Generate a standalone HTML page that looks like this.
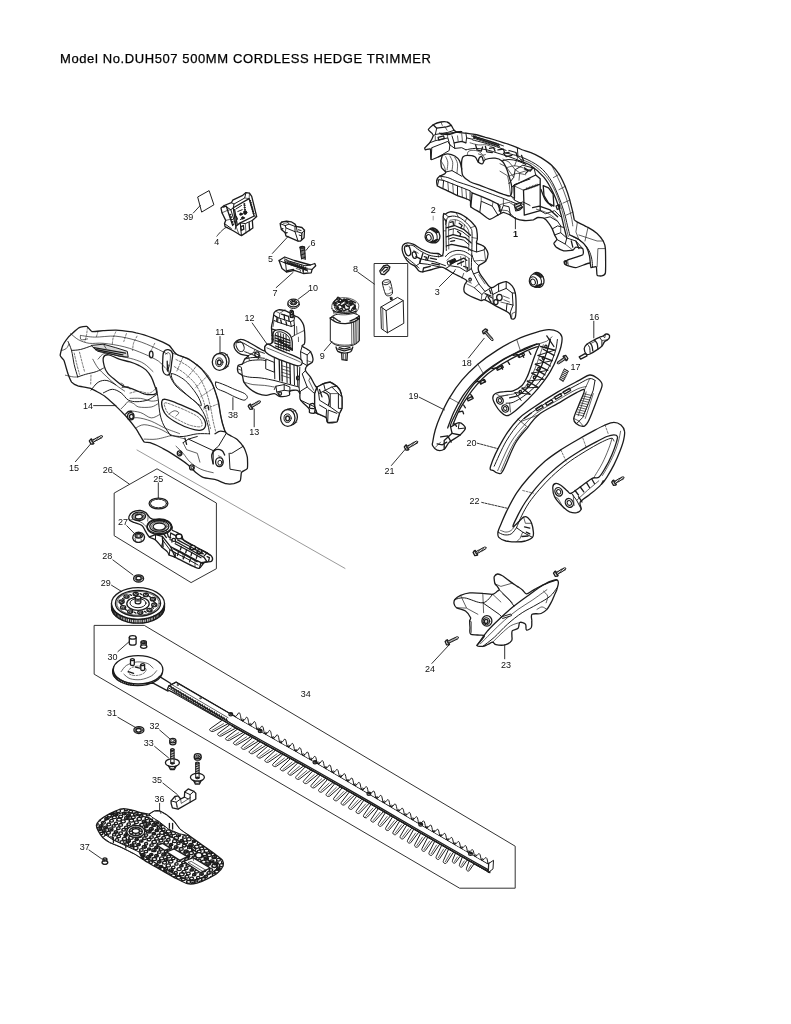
<!DOCTYPE html>
<html lang="en">
<head>
<meta charset="utf-8">
<title>Model No.DUH507 500MM CORDLESS HEDGE TRIMMER</title>
<style>
html,body{margin:0;padding:0;background:#fff;}
body{width:791px;height:1024px;overflow:hidden;font-family:"Liberation Sans",sans-serif;}
svg{display:block;position:absolute;left:0;top:0;will-change:transform;}
svg path,svg ellipse,svg circle,svg line,svg rect,svg polyline{fill:none;stroke:#1c1c1c;stroke-width:1.0;stroke-linecap:round;stroke-linejoin:round;}
svg .w{fill:#fff;}
svg .k{fill:#1c1c1c;}
svg .g{fill:#d9d9d9;}
svg .t{stroke-width:0.7;}
svg .tt{stroke-width:0.45;}
svg .b{stroke-width:1.3;}
svg .d{stroke-dasharray:2 1.5;stroke-width:0.6;}
svg .ld{stroke-width:0.9;}
svg text{font-family:"Liberation Sans",sans-serif;font-size:9px;fill:#111;text-anchor:middle;}
svg text.title{font-size:13px;text-anchor:start;fill:#000;stroke:#000;stroke-width:0.25;}
</style>
</head>
<body>
<svg width="791" height="1024" viewBox="0 0 791 1024">
<g id="p_0a">
<path d="M428.3 129.6C428.5 128.9 432.2 125.4 433.2 124.7C434.3 124.1 439.7 122.2 440.9 122C442 121.7 446.2 121.7 447.1 122C448 122.2 450.7 124.7 451.3 125.4C451.9 126.1 453.5 129.7 454.1 130.3C454.7 130.9 457.3 132.2 458.2 132.4C459.2 132.6 464.4 132.9 465.9 133.1C467.3 133.3 474 134.1 475.6 134.5C477.2 134.8 483.7 136.8 485.4 137.3C487 137.7 493.4 139.5 495.1 140C496.8 140.6 504.4 142.9 506.2 143.5C508.1 144.1 516 147.1 517.3 147.7C518.7 148.2 521.7 149.6 522.8 150C523.8 150.4 528.8 151.6 530.3 152.3C531.9 152.9 539.2 156.5 541 157.6C542.7 158.7 550.1 163.8 551.6 165.2C553.1 166.6 558 172.5 559.2 174.3C560.3 176 564.3 184.3 565.2 186.4C566.1 188.6 569.2 197.9 569.8 200.1C570.4 202.2 572.4 210.6 572.8 212.2C573.2 213.8 574 219 574.3 219.8C574.7 220.6 576.2 221.4 577.4 222.1C578.5 222.7 586.3 226.4 588 227.4C589.6 228.3 595.8 232.3 597.1 233.4C598.4 234.6 602.5 239.8 603.2 241C603.9 242.3 605.2 246 605.4 248.6C605.6 251.3 605.8 270.6 605.4 272.9C605.1 275.2 602.3 275.7 601.6 275.9C600.9 276.1 597.5 275.9 597.1 275.2C596.6 274.4 596.8 267.4 596.3 266.8C595.8 266.2 591.6 267.9 591 267.6C590.5 267.3 590.8 263 589.5 263C588.2 263 577.7 267.4 575.9 267.6C574 267.8 567.7 265.7 566.8 265.3C565.8 264.9 564.4 263.5 564.5 263C564.5 262.6 566 260.7 567.5 260C569 259.3 581.4 255.6 582.7 254.7C583.9 253.7 583.2 249.2 582.7 248.6C582.1 248 576.7 247 575.9 247.1C575 247.2 573.8 249.8 572.8 250.1C571.8 250.4 565.1 251.1 563.7 250.9C562.3 250.6 557 247.7 556.1 247.1C555.3 246.5 553.8 243.9 553.9 243.3C553.9 242.7 556.8 240.2 556.9 239.5C557 238.8 555 235.8 554.6 235C554.2 234.1 552.8 229.9 552.3 228.9C551.8 227.9 549.2 223.7 548.5 222.8C547.9 221.9 544.9 218.7 544 218.3C543.1 217.8 538.8 217.4 537.9 217.5C537 217.6 534.5 219.5 533.4 219.8C532.2 220 525.8 220.7 524.3 220.5C522.8 220.4 516.4 218.8 515.2 218.3C513.9 217.8 509.5 214.7 509.1 214.5C508.7 214.2 510.9 215.3 510.4 215.1C509.9 214.9 504.5 212.3 503.4 212.3C502.4 212.3 499 214.5 497.9 215.1C496.7 215.7 491 219.5 489.5 219.3C488 219.1 481.4 213.4 479.8 212.3C478.2 211.3 471.6 207.8 470.8 206.8C469.9 205.8 471.2 201.5 470.1 200.5C469 199.6 459.8 196.6 457.5 195.7C455.3 194.7 444.6 189.5 442.9 188.7C441.3 187.9 437.9 186.6 437.4 185.9C436.9 185.2 436.5 181.2 436.7 180.4C436.9 179.5 438.8 176.7 439.5 176.2C440.1 175.7 443.8 174.5 444.3 174.1C444.9 173.8 446 172.5 445.7 172C445.5 171.5 442 168.8 441.6 167.8C441.1 166.9 440.8 161.9 440.9 160.9C440.9 159.8 442.4 155.7 442.3 155.3C442.1 155 439.7 156.4 438.8 156.7C437.8 157.1 431.8 160.1 431.1 159.5C430.4 158.9 430.9 149.9 430.4 149.1C430 148.3 426 149.9 425.6 149.8C425.1 149.7 424.5 148.3 424.9 147.7C425.2 147.1 429 143.8 429.7 142.8C430.4 141.8 433 136.7 433.2 135.9C433.4 135 432.2 133.6 431.8 133.1C431.4 132.6 428.2 130.3 428.3 129.6Z" class="w b"/>
<path d="M433.2 124.7 L436.7 128.2 L446.4 126.8 L451.3 125.4" class="b"/>
<path d="M436.7 128.2 L435.3 134.5 L433.2 135.9"/>
<path d="M435.3 134.5 L447.8 132.4 L454.1 130.3"/>
<path d="M440.9 122 L442.3 125.4" class="t"/>
<path d="M445 126.8 L447.1 130.3" class="t"/>
<path d="M439.5 133.1C440.9 133.3 445 134.6 447.8 134.5C450.6 134.4 453.8 132.8 456.2 132.4C458.5 131.9 460.8 131.8 461.7 131.7" class="b"/>
<path d="M440.9 134.5 L460.3 131.4" stroke-width="2" stroke="#222"/>
<path d="M429.7 142.8 L435.3 140.7 L447.8 137.9 L449.9 144.9 L449.2 150.5 L438.8 156.7"/>
<path d="M431.1 159.5 L431.8 147.7 L447.8 141.4 L449.9 144.9"/>
<path d="M431.8 147.7 L430.4 149.1" class="t"/>
<path d="M435.3 140.7 L435.3 135.9" class="t"/>
<path d="M447.8 137.9 L447.1 133.1" class="t"/>
<path d="M438.1 137.3 L443.6 135.9 L444.3 138.6 L438.8 140Z" class="b"/>
<path d="M449.9 144.9 L454.8 148.4 L461.7 147.7 L465.9 149.8"/>
<path d="M454.8 148.4 L454.1 142.8 L452 135.9"/>
<path d="M454.1 142.8 L461.7 141.4 L465.9 142.8" class="b"/>
<path d="M457.5 135.9 L458.2 141.4" class="t"/>
<path d="M461.7 133.8 L462.4 140.7" class="t"/>
<path d="M465.9 133.1 L466.6 137.9 L472.8 139.3 L475.6 134.5"/>
<path d="M466.6 137.9 L465.9 142.8"/>
<path d="M442.3 155.3C443.2 155.1 445.7 153.8 447.8 153.9C449.9 154.1 452.8 154.9 454.8 156C456.7 157.2 458.5 158.7 459.6 160.9C460.8 163.1 461.4 167.8 461.7 169.2" class="b"/>
<path d="M440.9 160.9C441.4 161.8 443.5 164.6 444.3 166.5C445.1 168.3 445.5 171.1 445.7 172" class="t"/>
<path d="M445.7 156.7C446.1 157.6 447.6 160.1 447.8 162.3C448 164.5 447.2 168.7 447.1 169.9" class="t"/>
<path d="M449.9 156C450.4 157.1 452.3 159.8 452.7 162.3C453 164.7 452.1 169.2 452 170.6" class="t"/>
<path d="M454.8 157.4C455.2 158.5 457.2 161 457.5 163.7C457.9 166.3 457 171.8 456.9 173.4" class="t"/>
<path d="M445.7 172 L452 170.6 L456.9 173.4 L461.7 176.2"/>
<path d="M461.7 160.9C462 158.8 462.2 157.6 463.1 156.7C464 155.8 465.3 155.3 467.3 155.3C469.3 155.3 473.1 155.6 474.9 156.7C476.8 157.9 477.1 161.1 478.4 162.3C479.7 163.4 481.4 164.1 482.6 163.7C483.7 163.2 483.3 160.4 485.4 159.5C487.4 158.6 492.3 157.9 495.1 158.1C497.9 158.3 500.2 159.3 502 160.9C503.9 162.5 505.1 165.3 506.2 167.8C507.4 170.4 508.1 172.9 509 176.2C509.9 179.4 511.6 184.1 511.8 187.3C512 190.6 511.8 194.5 510.4 195.7C509 196.8 506.5 195.2 503.4 194.3C500.4 193.3 496 191.5 492.3 190.1C488.6 188.7 484.9 187.3 481.2 185.9C477.5 184.5 473.1 183.4 470.1 181.8C467.1 180.1 464.5 178.3 463.1 176.2C461.7 174.1 462 171.8 461.7 169.2C461.5 166.7 461.5 163 461.7 160.9Z" class="b" t="0.3"/>
<path d="M467.3 155.3C467.5 154.6 467.3 152 468.7 151.2C470.1 150.3 473.5 150.1 475.6 150.5C477.7 150.8 479.6 151.7 481.2 153.2C482.8 154.7 484.7 158.5 485.4 159.5" class="t"/>
<path d="M478.4 162.3C478.5 161.6 478.5 159 479.1 158.1C479.7 157.2 481.2 156.3 481.9 156.7C482.6 157.2 483 160.2 483.3 160.9" class="b"/>
<path d="M473.5 135.9 L474.8 138.6" class="b"/>
<path d="M475.1 136.4 L476.3 139.1" class="b"/>
<path d="M476.6 136.9 L477.9 139.6" class="b"/>
<path d="M478.1 137.4 L479.4 140.1" class="b"/>
<path d="M479.7 137.9 L480.9 140.6" class="b"/>
<path d="M481.2 138.4 L482.4 141.1" class="b"/>
<path d="M482.7 138.9 L484 141.6" class="b"/>
<path d="M484.2 139.4 L485.5 142.1" class="b"/>
<path d="M485.8 139.9 L487 142.6" class="b"/>
<path d="M487.3 140.4 L488.6 143.1" class="b"/>
<path d="M488.8 140.9 L490.1 143.6" class="b"/>
<path d="M490.4 141.4 L491.6 144.1" class="b"/>
<path d="M491.9 141.9 L493.1 144.6" class="b"/>
<path d="M493.4 142.4 L494.7 145.1" class="b"/>
<path d="M495 142.9 L496.2 145.6" class="b"/>
<path d="M496.5 143.4 L497.7 146.2" class="b"/>
<path d="M498 143.9 L499.3 146.7" class="b"/>
<path d="M471.5 135.9C473.3 136.4 478.6 137.8 482.6 138.9C486.5 140.1 491.6 141.7 495.1 142.8C498.6 144 502 145.4 503.4 145.9"/>
<path d="M472.8 140C474.7 140.5 480 141.7 484 142.8C487.9 143.9 492.8 145.4 496.5 146.7C500.2 148 504.6 149.8 506.2 150.5"/>
<path d="M465.9 149.8C467.5 149.5 472.1 148.4 475.6 148.4C479.1 148.4 483 149 486.8 149.8C490.5 150.6 494.2 152.1 497.9 153.2C501.6 154.4 505.3 155.4 509 156.7C512.7 158 518.3 160.2 520.1 160.9"/>
<path d="M470.1 142.8C471.5 143.2 475.6 144.6 478.4 144.9C481.2 145.2 484 144.3 486.8 144.9C489.5 145.5 493.7 147.8 495.1 148.4" class="t"/>
<path d="M475.6 144.9 L477 149.8 L481.2 151.2 L482.6 147" class="b"/>
<path d="M485.4 146.3 L486.8 151.9 L492.3 152.5" class="b"/>
<path d="M489.5 148.4 L493.7 147.7 L495.1 151.2" class="b"/>
<path d="M497.9 149.8 L503.4 149.1 L504.8 153.2 L509 152.5" class="b"/>
<path d="M503.4 153.2 L506.2 156.7 L511.8 155.3" class="b"/>
<path d="M509 150.5 L516 152.5 L517.3 156.7" class="b"/>
<path d="M478.4 153.9 L482.6 155.3 L485.4 154.6" class="t"/>
<path d="M502 160.9C503.2 160.7 506.5 159.5 509 159.5C511.6 159.5 514.6 160.1 517.3 160.9C520.1 161.7 524.3 163.8 525.7 164.4"/>
<path d="M506.2 167.8C507.6 167.5 511.8 165.8 514.6 165.8C517.3 165.8 521.5 167.5 522.9 167.8" class="t"/>
<path d="M509 176.2C510.4 175.7 514.6 173.6 517.3 173.4C520.1 173.2 524.3 174.6 525.7 174.8" class="t"/>
<path d="M511.8 187.3 L514.6 184.5 L514.6 198.4 L510.4 195.7"/>
<path d="M514.6 184.5 L530 179"/>
<path d="M517.3 147.7 L518 156.7 L525.7 164.4"/>
<path d="M518 156.7 L514.6 165.8" class="t"/>
<path d="M521.5 155.3 L523.6 160.9" class="b"/>
<path d="M524.3 167.8 L528.5 170.6 L525.7 173.4" class="b"/>
<path d="M439.5 176.2C440.9 176.4 444.8 176.7 447.8 177.6C450.8 178.5 453.8 180.4 457.5 181.8C461.3 183.1 466.1 184.5 470.1 185.9C474 187.3 477.5 188.7 481.2 190.1C484.9 191.5 488.6 192.9 492.3 194.3C496 195.7 500.2 197.2 503.4 198.4C506.7 199.7 510.4 201.3 511.8 201.9"/>
<path d="M442.9 188.7 L443.6 180.4 L457.5 185.9 L457.5 195.7"/>
<path d="M437.4 185.9 L438.8 179.7 L443.6 180.4"/>
<path d="M457.5 185.9 L470.1 190.8 L470.1 200.5"/>
<path d="M447.8 181.8 L448.5 190.8" class="t"/>
<path d="M452.7 183.8 L453.4 193.6" class="t"/>
<path d="M461.7 187.3 L462.4 197.7" class="t"/>
<path d="M465.9 189.4 L466.6 199.1" class="t"/>
<path d="M470.8 206.8 L472.1 192.9 L481.2 196.4 L489.5 199.8 L497.9 204 L500.7 212.3" class="b"/>
<path d="M472.1 192.9 L470.1 190.8"/>
<path d="M479.8 212.3 L481.2 201.2 L492.3 206.1 L497.9 215.1"/>
<path d="M481.2 201.2 L481.2 196.4" class="t"/>
<path d="M492.3 206.1 L493 201.9" class="t"/>
<path d="M500.7 212.3 L503.4 205.4 L509 206.8 L510.4 215.1"/>
<path d="M503.4 205.4 L503.4 198.4" class="t"/>
<path d="M497.9 204 L500 206.1 L499.3 211" class="b"/>
<path d="M440.9 176.9 L442.3 180.4" class="t"/>
<path d="M436.7 180.4 L438.8 179.7" class="t"/>
<path d="M511.8 201.9 L517.3 204 L522.9 201.9 L530 205.4"/>
<path d="M514.6 204 L520.1 202.6 L520.8 209.6 L516 211Z" class="g"/>
<path d="M515.3 206.1 L520.4 204.7" class="b"/>
<path d="M515.7 208.5 L520.7 207.1" class="b"/>
<path d="M506.1 153C508.8 153.8 517.2 155.3 522.8 157.6C528.3 159.9 534.9 163.1 539.4 166.7C544 170.2 547 174.3 550.1 178.8C553.1 183.4 555.4 188.7 557.6 194C559.9 199.3 562.1 205.4 563.7 210.7C565.4 216 566.5 221.8 567.5 225.9C568.5 229.9 569.4 233.4 569.8 235"/>
<path d="M518.2 160.6C520.2 161.4 526 162.4 530.3 165.2C534.6 168 540.2 172.8 544 177.3C547.8 181.9 550.4 186.9 553.1 192.5C555.8 198 558.2 205.1 559.9 210.7C561.7 216.2 562.6 221.3 563.7 225.9C564.9 230.4 566.2 236 566.8 238" class="b"/>
<path d="M520.5 159.4C522.5 160.2 528.3 161.6 532.6 164.4C536.9 167.3 542.5 172 546.3 176.5C550.1 181.1 552.8 186.2 555.4 191.7C558 197.3 560.2 204.4 561.9 209.9C563.6 215.5 564.5 220.7 565.5 225.1C566.6 229.5 567.8 234.6 568.3 236.5" class="t"/>
<path d="M551.6 165.2C552.6 167.2 555.6 173 557.6 177.3C559.7 181.6 561.9 186.4 563.7 191C565.5 195.5 567 200.3 568.3 204.6C569.5 208.9 570.5 213.2 571.3 216.8C572.1 220.3 572.6 224.3 572.8 225.9" class="t"/>
<path d="M559.2 174.3 L553.4 177.6" class="t"/>
<path d="M565.2 186.4 L558.9 189.7" class="t"/>
<path d="M569.8 200.1 L563 203.1" class="t"/>
<path d="M572.8 212.2 L566 215.2" class="t"/>
<path d="M513.7 185.7 L535.7 175 L540.2 178.8 L540.2 210.7 L524.3 215.2 L523.5 190.2 L540.2 184.1" class="b"/>
<path d="M513.7 185.7 L514.4 200.1 L523.5 204.6"/>
<path d="M523.5 190.2 L513.7 185.7" class="t"/>
<path d="M526.5 187.9 L526.7 189.7" class="t"/>
<path d="M528.1 187.4 L528.2 189.2" class="t"/>
<path d="M529.6 186.8 L529.7 188.7" class="t"/>
<path d="M531.1 186.3 L531.3 188.1" class="t"/>
<path d="M532.6 185.7 L532.8 187.6" class="t"/>
<path d="M534.1 185.2 L534.3 187" class="t"/>
<path d="M535.7 184.6 L535.8 186.5" class="t"/>
<path d="M537.2 184.1 L537.3 185.9" class="t"/>
<path d="M535.7 175 L534.1 168.2 L522.8 165.2 L515.2 169.7 L513.7 177.3 L509.1 183.4"/>
<path d="M515.2 169.7 L519.7 172.8 L534.1 168.2" class="t"/>
<path d="M519.7 172.8 L519 180.3" class="t"/>
<path d="M524.3 169 L530.3 171.2 L532.6 168.2" class="b"/>
<path d="M500 163.7 L506.1 166.7 L513.7 177.3" class="t"/>
<path d="M500 171.2 L507.6 175.8 L509.1 183.4" class="t"/>
<path d="M503 159.1 L509.1 162.1 L515.2 169.7" class="t"/>
<path d="M509.1 183.4 L510.6 195.5 L514.4 200.1" class="t"/>
<path d="M514.4 205.4 L519.7 203.1 L522.8 207.6 L518.2 210.7Z" class="g"/>
<path d="M515.2 207.6 L521.2 204.9" class="b"/>
<path d="M516.7 209.9 L522.5 206.9" class="b"/>
<path d="M500 204.6 L509.1 202.3 L514.4 205.4" class="t"/>
<path d="M500 209.9 L507.6 210.7 L515.2 218.3" class="t"/>
<path d="M543.2 185.7 L548.5 187.9 L553.1 194 L553.9 206.1 L548.5 203.1 L544 195.5Z" class="b"/>
<path d="M541 189.4C541.7 191.2 543.7 197.3 545.5 200.1C547.3 202.8 550.6 205.1 551.6 206.1" class="b"/>
<path d="M540.2 210.7 L545.5 213.7 L554.6 210.7 L560.7 216.8"/>
<path d="M532.6 207.6 L539.4 206.1 L550.1 209.9 L557.6 216.8" class="b"/>
<path d="M536.4 209.2C537.9 209.7 542.7 210.9 545.5 212.2C548.3 213.5 551.1 215.2 553.1 216.8C555.1 218.3 556.9 220.5 557.6 221.3" class="t"/>
<path d="M556.1 206.1 L559.2 204.6 L559.9 208.4 L557.3 209.5Z" class="b"/>
<path d="M544 218.3 L550.1 216.8 L557.6 221.3 L560.7 225.9"/>
<path d="M552.3 228.9 L557.6 225.9 L563.7 227.4"/>
<path d="M554.6 235 L560.7 232.7 L566.8 238 L565.2 244.1 L556.9 239.5"/>
<path d="M560.7 232.7 L560.7 225.9" class="t"/>
<path d="M565.2 244.1 L572.8 250.1" class="t"/>
<path d="M566.8 238 L575.9 241 L582.7 248.6"/>
<path d="M569.8 235C571.3 235.7 576.1 237.5 578.9 239.5C581.7 241.5 584.7 244.3 586.5 247.1C588.2 249.9 588.9 253.5 589.5 256.2C590.1 258.8 590.1 261.9 590.3 263" class="b"/>
<path d="M572.8 236.5C574.3 237.4 579.3 239.5 581.9 241.8C584.6 244.1 587.1 247.2 588.7 250.1C590.4 253 591.2 256.4 591.8 259.2C592.4 262 592.4 265.5 592.5 266.8"/>
<path d="M575.9 241 L578.9 248.6" class="b"/>
<path d="M571.3 241 L572.8 247.1" class="b"/>
<path d="M577.4 222.1 L575.9 231.9 L578.9 239.5" class="t"/>
<path d="M588 227.4 L585 241" class="t"/>
<path d="M578.9 235 L597.1 241 L603.2 241" class="t"/>
<path d="M597.1 266.8 L597.9 248.6 L605.4 248.6" class="t"/>
<ellipse cx="565.5" cy="262.6" rx="1.3" ry="1.9" transform="rotate(-20 565.5 262.6)" class="b"/>
<path d="M567.5 260 L568.3 265" class="t"/>
</g>
<g id="p_a">
<ellipse cx="433.4" cy="235.4" rx="6.2" ry="7.6" transform="rotate(-25 433.4 235.4)" class="w b"/>
<ellipse cx="431.4" cy="236.2" rx="5.6" ry="7" transform="rotate(-25 431.4 236.2)" class="w"/>
<ellipse cx="429.2" cy="237.2" rx="3.9" ry="5" transform="rotate(-20 429.2 237.2)" class="w b"/>
<ellipse cx="428.8" cy="237.5" rx="2.3" ry="3" transform="rotate(-20 428.8 237.5)" stroke-width="1.6"/>
<path d="M430.8 229.4l2.4 -1.0" class="b"/>
<path d="M435.4 240.2l2.6 -0.8" class="b"/>
<path d="M431.9 230.1l2.4 -1.0" class="b"/>
<path d="M434.5 240.7l2.6 -0.8" class="b"/>
<path d="M433 230.8l2.4 -1.0" class="b"/>
<path d="M433.6 241.2l2.6 -0.8" class="b"/>
<path d="M434.1 231.5l2.4 -1.0" class="b"/>
<path d="M432.7 241.7l2.6 -0.8" class="b"/>
<path d="M435.2 232.2l2.4 -1.0" class="b"/>
<path d="M431.8 242.2l2.6 -0.8" class="b"/>
<path d="M436.3 232.9l2.4 -1.0" class="b"/>
<path d="M430.9 242.7l2.6 -0.8" class="b"/>
<ellipse cx="537.6" cy="279.9" rx="6.2" ry="7.6" transform="rotate(-25 537.6 279.9)" class="w b"/>
<ellipse cx="535.6" cy="280.7" rx="5.6" ry="7" transform="rotate(-25 535.6 280.7)" class="w"/>
<ellipse cx="533.4" cy="281.7" rx="3.9" ry="5" transform="rotate(-20 533.4 281.7)" class="w b"/>
<ellipse cx="533" cy="282" rx="2.3" ry="3" transform="rotate(-20 533 282)" stroke-width="1.6"/>
<path d="M535 273.9l2.4 -1.0" class="b"/>
<path d="M539.6 284.7l2.6 -0.8" class="b"/>
<path d="M536.1 274.6l2.4 -1.0" class="b"/>
<path d="M538.7 285.2l2.6 -0.8" class="b"/>
<path d="M537.2 275.3l2.4 -1.0" class="b"/>
<path d="M537.8 285.7l2.6 -0.8" class="b"/>
<path d="M538.3 276l2.4 -1.0" class="b"/>
<path d="M536.9 286.2l2.6 -0.8" class="b"/>
<path d="M539.4 276.7l2.4 -1.0" class="b"/>
<path d="M536 286.7l2.6 -0.8" class="b"/>
<path d="M540.5 277.4l2.4 -1.0" class="b"/>
<path d="M535.1 287.2l2.6 -0.8" class="b"/>
<path d="M443.2 217.1C443.6 210.7 444.4 215 445.5 214.1C446.6 213.2 448.3 212.1 450.1 211.8C451.8 211.6 454.4 212.2 456.1 212.6C457.9 213 458.9 213.2 460.7 214.1C462.5 215 465 216.6 466.8 217.9C468.5 219.2 469.9 220.3 471.3 221.7C472.7 223.1 474.2 225 475.1 226.2C476 227.5 476.2 227.3 476.6 229.3C477 231.3 477.4 236.1 477.4 238.4C477.4 240.7 475.9 241.8 476.6 242.9C477.4 244.1 480.5 244.4 481.9 245.2C483.3 246 483.9 246.1 485 247.5C486 248.9 487.9 251.3 488 253.5C488.1 255.8 487.2 259.1 485.7 261.1C484.2 263.2 480 263.9 478.9 265.7C477.7 267.5 477.9 269.2 478.9 271.8C479.9 274.3 482.9 278.2 485 280.9C487 283.5 488.7 287.2 491 287.7C493.3 288.2 496.1 284.9 498.6 283.9C501.1 282.9 503.9 281.2 506.2 281.6C508.5 282 510.7 284.3 512.3 286.2C513.8 288.1 514.7 289.8 515.3 293C515.9 296.2 516.1 301.1 516.1 305.1C516.1 309.2 516.1 315 515.3 317.3C514.5 319.5 512.4 319.3 511.5 318.8C510.6 318.3 510.9 315.5 510 314.2C509.1 313 508.3 312.5 506.2 311.2C504 309.9 500.6 308.5 497.1 306.6C493.6 304.7 487.7 300.9 485 299.8C482.2 298.8 483.7 301.4 480.4 300.3C477.1 299.1 467.9 295.5 465.2 293C462.6 290.5 464.2 287.4 464.5 285.4C464.7 283.4 467.1 282.1 466.8 280.9C466.4 279.6 464.5 279.1 462.2 277.8C459.9 276.6 455.9 274.8 453.1 273.3C450.3 271.8 447.5 269.7 445.5 268.7C443.5 267.7 443.2 267.1 441 267.2C438.7 267.3 434.9 268.7 431.9 269.5C428.8 270.2 424.9 271.5 422.8 271.8C420.6 272 420.2 271.9 419 271C417.7 270.1 416.8 267.8 415.2 266.4C413.5 265.1 410.9 264.3 409.1 262.6C407.3 261 405.7 258.6 404.6 256.6C403.4 254.6 402.5 252.4 402.3 250.5C402 248.6 402.1 246.5 403 245.2C403.9 243.9 405.8 243.1 407.6 242.9C409.4 242.8 411.4 243.4 413.7 244.4C415.9 245.5 418.5 247.6 421.2 249C424 250.4 427.6 252 430.3 252.8C433.1 253.5 435.8 253.5 437.9 253.5C440.1 253.5 442.4 258.9 443.2 252.8C444.1 246.7 442.9 223.6 443.2 217.1Z" class="w b" t="0.2"/>
<path d="M446.3 250.5C446.3 245.7 445.5 227.4 446.3 221.7C447 216 448.8 217.1 450.8 216.4C452.8 215.6 456 216.3 458.4 217.1C460.8 218 463.2 219.9 465.2 221.7C467.3 223.5 469.4 225.5 470.5 227.8C471.7 230 471.9 228.5 472.1 235.3C472.2 242.2 471.4 263.2 471.3 268.7" t="0.2"/>
<path d="M448.8 249C448.8 244.8 448.3 228.8 448.8 224C449.4 219.1 450.7 220.4 452.3 219.9C453.9 219.3 456.5 219.8 458.4 220.5C460.3 221.2 462.1 222.5 463.7 224C465.3 225.4 467.1 227.4 468 229.3C468.8 231.2 468.9 231.8 469 235.3C469.1 238.9 468.6 248 468.6 250.5" class="t" t="0.2"/>
<path d="M443.2 217.1 L446.3 221.7"/>
<path d="M445.5 214.1 L448.2 216.8 L450.8 216.4"/>
<path d="M456.1 212.6 L458.4 217.1" class="t"/>
<path d="M466.8 217.9 L465.2 221.7" class="t"/>
<path d="M475.1 226.2 L470.5 227.8" class="t"/>
<path d="M477.4 238.4 L472.1 237.6" class="t"/>
<path d="M446.3 227.8 L454.6 225.5 L463.7 229.3 L470.5 235.3" class="b"/>
<path d="M448.8 230 L454.6 228.5 L462.2 231.5 L469 236.9"/>
<path d="M446.3 236.9 L453.1 234.6 L465.2 237.6 L471.3 242.9" class="b"/>
<path d="M448.8 239.1 L453.1 237.6 L463.7 240.2 L469 244.7"/>
<path d="M446.3 246 L451.6 244.4 L466.8 247.5 L471.3 250.5" class="b"/>
<path d="M454.6 225.5 L455.4 220.2" class="t"/>
<path d="M453.1 234.6 L453.4 229.3" class="t"/>
<path d="M463.7 229.3 L464.5 224.7" class="t"/>
<path d="M450.1 222.4 L453.1 221.7 L453.4 224.4" class="b"/>
<path d="M459.2 223.2 L462.2 225.5 L460.7 227.8" class="b"/>
<path d="M457.6 231.5 L460.7 233.8 L459.9 236.1" class="b"/>
<path d="M450.8 241.4 L454.6 240.7" class="b"/>
<path d="M444 220.2 L445.5 219.4 L445.5 224.7" class="t"/>
<path d="M444 230.8 L445.5 230.8" class="t"/>
<path d="M445.5 256.6C446.1 255.9 447.5 253.8 449.3 252.8C451.1 251.8 453.7 250.8 456.1 250.5C458.5 250.3 461.3 250.5 463.7 251.3C466.1 252 469.4 254.4 470.5 255.1"/>
<path d="M447 260.4C447.7 259.7 449.2 257.6 450.8 256.6C452.5 255.6 454.7 254.6 456.9 254.3C459 254.1 461.7 254.4 463.7 255.1C465.7 255.7 468.1 257.8 469 258.4" class="t"/>
<path d="M448.2 261.4 L454.9 258.4 L456.4 261.4 L450.1 264.9Z" class="k"/>
<ellipse cx="448.8" cy="263.3" rx="1.4" ry="2" transform="rotate(-25 448.8 263.3)" class="w"/>
<path d="M456.4 261.4 L463.7 258.1 L466.8 260.4" class="b"/>
<path d="M457.6 264.2 L463.7 261.4" class="b"/>
<path d="M460.7 256.6 L461.4 265.7" class="t"/>
<path d="M465.2 256.6 L466 268.7" class="t"/>
<path d="M469 258.4 L469 270.2"/>
<path d="M445.5 268.7 L450.1 265.7 L459.2 267.2 L466.8 271.8 L471.3 268.7"/>
<path d="M453.1 273.3 L455.4 269.5" class="t"/>
<path d="M462.2 277.8 L463.7 273.3" class="t"/>
<path d="M463.7 266.4 L467.5 267.5 L467.1 270.5" class="b"/>
<path d="M406.1 246.7C407.1 246.5 409.9 244.6 412.1 245.2C414.4 245.8 416.9 248.9 419.7 250.5C422.5 252.2 425.8 254.1 428.8 255.1C431.9 256.1 435.5 256.5 437.9 256.6C440.3 256.7 442.4 255.9 443.2 255.8"/>
<path d="M406.1 257.3C407.3 258.4 411.5 261.6 413.7 263.4C415.8 265.2 418.1 267.2 419 268"/>
<ellipse cx="407.6" cy="250.5" rx="2.8" ry="5.4" transform="rotate(-15 407.6 250.5)" class="b"/>
<ellipse cx="414.4" cy="255.1" rx="2" ry="3.4" transform="rotate(-15 414.4 255.1)" class="b"/>
<path d="M415.2 266.4 L419.7 263.4 L427.3 264.2 L441 267.2"/>
<path d="M419.7 263.4 L421.2 258.9 L427.3 260.4 L434.9 261.9 L445.5 265.7"/>
<path d="M422.8 271.8 L423.5 268 L430.3 266.4" class="b"/>
<path d="M421.2 258.9 L422.8 253.5" class="b"/>
<path d="M427.3 260.4 L428.8 255.8" class="b"/>
<path d="M415.9 256.6 L420.5 258.9 L419.7 262.6" class="b"/>
<path d="M424.3 256.6 L426.5 257.3 L425.8 259.9" class="b"/>
<path d="M430.3 258.1 L436.4 259.3" class="b"/>
<path d="M431.9 263.4 L439.4 264.9" class="b"/>
<path d="M413.7 250.5 L418.2 253.2" class="t"/>
<path d="M437.9 253.5 L438.7 257.3" class="t"/>
<path d="M472.1 250.5 L476.6 252 L476.6 242.9"/>
<path d="M476.6 252 L484.2 249.8 L485 247.5"/>
<path d="M484.2 249.8 L485.7 261.1" class="t"/>
<path d="M472.1 255.1C472.4 256.1 473.2 259.4 474.3 261.1C475.5 262.9 478.1 264.9 478.9 265.7"/>
<path d="M474.3 261.1 L480.4 260.4 L485.7 261.1" class="t"/>
<path d="M471.3 268.7 L473.6 274 L478.9 271.8"/>
<path d="M473.6 274 L478.9 283.9 L485 291.5 L491 287.7"/>
<path d="M478.9 283.9 L474.3 287.7 L466.8 283.9" class="t"/>
<path d="M474.3 287.7 L481.9 294.5 L485 291.5"/>
<path d="M481.9 294.5 L481.2 300.3" class="t"/>
<path d="M466.8 280.9 L471.3 283.1" class="t"/>
<ellipse cx="470.1" cy="279.6" rx="1.2" ry="1.5" class="b"/>
<path d="M478.9 274.8 L485 283.9" class="t"/>
<path d="M491 287.7 L492.8 294.5 L498.6 291.5 L498.6 283.9"/>
<path d="M492.8 294.5 L493.3 304.4"/>
<path d="M498.6 291.5 L506.2 288.4 L506.2 281.6"/>
<path d="M506.2 288.4 L512.3 293 L515.3 293"/>
<path d="M512.3 293 L513 305.1 L510.7 311.2 L510 314.2"/>
<path d="M506.2 311.2 L507 303.6 L513 305.1"/>
<ellipse cx="499.4" cy="297.5" rx="2.7" ry="3.1" class="b"/>
<ellipse cx="495.9" cy="302.1" rx="2.1" ry="2.5" class="b"/>
<path d="M485 299.8 L486.8 295.3 L492.8 298.3"/>
<path d="M488 296.8 L491 302.1" class="b"/>
<path d="M500.9 302.1 L507 303.6" class="t"/>
<path d="M485 293.7 L491 296" class="b"/>
<path d="M489.5 290 L491 293.7" class="b"/>
<path d="M511.5 318.8 L512 313.5 L515.3 312" class="t"/>
<path d="M503.2 296 L509.2 298.3" class="t"/>
<path d="M503.9 299.8 L509.5 302.1" class="t"/>
</g>
<g id="p_b">
<path d="M198 196.8 L209.1 190.6 L213.9 204.8 L202 211.9Z" class="w"/>
<path d="M221 208.1 L224.2 205.5 L231.4 202.7 L232.7 200.2 L242.2 195.7 L246 192.6 L249.5 193.2 L251.7 196.4 L256.7 216.6 L252.3 220.4 L252.9 228 L241.5 235.6 L239 234.3 L232.7 230.5 L225.1 226.7 L224.5 223.6 L225.7 220.4 L222 212.8Z" class="w b"/>
<path d="M233.3 207.8 L249.1 198.6 L254.2 216 L240.3 222.9 L235.9 226.1Z" class="b"/>
<path d="M231.4 202.7 L234 204 L233.3 207.8 L230.8 209.7 L224.2 205.5"/>
<path d="M234 204 L244.7 198 L246 192.6"/>
<path d="M244.7 198 L249.1 198.6" class="t"/>
<path d="M249.5 193.2 L249.1 198.6" class="t"/>
<path d="M230.8 209.7 L235.9 226.1 L235.2 229.2"/>
<path d="M222 212.8 L227.6 210.3 L230.8 209.7" class="t"/>
<path d="M227.6 210.3 L232.7 225.5" class="b"/>
<path d="M223.2 207.1 L226.4 206.2 L227.6 210.3" class="b"/>
<path d="M225.7 220.4 L229.5 219.5" class="t"/>
<path d="M224.5 223.6 L231.4 228.6"/>
<path d="M240.3 222.9 L240.9 230.5 L241.5 235.6"/>
<path d="M252.3 220.4 L245.3 223.6 L240.3 222.9"/>
<path d="M245.3 223.6 L246 233" class="t"/>
<path d="M249.1 222.3 L249.6 230.5" class="b"/>
<path d="M240.9 226.7 L243.4 225.5 L243.8 229.2 L241.2 230.5Z" class="b"/>
<path d="M235.9 226.1 L239 234.3" class="t"/>
<path d="M254.2 216 L256.7 216.6" class="t"/>
<path d="M235.9 209 L241.5 205.5" stroke-width="1.8"/>
<path d="M237.8 211.5 L242.2 209.7" stroke-width="1.8"/>
<path d="M240.3 219.5 L244.7 217.9" stroke-width="1.8"/>
<path d="M240 214.7 L242.8 213.8" class="b"/>
<path d="M236.2 216.6 L237.4 219.1" class="b"/>
<ellipse cx="245.2" cy="212.5" rx="1.6" ry="1.9" class="k"/>
<ellipse cx="240.9" cy="214.1" rx="1" ry="1.2" class="k"/>
<ellipse cx="242.8" cy="217.9" rx="1.2" ry="1.2" class="k"/>
<ellipse cx="250.1" cy="200.8" rx="0.5" ry="0.5" class="k"/>
<ellipse cx="250.7" cy="202.9" rx="0.5" ry="0.5" class="k"/>
<ellipse cx="251.2" cy="205" rx="0.5" ry="0.5" class="k"/>
<ellipse cx="251.8" cy="207.1" rx="0.5" ry="0.5" class="k"/>
<ellipse cx="252.4" cy="209.1" rx="0.5" ry="0.5" class="k"/>
<ellipse cx="252.9" cy="211.2" rx="0.5" ry="0.5" class="k"/>
<ellipse cx="253.5" cy="213.3" rx="0.5" ry="0.5" class="k"/>
<ellipse cx="244.2" cy="204" rx="0.5" ry="0.5" class="k"/>
<ellipse cx="244.4" cy="205.7" rx="0.5" ry="0.5" class="k"/>
<ellipse cx="244.6" cy="207.5" rx="0.5" ry="0.5" class="k"/>
<ellipse cx="244.8" cy="209.3" rx="0.5" ry="0.5" class="k"/>
<ellipse cx="230.2" cy="214.7" rx="0.5" ry="0.5" class="k"/>
<ellipse cx="230.9" cy="217.1" rx="0.5" ry="0.5" class="k"/>
<ellipse cx="231.7" cy="219.5" rx="0.5" ry="0.5" class="k"/>
<ellipse cx="232.4" cy="221.9" rx="0.5" ry="0.5" class="k"/>
<ellipse cx="233.2" cy="224.3" rx="0.5" ry="0.5" class="k"/>
<path d="M234.6 209.7 L237.1 224.2" class="b"/>
<path d="M216.9 236.2C217.5 235.5 219.3 233.1 220.7 231.8C222.1 230.4 224 228.7 225.1 228C226.3 227.3 227.2 227.6 227.6 227.5" class="ld"/>
<path d="M280.2 223.7 L282.1 221.8 L286.7 221.1 L291.2 221.8 L295 224.1 L296.2 226.4 L301.9 227.5 L304.5 230.2 L304.1 237.8 L300.3 241.2 L298.1 241.2 L285.9 235.9 L285.2 232.8 L281.4 229.4 L280.6 226.4Z" class="w b"/>
<path d="M280.2 223.7 L285.2 225.6 L285.9 227.9 L295 231.7 L298.1 241.2"/>
<path d="M285.9 227.9 L285.2 232.8" class="t"/>
<path d="M285.2 225.6 L289 224.1 L295 226.4 L296.2 226.4"/>
<path d="M289 224.1 L286.7 221.1" class="t"/>
<path d="M295 226.4 L295 231.7"/>
<path d="M296.2 226.4 L297.3 231.7 L301.9 233.2 L304.5 230.2"/>
<path d="M301.9 233.2 L301.5 239.3" class="b"/>
<path d="M297.3 231.7 L295.4 231.8" class="t"/>
<path d="M298.4 229.8 L301.1 230.5" stroke-width="1.6"/>
<path d="M299.2 235.1 L300.7 235.6" stroke-width="1.6"/>
<path d="M282.1 221.8 L283.3 223.3 L288.2 222.6" class="t"/>
<path d="M281.4 229.4 L282.9 228.7" class="b"/>
<path d="M285.5 233.2 L287.1 232.6" class="b"/>
<path d="M300 247.5 L304.6 248.1" stroke-width="1.5"/>
<path d="M300.2 248.8 L304.7 249.4" stroke-width="1.5"/>
<path d="M300.4 250.2 L304.8 250.8" stroke-width="1.5"/>
<path d="M300.5 251.6 L304.9 252.2" stroke-width="1.5"/>
<path d="M300.7 252.9 L305 253.5" stroke-width="1.5"/>
<path d="M300.9 254.3 L305 254.9" stroke-width="1.5"/>
<path d="M301 255.7 L305.1 256.3" stroke-width="1.5"/>
<path d="M301.2 257 L305.2 257.6" stroke-width="1.5"/>
<path d="M301.4 258.4 L305.3 259" stroke-width="1.5"/>
<path d="M300 247.2 L301.6 259.1"/>
<path d="M304.6 247 L305.3 259.3"/>
<ellipse cx="302.3" cy="247.2" rx="2.3" ry="0.9" class="b"/>
<path d="M279 260.5 L284.7 257 L294.4 260.5 L310.4 265 L314.8 263.5 L315.7 265.8 L312.1 269.4 L311.2 272.9 L303.3 273.5 L294.4 270.3 L286.5 272 L282 268.5Z" class="w b"/>
<path d="M279 260.5 L285.6 263.2 L303.3 268.5 L312.1 269.4"/>
<path d="M285.6 263.2 L286.5 272"/>
<path d="M284.7 258.8 L289.1 261.1 L305 265.8 L310.4 265"/>
<path d="M303.3 268.5 L303.3 273.5"/>
<path d="M289.1 261.4 L288.8 263.5" class="t"/>
<path d="M290.9 261.9 L290.5 264.1" class="t"/>
<path d="M292.7 262.5 L292.3 264.6" class="t"/>
<path d="M294.4 263 L294.1 265.1" class="t"/>
<path d="M296.2 263.5 L295.8 265.7" class="t"/>
<path d="M298 264.1 L297.6 266.2" class="t"/>
<path d="M299.7 264.6 L299.4 266.7" class="t"/>
<path d="M301.5 265.1 L301.2 267.3" class="t"/>
<path d="M303.3 265.7 L302.9 267.8" class="t"/>
<path d="M289.1 263.5 L305 268.1" class="b"/>
<path d="M287.3 270.6 L293.5 269.4" class="b"/>
<path d="M296.2 268.5 L300.6 269.9 L300.1 272" class="t"/>
<path d="M306.8 267.6 L307.7 272" class="t"/>
<path d="M284.7 260.1 L285.6 262.6" class="b"/>
<path d="M286.8 260.8 L287.7 263.3" class="b"/>
<path d="M288.8 261.6 L289.7 264.1" class="b"/>
<path d="M290.8 262.3 L291.8 264.8" class="b"/>
<path d="M292.9 263 L293.8 265.5" class="b"/>
<path d="M294.9 263.8 L295.9 266.3" class="b"/>
<path d="M297 264.5 L297.9 267" class="b"/>
<path d="M299 265.3 L299.9 267.8" class="b"/>
<path d="M301.1 266 L302 268.5" class="b"/>
<path d="M303.1 266.7 L304 269.2" class="b"/>
<path d="M305.2 267.5 L306.1 270" class="b"/>
<path d="M284.1 262.4 L306.9 270.3" class="b"/>
<path d="M297.8 267.1 L303.5 268.8 L302.9 271.1" class="b"/>
<ellipse cx="293.5" cy="304.6" rx="5.8" ry="3.9" class="w"/>
<ellipse cx="293.5" cy="303" rx="5.6" ry="3.8" class="w b"/>
<ellipse cx="293.5" cy="302.6" rx="3.5" ry="2.3"/>
<ellipse cx="293.5" cy="302.8" rx="2" ry="1.3" class="b"/>
<path d="M379.8 270.9 L383.6 265.8 L387.4 264.9 L389.9 267.1 L388.7 270.2 L384.2 274.7 L381.1 274Z" class="w b"/>
<path d="M381.7 270.9 L384.9 267.1 L388 267.7" class="b"/>
<path d="M383.6 272.1 L387.4 269" class="b"/>
<path d="M383.6 265.8 L384.2 267.7" class="t"/>
<path d="M382.4 283.1C382.2 280.9 383.3 280.9 384.2 280.3C385.2 279.8 387 279.5 388 279.7C389.1 279.9 389.6 279.6 390.3 281.6C391.1 283.6 392.3 289.5 392.5 291.7C392.6 293.9 392 294.2 391.2 294.9C390.4 295.6 388.4 296 387.4 295.8C386.4 295.6 386.1 295.7 385.3 293.6C384.4 291.5 382.5 285.3 382.4 283.1Z" class="w"/>
<path d="M382.4 283.1C382.8 283.4 383.8 284.6 384.9 284.8C385.9 284.9 387.8 284.4 388.7 283.9C389.6 283.4 390 282 390.3 281.6"/>
<path d="M383.4 281.6C383.8 281.8 384.8 282.6 385.8 282.6C386.7 282.6 388.5 281.8 389.1 281.6" class="t"/>
<path d="M385.3 293.6C385.7 293.7 386.8 294.3 388 294C389.2 293.7 391.7 292.1 392.5 291.7" class="t"/>
<path d="M389.1 286.7C389.3 286.9 390.5 287.4 390.6 287.9C390.7 288.5 389.7 289.5 389.6 289.8" class="t"/>
<path d="M390.3 297.4 L390.8 299.6 L392.1 299.6 L391.8 297.4" class="b"/>
<path d="M381.1 306.9 L397.5 297.4 L403.2 300.6 L403.8 323.3 L387.4 332.8 L381.7 329Z" class="w"/>
<path d="M381.1 306.9 L386.1 310.7 L403.2 300.6"/>
<path d="M386.1 310.7 L387.4 332.8"/>
<path d="M382.7 308.4 L383.2 329.4" class="t"/>
<path d="M330.3 317.9 L330.3 340.7 C334.1 348.3 355.6 348.3 359.4 340.7 L359.4 316 C355.6 311 334.1 312.2 330.3 317.9 Z" class="w" stroke="#777" stroke-width="0.8"/>
<path d="M330.3 318.6C331.4 319.2 334.1 321.5 336.7 322.4C339.2 323.2 342.6 323.7 345.5 323.6C348.5 323.5 352 322.7 354.4 321.7C356.7 320.8 358.6 318.6 359.4 317.9" class="b"/>
<path d="M330.3 340.7C331.2 341.2 333.1 343.1 335.4 343.8C337.7 344.6 341.3 345 344.2 345.1C347.2 345.2 350.6 345 353.1 344.2C355.6 343.5 358.4 341.3 359.4 340.7" class="t"/>
<path d="M353.7 322.4 L354 343" stroke-width="2.2"/>
<path d="M355.9 320.5 L356.1 342.2"/>
<path d="M351.6 322 L351.8 343.8" class="t"/>
<path d="M357.9 317.9 L358.2 341.7" class="t"/>
<path d="M330.3 317.9 L333.1 316.9 L337.9 320.5 L340.2 321.7" class="b"/>
<path d="M333.1 316.9 L333.9 320.5" class="t"/>
<path d="M349.9 321.1 L355.6 318.6 L359.4 316" class="b"/>
<path d="M356.3 317.9 L359.4 319.2" class="b"/>
<path d="M336 347C336.3 347.7 336.6 350.4 337.9 351.4C339.3 352.4 342.1 353 344.2 353.1C346.4 353.1 349.1 352.8 350.6 351.8C352 350.8 352.5 347.8 352.8 347" class="b"/>
<path d="M337.9 348.9C339 349.2 342 350.8 344.2 350.8C346.5 350.8 350 349.2 351.2 348.9" class="b"/>
<path d="M339.2 347.6C340 347.8 342.5 348.9 344.2 348.9C346 348.9 349 347.6 349.9 347.4" class="b"/>
<path d="M341.7 353.1 L342 359.6 L347 360.3 L347.4 352.7" class="b"/>
<path d="M343.6 354 L343.7 359.6" class="t"/>
<path d="M345.5 354 L345.6 359.9" class="t"/>
<path d="M331.9 308.4C331.3 306.5 332.1 303.8 333.1 302.1C334.1 300.4 335.9 299.1 337.9 298.3C340 297.6 343 297.5 345.5 297.7C348 297.9 350.9 298.5 353.1 299.6C355.2 300.6 357.6 302.3 358.4 304C359.2 305.7 358.6 308.2 357.9 309.7C357.2 311.2 356.4 312.3 354.4 313.1C352.3 314 348.5 314.6 345.5 314.8C342.6 314.9 338.9 314.9 336.7 313.9C334.4 312.8 332.4 310.4 331.9 308.4Z" class="w t"/>
<path d="M334.8 307.2C334.8 305.7 336.3 303.8 337.9 302.8C339.5 301.7 341.9 301 344.2 300.9C346.6 300.8 349.9 301.3 351.8 302.1C353.7 303 355.4 304.5 355.6 305.9C355.8 307.3 354.8 309.3 353.1 310.3C351.4 311.4 348 312.1 345.5 312.2C343 312.4 339.7 312.2 337.9 311.4C336.1 310.5 334.8 308.6 334.8 307.2Z"/>
<path d="M336.7 299C336.9 298.6 337.4 297.1 337.9 297.1C338.5 297.1 339.7 298.2 339.8 299C339.9 299.7 338.2 300.9 338.6 301.5C338.9 302.1 340.9 303 341.7 302.8C342.6 302.5 342.7 300.5 343.6 300.2C344.6 299.9 346.7 300.2 347.4 300.9C348.1 301.5 347.3 303.6 348 304C348.8 304.4 350.8 303.2 351.8 303.4C352.9 303.6 354 304.4 354.4 305.3C354.7 306.1 353.8 307.9 353.7 308.4" class="b"/>
<path d="M334.1 305.3C334.7 305.5 336.7 305.8 337.3 306.5C337.9 307.3 337.2 309.4 337.9 309.7C338.7 310 340.8 308.2 341.7 308.4C342.7 308.7 342.7 310.9 343.6 311C344.6 311.1 346.2 309 347.4 309.1C348.6 309.2 349.7 311.7 350.6 311.6C351.4 311.5 351.5 308.9 352.5 308.4C353.4 308 355.6 309 356.3 309.1" class="b"/>
<path d="M339.2 304.7C339.7 304.9 341.4 306 342.4 305.9C343.3 305.8 343.9 303.9 344.9 304C345.8 304.1 347.1 306.3 348 306.5C349 306.8 350.1 305.5 350.6 305.3" class="b"/>
<path d="M336 302.1C336.6 302 338.5 301.2 339.2 301.5C339.9 301.8 340.7 303.4 340.5 304C340.2 304.7 338.3 305.1 337.9 305.3" class="b"/>
<path d="M344.2 307.2C344.6 307.6 345.3 309.5 346.1 309.7C347 309.9 348.9 309.1 349.3 308.4C349.7 307.8 348.8 306.3 348.7 305.9" class="b"/>
<path d="M333.1 304C333.5 303.4 334.2 301.1 335.4 300.2C336.6 299.4 339.2 298.8 340.5 299C341.7 299.2 341.9 301.5 343 301.5C344 301.5 345.3 299.1 346.8 299C348.3 298.9 350.4 300.2 351.8 300.9C353.3 301.5 355 302.4 355.6 302.8" class="b"/>
<path d="M333.5 310.3C334 310.7 335.3 311.8 336.7 312.2C338 312.7 340 312.9 341.7 313.1C343.4 313.3 345.1 313.6 346.8 313.5C348.5 313.4 350.3 313 351.8 312.6C353.4 312.2 355.5 311.2 356.3 311" class="b"/>
<path d="M337.9 300.2C338.3 300.5 339.4 302.3 340.5 302.1C341.5 301.9 343 299 344.2 299C345.5 299 346.6 301.7 348 302.1C349.5 302.5 352.3 301.6 353.1 301.5" class="b"/>
<path d="M333.1 310.3 L334.1 314.1" class="t"/>
<path d="M355.6 311.6 L356.3 314.1" class="t"/>
<path d="M341.7 305.3 L344.2 304.7 L344.9 307.2 L342.7 308.1Z" class="k"/>
<path d="M349.9 302.8 L352.5 303.4 L352.1 305.3 L350.1 304.8Z" class="k"/>
<path d="M336.7 307.2 L338.6 306.8 L338.7 308.8 L336.9 309.1Z" class="k"/>
<path d="M345.5 301.5 L347.8 301.7 L347.5 303.5 L345.5 303.3Z" class="k"/>
<path d="M353.1 307.2 L355.1 306.8 L355.4 308.8 L353.6 309.3Z" class="k"/>
<path d="M339.2 310.3 L341.7 310.1 L342 311.6 L339.4 311.9Z" class="k"/>
<path d="M334.1 302.8 L336.2 302.3 L336.4 304 L334.4 304.5Z" class="k"/>
</g>
<g id="p_c">
<ellipse cx="221.9" cy="361" rx="7.2" ry="8.4" class="w b"/>
<ellipse cx="219.5" cy="361.9" rx="7.2" ry="8.4" class="w b"/>
<ellipse cx="219.3" cy="362.2" rx="3.6" ry="4.3"/>
<ellipse cx="219.3" cy="362.4" rx="1.9" ry="2.4" class="b"/>
<path d="M224.9 355.3l2.6 -0.9" class="t"/>
<path d="M226.2 366.8l2.4 -0.6" class="t"/>
<ellipse cx="290.2" cy="417" rx="7.2" ry="8.4" class="w b"/>
<ellipse cx="287.8" cy="417.9" rx="7.2" ry="8.4" class="w b"/>
<ellipse cx="287.6" cy="418.2" rx="3.6" ry="4.3"/>
<ellipse cx="287.6" cy="418.4" rx="1.9" ry="2.4" class="b"/>
<path d="M293.2 411.3l2.6 -0.9" class="t"/>
<path d="M294.5 422.8l2.4 -0.6" class="t"/>
<path d="M215.7 382C216.8 381.6 222.4 384.1 225 385.1C227.6 386.1 232.3 388.4 234.9 389.5C237.5 390.6 243 392.5 244.7 393.6C246.4 394.7 247.5 396.5 247.4 397.4C247.3 398.3 245.6 400.3 243.9 400.2C242.2 400.1 237.4 398 234.9 396.9C232.4 395.8 227.4 393.1 225 392C222.6 390.9 218.2 389.7 217 388.4C215.8 387.1 214.6 382.4 215.7 382Z" class="w"/>
<path d="M248.2 406.1 L250 409.3 L252 409.1 L252.8 408.6 L250.3 404 L249.4 404.5Z" class="w b"/>
<path d="M252 409.1 L249.4 404.5" class="t"/>
<path d="M251 405.4 L259 400.8 L260.6 401.2 L260.1 402.7 L252.1 407.3Z" class="w"/>
<path d="M251.5 405.1 L253.2 406.6" class="t"/>
<path d="M252.8 404.3 L254.5 405.9" class="t"/>
<path d="M254.1 403.6 L255.8 405.2" class="t"/>
<path d="M255.4 402.8 L257.1 404.4" class="t"/>
<path d="M256.8 402.1 L258.4 403.7" class="t"/>
<path d="M258.1 401.4 L259.7 402.9" class="t"/>
<path d="M273.5 316.4C273.8 314.9 273.5 313.4 274.3 312.3C275.1 311.2 276.6 310.1 278.4 309.8C280.2 309.5 282.9 310.1 285 310.6C287 311.2 289.6 312.9 290.7 313.1C291.8 313.2 291.2 311.7 291.6 311.4C292 311.2 292.8 310.8 293.2 311.4C293.6 312.1 293.2 314.6 294 315.5C294.8 316.5 296.8 316.1 298.1 317.2C299.5 318.3 301.2 320.3 302.2 322.1C303.3 323.9 303.8 324.4 304.2 327.9C304.6 331.3 305 339.6 304.7 342.7C304.4 345.7 301.8 344.9 302.2 345.9C302.7 347 305.8 348.3 307.2 349.2C308.5 350.2 309.5 350.2 310.5 351.7C311.4 353.2 312.7 356.5 312.9 358.3C313.2 360.1 313.1 361.2 312.1 362.4C311.1 363.6 308.3 364.3 307.2 365.7C306.1 367 305 368.7 305.5 370.6C306.1 372.5 309 374.8 310.5 377.2C312 379.5 313.5 382.9 314.6 384.6C315.7 386.2 315.5 387.2 317 387C318.5 386.9 321.4 384.6 323.6 383.7C325.8 382.9 328 381.7 330.2 382.1C332.4 382.5 335.1 384.8 336.8 386.2C338.4 387.6 339.2 388.5 340 390.3C340.9 392.1 341.4 393.9 341.7 396.9C342 399.9 342.1 405.7 341.7 408.4C341.3 411.1 340 411.1 339.2 413.3C338.4 415.5 338.7 420 336.8 421.5C334.8 423.1 329.5 423.1 327.7 422.4C325.9 421.7 327.9 418.9 326.1 417.4C324.3 415.9 319 414.2 317 413.3C315.1 412.5 315.1 412.5 314.6 412.5C314 412.5 314.6 413.3 313.7 413.3C312.9 413.3 310.5 413.3 309.6 412.5C308.8 411.7 310.3 410.5 308.8 408.4C307.3 406.3 302.1 402.6 300.6 400.2C299.1 397.7 300.3 395.3 299.8 393.6C299.2 392 299 390.7 297.3 390.3C295.7 389.9 291.3 390.3 289.9 391.1C288.5 392 290.7 394.3 289.1 395.3C287.5 396.2 282.5 396.8 280.1 396.6C277.6 396.3 276.6 393.8 274.3 393.6C272 393.4 268.8 395.3 266.1 395.3C263.3 395.3 260.6 394.7 257.9 393.6C255.1 392.5 252 390.6 249.7 388.7C247.3 386.8 245.1 384.3 243.9 382.1C242.7 379.9 243.2 377.2 242.3 375.5C241.3 373.9 238.8 373.9 238.1 372.2C237.5 370.6 237.5 367 238.1 365.7C238.8 364.3 241.2 365.1 242.3 364C243.4 362.9 243.8 360.5 244.7 359.1C245.7 357.7 248.7 356.6 248 355.8C247.3 355 242.7 355.1 240.6 354.2C238.6 353.2 236.8 351.6 235.7 350.1C234.6 348.6 233.9 346.6 234 345.1C234.2 343.6 235.3 342 236.5 341C237.7 340.1 239.5 339.2 241.4 339.4C243.4 339.5 245.3 340.5 248 341.8C250.7 343.2 255.1 346.1 257.9 347.6C260.6 349.1 263.2 351.2 264.4 350.9C265.7 350.6 263.9 347.5 265.3 345.9C266.6 344.4 271.6 344.9 272.7 341.8C273.7 338.8 271.5 331.3 271.5 327.9C271.5 324.4 272.3 323.2 272.7 321.3C273 319.4 273.2 317.9 273.5 316.4Z" class="w b" t="0.2"/>
<path d="M317 387 L323.6 383.7 L330.2 382.1 L336.8 386.2 L340 390.3 L342 396.9 L342 408.4 L339.6 413.3 L337.1 421.9 L327.7 422.7 L326.1 417.4 L317 413.3 L314.6 406.8 L314.6 393.6Z" class="w b"/>
<ellipse cx="240.1" cy="346.3" rx="3.6" ry="5.6" transform="rotate(-25 240.1 346.3)"/>
<path d="M237.3 342.7C238.1 342.7 240.2 342 242.3 342.7C244.3 343.3 247.1 345.4 249.7 346.8C252.3 348.1 255.4 349.8 257.9 350.9C260.3 352 263.3 352.9 264.4 353.3"/>
<path d="M244.7 351.7C245.8 352.1 249.2 353.3 251.3 354.2C253.4 355 256.1 356.2 257 356.6"/>
<path d="M248 355.8 L253.8 352.5 L260.3 355.8 L257.9 359.1"/>
<path d="M253.8 352.5 L254.6 350.1" class="t"/>
<ellipse cx="257" cy="354.5" rx="2.2" ry="2.6" class="b"/>
<path d="M265.3 345.9C265.8 345.1 266.6 343.8 268.1 344C269.6 344.2 271.3 345.8 274.3 347.3C277.3 348.7 282.2 351 285.8 352.5C289.4 354.1 293.2 355.5 295.7 356.6C298.2 357.8 299.8 358.4 300.9 359.4C302 360.4 302.4 361.7 302.2 362.7C302.1 363.8 301.1 365.3 299.8 365.7C298.4 366 296.9 365.7 294 364.8C291.2 364 286.1 362.1 282.5 360.7C279 359.4 275.4 358 272.7 356.6C269.9 355.3 267.4 353.8 266.1 352.5C264.8 351.3 264.9 350.3 264.8 349.2C264.6 348.1 264.7 346.8 265.3 345.9Z" class="w b" t="0.35"/>
<path d="M266.9 347.9C268.1 348.4 271.2 349.6 274.3 350.9C277.5 352.2 282.2 354.3 285.8 355.8C289.4 357.3 293.3 358.9 295.7 359.9C298.1 361 299.5 361.7 300.3 362.1" class="t"/>
<path d="M273.6 315 L278 317.7 L290.4 321.7 L293.9 320.4 L294.8 316.8"/>
<path d="M278 317.7 L277.6 322.1 L291.3 326.5 L290.4 321.7"/>
<path d="M274 320.4 L277.6 322.1"/>
<path d="M276.2 311.5 L279.8 313.3 L285.1 309.7" class="t"/>
<path d="M279.8 313.3 L279.3 318.1" class="t"/>
<path d="M281.5 314.2 L288.6 316.4 L289.1 321.2" class="b"/>
<path d="M284.2 315 L284.6 319.9" class="b"/>
<path d="M275.4 316.4 L277.1 317.3 L276.7 320.4" class="b"/>
<path d="M280.7 319.9 L281.5 323.2" class="b"/>
<path d="M286 321.7 L286.7 325" class="b"/>
<path d="M291.3 326.5 L294.4 325.2 L293.9 320.4"/>
<path d="M294.4 325.2 L294.4 335.4 L291.7 337.2"/>
<path d="M294.4 335.4 L304.1 330.5" class="t"/>
<path d="M296.6 326.5 L297 333.6" class="t"/>
<path d="M298.4 337.2 L298.5 341.6" class="t"/>
<ellipse cx="291.5" cy="312.4" rx="1.5" ry="2.2" class="b"/>
<path d="M290.2 314.6 L290.4 317.3 L293.2 317.7 L293.1 314.2" class="b"/>
<path d="M290 315.9 L293.9 316.4" stroke-width="1.6"/>
<path d="M272.7 342.5C272.8 341 272.8 335.6 273.1 333.6C273.5 331.6 273.7 331.2 274.9 330.5C276.2 329.9 278.7 329.4 280.7 329.6C282.7 329.9 285.2 331.2 286.9 332.3C288.6 333.4 290 334.7 290.8 336.3C291.7 337.8 291.9 339.2 292.2 341.6C292.4 344 292.2 349 292.2 350.4" class="b" t="0.3"/>
<path d="M274.9 343.4C275 342 274.9 336.8 275.2 335C275.5 333.1 275.7 332.8 276.7 332.3C277.7 331.8 279.6 331.6 281.1 331.9C282.7 332.2 284.6 333.1 286 334.1C287.3 335 288.4 336.3 289.1 337.6C289.7 338.9 289.8 340 290 342C290.1 344 290 348.3 290 349.6" t="0.3"/>
<path d="M275.5 335.4 L289.7 340.3" class="b"/>
<path d="M275.5 338.1 L289.7 342.9" class="b"/>
<path d="M275.5 340.7 L289.7 345.6" class="b"/>
<path d="M275.5 343.4 L289.7 348.2" class="b"/>
<path d="M275.5 346 L289.7 350.9" class="b"/>
<path d="M278 332.9 L278.4 348.2"/>
<path d="M280.7 333.6 L281 349.1"/>
<path d="M283.3 334.2 L283.7 350"/>
<path d="M286 334.9 L286.3 350.9"/>
<path d="M281.5 341.6 L283.5 342.3 L283.5 343.9 L281.5 343.2Z" class="k"/>
<path d="M285.1 344.2 L287 345 L287 346.5 L285.1 345.8Z" class="k"/>
<path d="M288.2 346.5 L290.1 347.2 L290.1 348.8 L288.2 348.1Z" class="k"/>
<path d="M290.4 347.8 L292.3 348.5 L292.3 350.1 L290.4 349.4Z" class="k"/>
<path d="M278.9 339.4 L280.8 340.1 L280.8 341.7 L278.9 341Z" class="k"/>
<path d="M271.4 326.5 L271.8 342.5" class="t"/>
<path d="M273.1 326.5 L274 320.4" class="t"/>
<path d="M272.3 329.2 L275.4 330.1" class="b"/>
<path d="M272 335.4 L273.1 335.8" class="b"/>
<path d="M272 338.9 L273.1 339.4" class="b"/>
<path d="M302.2 345.9 L300.6 351.7 L307.2 355 L310.5 351.7"/>
<path d="M300.6 351.7 L300.9 359.4"/>
<path d="M307.2 355 L307.2 365.7"/>
<path d="M302.2 362.7 L307.2 365.7"/>
<path d="M312.1 362.4 L307.2 360.7" class="t"/>
<path d="M274.3 358.3 L274.8 378.8"/>
<path d="M279.2 360 L279.7 380.3" class="b"/>
<path d="M281.7 360.9 L282.2 381" class="b"/>
<path d="M286.6 362.6 L287.1 382.5"/>
<path d="M289.9 363.7 L290.4 383.5" class="b"/>
<path d="M294 365.2 L294.5 384.7"/>
<path d="M297.3 366.3 L297.8 385.7"/>
<path d="M281.7 365.7 L289.9 368.1" class="t"/>
<path d="M281.7 369 L289.9 371.4" class="t"/>
<path d="M281.7 372.2 L289.9 374.7" class="t"/>
<path d="M281.7 375.5 L289.9 378" class="t"/>
<path d="M266.1 359.1 L274.3 362.4 L274.3 372.2 L266.1 369Z"/>
<path d="M274.3 380.5 L299 387 L299.8 393.6"/>
<path d="M299 387 L299.8 367.3"/>
<ellipse cx="297.8" cy="378" rx="1.3" ry="2" class="b"/>
<path d="M242.3 364C243.5 363.5 246.6 361.4 249.7 360.7C252.7 360.1 257.6 359.9 260.3 359.9C263.1 359.9 265.1 360.6 266.1 360.7"/>
<path d="M242.3 375.5C243.5 375.8 246.5 376.8 249.7 377.2C252.8 377.6 257 377.4 261.2 378C265.3 378.5 272.1 380.1 274.3 380.5"/>
<path d="M244.7 359.1C246.1 358.8 249.7 357.6 252.9 357.5C256.2 357.3 262.5 358.1 264.4 358.3"/>
<path d="M243.9 382.1C245.4 382.5 249.5 384 252.9 384.6C256.4 385.1 260.9 385 264.4 385.4C268 385.8 272.7 386.8 274.3 387" class="t"/>
<path d="M238.1 365.7 L241.4 367.3 L242.3 375.5"/>
<path d="M238.1 369 L241.4 370.3" class="t"/>
<path d="M248 355.8 L249.7 360.7" class="t"/>
<path d="M274.3 389.5 L275.9 386.2 L284.2 384.6 L289.9 387 L289.9 391.1"/>
<path d="M275.9 386.2 L276.8 392 L280.1 396.6"/>
<path d="M276.8 392 L284.2 390.3 L289.9 391.1"/>
<path d="M284.2 384.6 L284.2 390.3"/>
<ellipse cx="280.1" cy="393.6" rx="1.4" ry="1.7" class="b"/>
<path d="M305.5 370.6 L302.2 373.9 L307.2 387 L314.6 393.6 L317 387"/>
<path d="M307.2 387 L300.6 391.1 L299.8 393.6"/>
<path d="M310.5 377.2 L308.8 380.5 L313.7 390.3" class="t"/>
<path d="M300.6 400.2 L314.6 406.8 L317 413.3"/>
<path d="M314.6 406.8 L314.6 393.6"/>
<path d="M317 387 L318.7 393.6 L325.3 390.3 L323.6 383.7"/>
<path d="M318.7 393.6 L319.5 400.2 L330.2 406.8 L339.2 413.3"/>
<path d="M325.3 390.3 L331.8 387 L336.8 386.2"/>
<path d="M331.8 387 L338.4 393.6 L341.7 396.9"/>
<path d="M338.4 393.6 L338.4 408.4 L341.7 408.4"/>
<path d="M330.2 406.8 L330.2 393.6 L325.3 390.3"/>
<path d="M330.2 393.6 L338.4 393.6" class="t"/>
<path d="M327.7 422.4 L328.2 410 L336.8 413.3"/>
<path d="M326.1 417.4 L326.6 409.2 L319.5 405.1"/>
<path d="M323.6 392C324.3 392.4 326.8 393.1 327.7 394.4C328.7 395.8 329.2 398.4 329.4 400.2C329.5 402 328.7 404.3 328.5 405.1" class="b"/>
<path d="M319.5 389.5 L322 396.9" class="b"/>
<path d="M309.6 407.6C309.7 407 309.4 404.9 310.1 404.3C310.8 403.7 312.9 403.1 313.7 403.8C314.6 404.5 314.9 406.9 315.1 408.4C315.2 409.9 314.7 411.8 314.6 412.5" class="b"/>
<path d="M310.5 408.4 L313.7 408.7" class="b"/>
</g>
<g id="p_d">
<path d="M67.8 337.8C68.5 336.9 70.7 334.8 71.6 334C72.5 333.2 78 328.3 79.2 327.7C80.4 327.1 85.8 326.1 86.8 326.4C87.8 326.7 90.5 331.1 91.8 331.5C93.1 331.8 101.3 330.8 103.2 330.7C105.1 330.6 113.2 330.1 115.9 330.2C118.5 330.4 133 332.1 136.1 332.8C139.1 333.4 151.2 337.3 153.8 338.3C156.4 339.3 167.3 344.3 169 345.4C170.6 346.5 173.3 351 174 351.7C174.7 352.5 176.6 354.4 177.8 355C179 355.6 187.3 358.2 189.2 359.3C191.1 360.5 200 367.5 201.8 369.4C203.6 371.3 210.6 380.8 211.9 383.3C213.2 385.9 217.5 398.4 218.3 401C219 403.7 220.3 414 220.8 416.2C221.2 418.4 223.6 427.5 224.1 428.8C224.5 430.2 225.8 432.6 226.3 433.1C226.9 433.7 229.5 435.1 230.4 435.6C231.3 436.1 236.1 438.4 237.2 439.4C238.3 440.4 243.2 446.3 244.1 447.8C244.9 449.2 247.1 455.5 247.3 457.1C247.6 458.8 247.8 467.3 247.3 468.5C246.9 469.7 242.1 471.3 241.5 472.3C241 473.3 240.9 479.7 240.3 480.6C239.7 481.5 235.1 483.4 233.9 483.7C232.8 483.9 227.3 484 225.9 483.7C224.4 483.4 218.1 480.4 216.2 479.9C214.4 479.4 204.8 478 203.1 477.3C201.4 476.7 196.7 473.3 195.5 472.3C194.3 471.3 189.5 466 187.9 464.7C186.3 463.4 177.3 457.2 175.3 455.9C173.3 454.5 164.7 449.3 162.6 448.3C160.6 447.2 151.5 443.2 150 442.7C148.5 442.2 145 442.6 144.2 442C143.4 441.4 140.5 436.2 139.9 435.2C139.2 434.1 137.2 430.4 136.1 428.8C135 427.3 127.6 418 126 416.2C124.3 414.4 117.6 407.7 115.9 406.1C114.1 404.5 106.5 397.4 104.5 396C102.5 394.6 92.7 389.2 90.6 388.4C88.4 387.6 79.4 386.4 77.9 385.9C76.4 385.3 72.4 383.1 71.6 382.1C70.8 381 68.4 374.9 67.8 373.2C67.2 371.5 64.6 362 64 360.6C63.4 359.2 60.3 356.7 60.2 355.5C60.1 354.3 62.1 346.8 62.8 345.4C63.4 344 67.1 338.7 67.8 337.8Z" class="w b"/>
<path d="M103.4 357.5C104.1 355.6 106.1 354.5 108.7 354.8C111.4 355.1 115.8 358.1 119.3 359.2C122.9 360.4 126.7 360.9 130 361.9C133.2 362.9 136.2 364.1 138.8 365.4C141.5 366.8 143.8 367.9 145.9 369.9C147.9 371.8 149.7 374.3 151.2 376.9C152.7 379.6 153.8 383.1 154.7 385.8C155.6 388.5 157.1 391.4 156.5 392.9C155.9 394.4 153.3 394.5 151.2 394.6C149.1 394.8 147.1 394.6 144.1 393.8C141.2 392.9 137 390.7 133.5 389.3C130 388 125.8 387.3 122.9 385.8C119.9 384.3 118.3 382.6 115.8 380.5C113.3 378.4 109.7 375.8 107.8 373.4C105.9 371 105 369 104.3 366.3C103.6 363.7 102.7 359.4 103.4 357.5Z" class="b" t="0.4"/>
<path d="M98.1 359.2C99.3 358.2 101.6 353.6 105.2 353.1C108.7 352.5 114.6 355 119.3 356.1C124.1 357.1 129.4 358 133.5 359.2C137.6 360.5 140.9 361.6 144.1 363.7C147.4 365.7 151.5 370.3 153 371.6" class="t"/>
<path d="M91.4 345.4 L103.4 344.2 L115.8 347.7 L127.3 351.3 L128.2 357.1 L119.3 356.1 L106.9 353.1 L98.1 351.3Z" class="g"/>
<path d="M95.4 349.5 L122.9 354.8" class="b"/>
<path d="M93.7 347.7 L125.5 353.1" class="b"/>
<path d="M98.1 351.3 L122.9 356.6" class="t"/>
<path d="M103.4 344.2 L106.1 348.6" class="t"/>
<path d="M80.4 335.4C82.8 335.6 88.7 337 94.6 337.1C100.5 337.3 108.7 335.6 115.8 336.2C122.9 336.8 130.5 338.7 137 340.7C143.5 342.6 149.7 345.5 154.7 347.7C159.7 350 165.1 352.9 167.1 353.9" class="t"/>
<path d="M70.7 333.6C72 334.6 75.5 338.2 78.6 339.8C81.7 341.4 85.1 342.7 89.2 343.3C93.4 343.9 97.5 342.7 103.4 343.3C109.3 343.9 117.9 345.1 124.6 346.9C131.4 348.6 138.5 351.6 144.1 353.9C149.7 356.3 154.7 358.7 158.3 361C161.8 363.4 164.2 366.9 165.4 368.1" class="t"/>
<path d="M87.5 327.4C87.3 328.6 87 332.1 86.6 334.5C86.2 336.8 85.1 340.4 84.8 341.5" class="d"/>
<path d="M115.8 331.8C115.4 332.8 113.7 335.9 113.1 338C112.6 340.1 112.4 343.2 112.3 344.2" class="d"/>
<path d="M137 336.2C136.4 337.4 134.2 341 133.5 343.3C132.8 345.7 132.8 349.2 132.6 350.4" class="d"/>
<path d="M154.7 343.3 L151.2 350.4" class="d"/>
<path d="M98.1 331.3 L96.3 337.1" class="d"/>
<path d="M126.4 333.6 L123.8 341.5" class="d"/>
<path d="M68 341.5C68.6 343 70.5 346.6 71.5 350.4C72.6 354.2 73.2 360.1 74.2 364.6C75.2 369 77.2 374.9 77.7 376.9"/>
<path d="M71.5 350.4C73 350.3 77.2 350.3 80.4 349.5C83.6 348.8 89.2 346.6 91 346"/>
<path d="M77.7 376.9C79.1 376.5 82.6 375.2 85.7 374.3C88.8 373.4 93.4 372.7 96.3 371.6C99.3 370.6 102.2 368.7 103.4 368.1"/>
<path d="M65.4 375.2C66.7 375.5 71.3 376.7 73.3 376.9C75.4 377.2 77 376.9 77.7 376.9" class="t"/>
<path d="M74.2 353.1C74.6 355 76 361 76.9 364.6C77.7 368.1 79.1 372.7 79.5 374.3" class="d"/>
<path d="M79.5 352.2C80 353.9 81.3 359.4 82.2 362.8C83.1 366.2 84.4 370.9 84.8 372.5" class="d"/>
<path d="M61.8 350.4C62.6 350.1 65.1 349.7 66.2 348.6C67.4 347.6 68.5 344.9 68.9 344.2" class="t"/>
<path d="M91 375.2 L90.7 384" class="d"/>
<path d="M80.4 336.2C80.5 336.8 80.1 339.3 81.3 339.8C82.5 340.2 86.4 339 87.5 338.9" class="t"/>
<path d="M92.8 359.2C93.7 360.7 95.9 365.3 98.1 368.1C100.3 370.9 103.1 373.3 106.1 376.1C109 378.9 112.7 382.4 115.8 384.9C118.9 387.4 123.2 390.1 124.6 391.1" class="t"/>
<path d="M91 390.2C92.2 388.9 95.4 383.9 98.1 382.3C100.8 380.6 104 380 106.9 380.5C109.9 380.9 114.3 384.2 115.8 384.9"/>
<path d="M103.4 392.9C104.9 392.3 109.3 389.3 112.3 389.3C115.2 389.3 118.5 391.1 121.1 392.9C123.8 394.6 125.5 398.5 128.2 400C130.8 401.4 133.8 401.7 137 401.7C140.3 401.7 144.4 401.1 147.7 400C150.9 398.8 155 395.5 156.5 394.6"/>
<path d="M125.5 404.4C126 403.9 126.9 401.9 128.2 401.7C129.5 401.6 131.7 402.6 133.5 403.5C135.3 404.4 135.9 406.4 138.8 407C141.8 407.6 147.9 407.6 151.2 407C154.4 406.4 157.1 404.1 158.3 403.5" class="t"/>
<path d="M128.2 419.4C129.7 419.1 133.2 417.4 137 417.7C140.9 417.9 146.5 419.4 151.2 421.2C155.9 423 160.6 426.2 165.4 428.3C170.1 430.3 177.2 432.7 179.5 433.6" class="t"/>
<path d="M135.3 428.3C136.7 427.7 140.3 424.7 144.1 424.7C147.9 424.7 153.6 426.5 158.3 428.3C163 430 168 433.6 172.4 435.4C176.9 437.1 182.9 438.3 185 438.9" class="t"/>
<path d="M121.1 408.8 L125.5 404.4" class="t"/>
<path d="M121.1 383.1C121.5 383.4 123.6 384.2 123.8 384.9C123.9 385.6 121.3 387.3 122 387.6C122.7 387.9 126.9 386.4 128.2 386.7C129.5 387 129.7 388.9 130 389.3" class="t"/>
<ellipse cx="130.8" cy="416.2" rx="3.2" ry="3.6" class="w b"/>
<ellipse cx="131.4" cy="416.6" rx="1.9" ry="2.2" class="b"/>
<path d="M125.5 414.1 L128.2 411.5 L131.7 411.5" class="b"/>
<path d="M163.6 352.4C164.5 350.5 166.6 349.6 168.1 349.7C169.5 349.9 171.9 351.1 172.5 353.3C173.1 355.5 172 359.6 171.6 363C171.2 366.4 170.9 371.7 169.8 373.6C168.8 375.5 166.6 375.1 165.4 374.5C164.2 373.9 163.2 372.3 162.7 370.1C162.3 367.9 162.6 364.2 162.7 361.2C162.9 358.3 162.7 354.3 163.6 352.4Z" class="b"/>
<path d="M165.4 354.2C165.9 353.9 167.8 352.4 168.6 352.7C169.4 353 170.2 353.6 170.4 355.9C170.5 358.2 170 364.3 169.3 366.5C168.6 368.8 166.8 368.8 166.3 369.2" class="t"/>
<path d="M167.2 361.2 L167.5 371" class="b"/>
<ellipse cx="151.2" cy="354.5" rx="1.8" ry="3.4" class="b"/>
<path d="M168.1 364.8C168.3 366.5 168.5 371.9 169.8 375.4C171.2 378.9 173.2 382.8 176 386C178.8 389.3 183.1 391.9 186.6 394.9C190.2 397.8 194.3 400.5 197.3 403.7C200.2 407 202.6 410.8 204.3 414.3C206.1 417.9 207 421.7 207.9 425C208.8 428.2 209.4 432.3 209.6 433.8"/>
<path d="M172.5 353.3C174.2 353.9 179 354.9 183.1 356.8C187.2 358.7 193.1 361.7 197.3 364.8C201.4 367.9 205.1 371.6 207.9 375.4C210.7 379.2 212.3 383.1 214.1 387.8C215.8 392.5 217.3 398.7 218.5 403.7C219.7 408.7 220.1 413.5 221.2 417.9C222.2 422.3 224.1 428.2 224.7 430.3" class="t"/>
<path d="M171.6 373.6C173.1 373 179.7 376.6 183.1 378.9C186.5 381.3 189.3 384.5 191.9 387.8C194.6 391 197.5 395.4 199 398.4C200.6 401.4 201.7 405.3 201.2 405.8C200.6 406.4 198.5 404.4 195.5 401.9C192.5 399.5 186.6 394.6 183.1 391.3C179.6 388.1 176.2 385.4 174.2 382.5C172.3 379.5 170.1 374.2 171.6 373.6Z"/>
<path d="M176 359.5C178.1 360.6 184.6 363.6 188.4 366.5C192.2 369.5 196.1 373 199 377.2C202 381.3 204.2 386.3 206.1 391.3C208 396.3 209.4 402.2 210.5 407.3C211.7 412.3 212.3 417.3 213.2 421.4C214.1 425.5 215.4 430.3 215.8 432" class="d"/>
<path d="M174.2 366.5C176 367.7 181.3 370.7 184.9 373.6C188.4 376.6 192.5 380.1 195.5 384.2C198.4 388.4 200.6 393.4 202.6 398.4C204.5 403.4 205.7 409.3 207 414.3C208.3 419.4 209.9 426.1 210.5 428.5" class="d"/>
<path d="M183.1 356.8C182.7 357.8 181.5 360.6 180.4 363C179.4 365.4 177.5 369.6 176.9 371" class="d"/>
<path d="M197.3 364.8C196.4 366 193.7 369.6 191.9 371.9C190.2 374.1 187.5 377 186.6 378.1" class="d"/>
<path d="M207.9 375.4C206.7 376.6 202.9 380.4 200.8 382.5C198.7 384.5 196.4 386.9 195.5 387.8" class="d"/>
<path d="M214.1 387.8C212.7 388.7 208.3 391.6 206.1 393.1C203.9 394.6 201.7 396 200.8 396.6" class="d"/>
<path d="M218.5 403.7C217 404.3 212.2 406.4 209.6 407.3C207.1 408.1 204.5 408.7 203.5 409" class="d"/>
<path d="M161.9 401.1C162.3 399.4 163 399 165.4 399.3C167.8 399.6 172.2 401.4 176 402.8C179.9 404.3 184.6 406.4 188.4 408.1C192.2 409.9 196.4 411.5 199 413.5C201.7 415.4 203.3 417.4 204.3 419.6C205.4 421.9 206 425 205.2 426.7C204.5 428.5 202.4 430 199.9 430.3C197.4 430.6 193.9 429.7 190.2 428.5C186.5 427.3 181.6 425.3 177.8 423.2C174 421.1 169.7 418.5 167.2 416.1C164.7 413.7 163.6 411.5 162.7 409C161.9 406.5 161.4 402.7 161.9 401.1Z" class="b"/>
<path d="M165 402.8C166.8 402.5 172.1 404.9 176 406.4C179.9 407.8 184.7 409.9 188.4 411.7C192.1 413.5 195.9 415.2 198.1 417C200.4 418.8 201.2 420.7 201.7 422.3C202.1 423.9 202.7 426.2 200.8 426.7C198.9 427.2 193.9 426.4 190.2 425.3C186.5 424.2 182.2 421.9 178.7 420C175.1 418.1 171.2 416 168.9 414C166.7 412 166 410 165.4 408.1C164.7 406.3 163.3 403.1 165 402.8Z" class="d"/>
<path d="M168.9 414C169.8 413.5 172.6 411 174.2 410.8C175.9 410.6 178.4 411.7 178.7 412.6C179 413.5 176.5 415.5 176 416.1" class="t"/>
<path d="M204.3 407.3C204.9 407 207.1 405 207.9 405.5C208.6 405.9 208.6 409.2 208.8 409.9" class="b"/>
<path d="M156.5 387.8C156.8 389.9 157.7 395.8 158.3 400.2C158.9 404.6 159.2 410.2 160.1 414.3C161 418.5 161.9 421.4 163.6 425C165.4 428.5 169.5 433.8 170.7 435.6"/>
<path d="M170.7 435.6C172.8 435.7 178.7 436.8 183.1 436.5C187.5 436.2 192.8 434.2 197.3 433.8C201.7 433.4 207.6 433.8 209.6 433.8"/>
<path d="M130 398.4C131.8 398.4 137.1 398 140.6 398.4C144.2 398.8 148.3 400.8 151.2 401.1C154.2 401.4 157.1 400.3 158.3 400.2" class="t"/>
<path d="M130 410.8C131.8 411.1 137.1 411.4 140.6 412.6C144.2 413.7 148 417.6 151.2 417.9C154.5 418.2 158.6 414.9 160.1 414.3" class="t"/>
<path d="M144.2 439.1C146.2 439.1 152.1 439.7 156.5 439.1C161 438.5 168.3 436.2 170.7 435.6" class="t"/>
<path d="M130 393.1C131.5 392.8 135.6 391.3 138.8 391.3C142.1 391.3 146.5 393.7 149.5 393.1C152.4 392.5 155.4 388.7 156.5 387.8" class="d"/>
<path d="M215 433.8C215.8 433.4 218.5 431.4 220.3 431.2C222 430.9 224.7 431.9 225.6 432" class="b"/>
<path d="M226.5 432.9 L218.5 446.2 L213.2 450.6"/>
<path d="M183.1 442.7 L188.4 439.1 L213.2 450.6 L213.2 463.9"/>
<path d="M183.1 442.7 L186.6 449.7 L197.3 453.3 L199.9 462.1" class="t"/>
<path d="M184.9 438.2 L186.6 444.4" class="b"/>
<path d="M188.4 439.1 L197.3 436.5"/>
<path d="M229.1 453.3 L230 469.2 L240.6 471"/>
<path d="M243.3 446.2 L231.8 453.3 L230 453.3"/>
<path d="M213.2 463.9C212.9 462.4 211.3 457.4 211.8 455C212.2 452.7 214.1 450.5 215.8 449.7C217.6 449 220.6 449.7 222 450.6C223.5 451.5 224.2 454.3 224.7 455" class="b"/>
<ellipse cx="219.4" cy="462.1" rx="3.8" ry="4.4" class="b"/>
<ellipse cx="219.9" cy="462.7" rx="2" ry="2.4"/>
<path d="M218.5 455.9C219.1 456.2 221.3 456.7 222 457.7C222.8 458.7 222.8 461.4 222.9 462.1" class="t"/>
<ellipse cx="179.6" cy="453.3" rx="2.3" ry="2.5" class="w b"/>
<ellipse cx="180" cy="453.6" rx="1.2" ry="1.3"/>
<ellipse cx="191.9" cy="467.4" rx="2.3" ry="2.5" class="w b"/>
<ellipse cx="192.3" cy="467.7" rx="1.2" ry="1.3"/>
<path d="M176 446.2C177.2 447.4 180.7 450.6 183.1 453.3C185.5 455.9 187.2 459.5 190.2 462.1C193.1 464.8 197 467.4 200.8 469.2C204.6 471 211.1 472.2 213.2 472.7" class="t"/>
<path d="M89.3 440.9 L91 444.2 L93 444 L93.9 443.5 L91.4 438.9 L90.6 439.4Z" class="w b"/>
<path d="M93 444 L90.6 439.4" class="t"/>
<path d="M92.1 440.3 L101 435.6 L102.6 436 L102.1 437.5 L93.2 442.2Z" class="w"/>
<path d="M92.7 440 L94.3 441.6" class="t"/>
<path d="M94 439.3 L95.7 440.9" class="t"/>
<path d="M95.3 438.6 L97 440.2" class="t"/>
<path d="M96.7 437.9 L98.3 439.5" class="t"/>
<path d="M98 437.2 L99.6 438.8" class="t"/>
<path d="M99.3 436.5 L101 438.1" class="t"/>
</g>
<g id="p_e">
<path d="M432.7 442.1C433.1 439.5 434 434.2 435.3 429.7C436.6 425.3 438.3 420.9 440.6 415.6C443 410.3 445.9 403.8 449.5 397.9C453 392 457.1 385.8 461.9 380.2C466.6 374.6 471.9 369.3 477.8 364.2C483.7 359.2 490.8 354.2 497.3 350.1C503.7 346 510.2 342.4 516.7 339.5C523.2 336.5 530.9 334 536.2 332.4C541.5 330.8 545 329.9 548.6 329.7C552.1 329.6 555.2 330.3 557.4 331.5C559.6 332.7 561.3 334.3 561.9 336.8C562.4 339.3 561.9 342.9 561 346.5C560.1 350.2 558.3 354.8 556.5 358.9C554.8 363.1 552.6 367.5 550.4 371.3C548.1 375.2 545.9 378.4 543.3 381.9C540.6 385.5 538 388.7 534.4 392.6C530.9 396.4 525.9 401.4 522 405C518.2 408.5 514.1 412 511.4 413.8C508.8 415.6 507.9 415.9 506.1 415.6C504.3 415.3 502.6 413.8 500.8 412C499 410.3 496.8 407.3 495.5 405C494.2 402.6 492.8 399.8 492.8 397.9C492.8 396 493.6 394.5 495.5 393.5C497.4 392.4 501.4 392.1 504.3 391.7C507.3 391.2 510.2 391.8 513.2 390.8C516.1 389.8 519.7 387.8 522 385.5C524.4 383.1 525.7 380.2 527.3 376.6C529 373.1 530.3 368.4 531.8 364.2C533.2 360.1 535 355.3 536.2 351.9C537.4 348.5 540.6 344.3 538.8 343.9C537.1 343.5 529.9 347.4 525.6 349.2C521.3 351 517.6 352.3 513.2 354.5C508.8 356.7 503.7 359.4 499 362.5C494.3 365.6 489 369.6 484.9 373.1C480.7 376.6 477.5 379.9 474.2 383.7C471 387.6 468.3 391.4 465.4 396.1C462.4 400.8 459.1 407 456.5 412C454 417.1 449.9 424.4 450.4 426.2C450.8 428 456.7 422.4 459.2 422.7C461.7 422.9 465.3 425.9 465.4 428C465.5 430 462.7 432.7 460.1 435C457.4 437.4 452.1 439.8 449.5 442.1C446.8 444.5 446.2 447.9 444.2 449.2C442.1 450.5 439 450.7 437.1 450.1C435.2 449.5 433.4 447 432.7 445.7C431.9 444.3 432.2 444.8 432.7 442.1Z" class="w b" t="0.35"/>
<path d="M447.7 428C448.7 425.3 451.4 417.3 453.9 412C456.4 406.7 459.4 401.1 462.7 396.1C466.1 391.1 470.3 386.2 474.2 381.9C478.2 377.7 482.2 374 486.6 370.4C491.1 366.9 496.1 363.6 500.8 360.7C505.5 357.8 510.5 355.5 515 353.3C519.4 351.1 523.7 349 527.3 347.4C531 345.9 535.5 344.5 537.1 343.9" class="b"/>
<path d="M449.5 397.9 L459.2 403.2" class="t"/>
<path d="M477.8 364.2 L483.1 373.1" class="t"/>
<path d="M516.7 339.5 L520.3 350.4" class="t"/>
<path d="M557.4 339.5C557.1 341.2 556.8 346 555.7 350.1C554.5 354.2 552.4 359.8 550.4 364.2C548.3 368.7 545.9 372.8 543.3 376.6C540.6 380.5 537.7 384 534.4 387.3C531.2 390.5 527.3 393.6 523.8 396.1C520.3 398.6 516.1 401.1 513.2 402.3C510.2 403.5 507.3 403 506.1 403.2"/>
<path d="M543.3 344.8C542.7 346.5 541.1 351.6 539.7 355.4C538.4 359.2 536.9 363.8 535.3 367.8C533.7 371.8 531.9 375.9 530 379.3C528.1 382.7 526.3 385.8 523.8 388.1C521.3 390.5 517.9 392.3 515 393.5C512 394.6 508.6 394.6 506.1 395.2C503.6 395.8 500.9 396.7 499.9 397" class="t"/>
<path d="M540.6 346.5 L554.8 350.1" class="b"/>
<path d="M538 355.4 L552.1 360.7" class="b"/>
<path d="M535.3 364.2 L547.7 370.4" class="b"/>
<path d="M531.8 373.1 L543.3 379.3" class="b"/>
<path d="M527.3 381.1 L538 387.3" class="b"/>
<path d="M522 388.1 L530 394.3" class="b"/>
<path d="M515 392.6 L521.2 400.5"/>
<path d="M546.8 335.9 L553.9 346.5" class="b"/>
<path d="M543.3 349.2 L553.9 355.4" class="b"/>
<path d="M539.7 359.8 L550.4 366" class="b"/>
<path d="M536.2 369.6 L545 374.9" class="b"/>
<path d="M538.8 343.9 L546.8 341.2 L552.1 336.8" class="t"/>
<path d="M550.4 339.5C549.8 341.5 548.3 347.4 546.8 351.9C545.3 356.3 543.4 361.6 541.5 366C539.6 370.4 537.7 374.7 535.3 378.4C532.9 382.1 530.1 385.3 527.3 388.1C524.5 390.9 521.4 393.6 518.5 395.2C515.5 396.8 511.1 397.4 509.6 397.9" class="b"/>
<path d="M554.8 350.1 L538 355.4"/>
<path d="M552.1 360.7 L535.3 364.2"/>
<path d="M547.7 370.4 L531.8 373.1"/>
<path d="M543.3 379.3 L527.3 381.1"/>
<path d="M538 387.3 L522 388.1"/>
<path d="M530 394.3 L515 392.6"/>
<ellipse cx="545.9" cy="346.5" rx="1.1" ry="1.4" class="b"/>
<ellipse cx="543.3" cy="358.1" rx="1.1" ry="1.4" class="b"/>
<ellipse cx="538.8" cy="368.7" rx="1.1" ry="1.4" class="b"/>
<ellipse cx="534.4" cy="377.5" rx="1.1" ry="1.4" class="b"/>
<ellipse cx="528.2" cy="385.5" rx="1.1" ry="1.4" class="b"/>
<ellipse cx="520.3" cy="391.7" rx="1.1" ry="1.4" class="b"/>
<path d="M453 424.4C454 422.1 456.7 415 459.2 410.3C461.7 405.5 465.1 400.4 468.1 396.1C471 391.8 473.7 388.3 476.9 384.6C480.1 380.9 483.4 377.4 487.5 374C491.7 370.6 497 367.2 501.7 364.2C506.4 361.3 511.4 358.6 515.8 356.3C520.3 353.9 524.5 351.7 528.2 350.1C531.9 348.5 536.3 347.1 538 346.5" class="b"/>
<path d="M529.1 351.5 L530.9 354.3" class="b"/>
<path d="M522 354.5 L523.8 357.3" class="b"/>
<path d="M507.9 361.6 L509.6 364.4" class="b"/>
<path d="M500.8 366.4 L502.6 369.2" class="b"/>
<path d="M483.1 379.3 L484.9 382.1" class="b"/>
<path d="M470.7 394.3 L472.5 397.2" class="b"/>
<path d="M463.6 405 L465.4 407.8" class="b"/>
<path d="M454.8 423.5 L456.5 426.4" class="b"/>
<path d="M518.5 355.4 L523.5 352.9 L524.5 355 L519.6 357.5Z" class="b"/>
<path d="M497.3 367.8 L502.2 365.3 L503.3 367.4 L498.3 369.9Z" class="b"/>
<path d="M479.6 381.9 L484.5 379.5 L485.6 381.6 L480.6 384.1Z" class="b"/>
<path d="M467.2 398.8 L472.1 396.3 L473.2 398.4 L468.2 400.9Z" class="b"/>
<ellipse cx="499.9" cy="400.5" rx="3.2" ry="3.8" transform="rotate(-30 499.9 400.5)" class="b"/>
<ellipse cx="499.9" cy="400.5" rx="1.6" ry="2" transform="rotate(-30 499.9 400.5)"/>
<ellipse cx="505.2" cy="408.5" rx="3.2" ry="3.8" transform="rotate(-30 505.2 408.5)" class="b"/>
<ellipse cx="505.2" cy="408.5" rx="1.6" ry="2" transform="rotate(-30 505.2 408.5)"/>
<path d="M495.5 393.5 L499.9 396.1 L507.9 395.2" class="t"/>
<path d="M509.6 403.2 L510.5 412" class="t"/>
<path d="M513.2 355.4 L517.6 354.5 L518.5 357.2" class="b"/>
<path d="M491.9 368.7 L496.4 367.8 L497.3 370.4" class="b"/>
<path d="M476 381.9 L480.4 381.1 L481.3 383.7" class="b"/>
<path d="M458.3 412 L462.7 411.2 L463.6 413.8" class="b"/>
<path d="M450.4 426.2 L452.1 433.3 L460.1 435" class="b"/>
<path d="M452.1 433.3 L444.2 440.4 L444.2 449.2" class="b"/>
<path d="M440.6 436.8 L447.7 435.9 L451.2 442.1" class="b"/>
<path d="M437.1 443.9 L442.4 444.8 L446.8 442.1" class="b"/>
<path d="M459.2 422.7 L458.3 428.8 L465.4 428"/>
<path d="M435.3 447.4 L440.6 442.1" class="t"/>
<path d="M485.2 328.9 L482.5 331.3 L483.1 333.2 L483.7 333.9 L487.6 330.5 L487 329.7Z" class="w b"/>
<path d="M483.1 333.2 L487 329.7" class="t"/>
<path d="M486.5 331.5 L493 339 L493 340.6 L491.4 340.4 L484.9 332.9Z" class="w"/>
<path d="M486.9 331.9 L485.7 333.9" class="t"/>
<path d="M487.9 333.1 L486.7 335" class="t"/>
<path d="M488.9 334.2 L487.7 336.2" class="t"/>
<path d="M489.9 335.3 L488.7 337.3" class="t"/>
<path d="M490.9 336.5 L489.7 338.4" class="t"/>
<path d="M491.8 337.6 L490.6 339.6" class="t"/>
<path d="M567.9 358.5 L565.9 355.5 L564 355.9 L563.1 356.4 L566.1 360.7 L566.9 360.2Z" class="w b"/>
<path d="M564 355.9 L566.9 360.2" class="t"/>
<path d="M565.2 359.5 L558.8 363.8 L557.2 363.6 L557.6 362 L564 357.7Z" class="w"/>
<path d="M564.7 359.8 L562.9 358.4" class="t"/>
<path d="M563.5 360.7 L561.7 359.2" class="t"/>
<path d="M562.2 361.5 L560.4 360.1" class="t"/>
<path d="M561 362.3 L559.2 360.9" class="t"/>
<path d="M559.8 363.2 L557.9 361.8" class="t"/>
<path d="M404.3 447 L406 450.2 L408 450 L408.9 449.5 L406.3 444.9 L405.5 445.4Z" class="w b"/>
<path d="M408 450 L405.5 445.4" class="t"/>
<path d="M407.1 446.3 L416.3 441.1 L417.9 441.5 L417.4 443 L408.1 448.2Z" class="w"/>
<path d="M407.6 446 L409.3 447.5" class="t"/>
<path d="M408.9 445.2 L410.6 446.8" class="t"/>
<path d="M410.2 444.5 L411.9 446.1" class="t"/>
<path d="M411.5 443.8 L413.2 445.4" class="t"/>
<path d="M412.8 443.1 L414.5 444.6" class="t"/>
<path d="M414.1 442.3 L415.8 443.9" class="t"/>
<path d="M415.5 441.6 L417.1 443.2" class="t"/>
<path d="M564.5 369.2 L568.4 371.3" stroke-width="1.7"/>
<path d="M563.7 370.8 L567.6 372.9" stroke-width="1.7"/>
<path d="M562.9 372.4 L566.8 374.5" stroke-width="1.7"/>
<path d="M562.1 374 L566 376.1" stroke-width="1.7"/>
<path d="M561.3 375.6 L565.2 377.7" stroke-width="1.7"/>
<path d="M560.5 377.2 L564.4 379.3" stroke-width="1.7"/>
<path d="M559.7 378.8 L563.6 380.9" stroke-width="1.7"/>
<path d="M564 369.2 L559.6 379.3 L563.1 381.6 L568.1 371.7Z" class="t"/>
<path d="M579.2 356.9 L580.7 359.2 L587 355.9 L585.5 353.4Z" class="w b"/>
<path d="M584.2 348.7C584.2 347 585.3 345.6 586.8 344.2C588.3 342.9 591 341.6 593.1 340.5C595.2 339.3 597.7 338 599.4 337.3C601.1 336.6 602.2 336.6 603.2 336C604.3 335.5 604.8 334.3 605.7 334.1C606.7 333.9 608.3 334.2 608.9 334.8C609.5 335.3 609.7 336.5 609.5 337.3C609.3 338.1 608.5 339.1 607.6 339.8C606.8 340.6 605.4 340.7 604.5 341.7C603.5 342.8 603.2 344.8 601.9 346.1C600.7 347.5 598.8 348.7 596.9 349.9C595 351.2 592.3 353 590.6 353.7C588.9 354.5 587.8 355.2 586.8 354.4C585.7 353.5 584.2 350.4 584.2 348.7Z" class="w b" t="0.25"/>
<path d="M589.6 342.7C589.9 343.2 591.3 344.2 591.8 345.5C592.4 346.9 592.7 349.9 592.8 350.8" class="b"/>
<path d="M594.6 340.2C595 340.8 596.6 342.1 597.1 343.6C597.7 345.1 597.8 348.1 597.9 349.1" class="b"/>
<path d="M587.4 344.2C587.8 344.8 589.1 345.9 589.6 347.4C590 348.9 590 352.1 590.1 353.1"/>
<path d="M599.4 337.3 L601.9 340.5 L601.9 346.1"/>
<path d="M601.9 340.5 L607.6 339.8" class="t"/>
<path d="M603.2 336 L604.7 337.9 L605.7 334.1" class="t"/>
<path d="M590.6 343.6 L595.6 341.1" class="t"/>
<path d="M490.6 466.2C492.2 461 498.4 447.5 503 439.6C507.6 431.8 513 424.6 518.1 419.3C523.1 414 526.5 412.4 533.1 407.8C539.7 403.2 550.2 396.4 557.9 391.9C565.5 387.3 573.8 383.2 579.1 380.4C584.4 377.6 586.6 375.3 589.7 375C592.8 374.7 595.6 377 597.7 378.6C599.8 380.2 602 382 602.1 384.8C602.3 387.6 600.1 391.3 598.6 395.4C597.1 399.5 595 405.1 593.3 409.6C591.5 414 589.6 419.1 588 421.9C586.3 424.7 585.5 426.1 583.5 426.4C581.6 426.7 578.1 425 576.5 423.7C574.8 422.4 573.4 421.7 573.8 418.4C574.2 415.2 577.3 409 579.1 404.2C580.9 399.5 584.9 392 584.4 390.1C584 388.2 580.9 390.5 576.5 392.7C572 395 564.2 399.7 557.9 403.4C551.5 407.1 543.4 410.9 538.4 414.9C533.4 418.8 531.6 422.5 527.8 427.3C524 432 519.5 436 515.4 443.2C511.3 450.4 505.8 465.6 503 470.6C500.2 475.6 500.2 473.3 498.6 473.3C497 473.3 494.6 471.8 493.3 470.6C491.9 469.4 489 471.4 490.6 466.2Z" class="w b" t="0.22"/>
<path d="M494.2 466.2C496.2 462 501.8 448.5 506.2 441.1C510.6 433.6 515.9 426.7 520.7 421.6C525.5 416.5 528.5 414.9 534.9 410.4C541.2 406 551.3 399.4 558.8 394.9C566.2 390.4 574.3 386.3 579.5 383.5C584.6 380.8 587.1 379.1 589.7 378.6C592.3 378.1 594.2 380.1 595 380.4" t="0.22"/>
<path d="M497.7 470.6C499.8 466 506.1 450.7 510.4 443.2C514.8 435.7 519.5 430.5 523.9 425.5C528.3 420.5 530.9 417.4 536.6 413.1C542.4 408.8 551.5 403.8 558.2 399.8C565 395.8 572.3 391.4 577 389.2C581.7 387 584.7 387 586.2 386.5" class="t" t="0.22"/>
<path d="M500.9 471.2C502.9 466.6 509.1 451.4 513.3 444.1C517.4 436.8 523.6 430.1 525.7 427.3" class="t" t="0.22"/>
<path d="M595 380.4 L593.3 390.1 L588 404.2 L582.7 417.5 L576.5 423.7"/>
<path d="M589.7 378.6 L584.4 390.1" class="t"/>
<path d="M518.1 419.3 L527.8 427.3" class="t"/>
<path d="M520.7 421.6 L538.4 414.9" class="t"/>
<path d="M583.5 393.6 L591.2 395.4" class="t"/>
<path d="M582.7 395.9 L590.4 397.7" class="t"/>
<path d="M581.9 398.2 L589.6 400" class="t"/>
<path d="M581.2 400.5 L588.8 402.3" class="t"/>
<path d="M580.4 402.8 L588 404.6" class="t"/>
<path d="M579.6 405.1 L587.2 406.9" class="t"/>
<path d="M578.8 407.4 L586.4 409.2" class="t"/>
<path d="M578 409.7 L585.6 411.5" class="t"/>
<path d="M577.2 412 L584.8 413.8" class="t"/>
<path d="M576.4 414.3 L584 416.1" class="t"/>
<path d="M586.2 391.9 L578.2 415.8" class="t"/>
<path d="M593.3 393.6 L585.3 418.4" class="t"/>
<path d="M573.8 418.4 L579.1 421.1 L583.5 426.4" class="t"/>
<path d="M554.3 397.2 L560.5 393.6 L561.8 395.8 L555.8 399.3Z" class="b"/>
<path d="M545.5 403.4 L551.7 399.8 L552.9 401.9 L546.9 405.5Z" class="b"/>
<path d="M535.8 408.7 L541.9 405.1 L543.2 407.3 L537.2 410.8Z" class="b"/>
<path d="M563.2 391.9 L569.4 388.3 L570.6 390.4 L564.6 394Z" class="b"/>
<path d="M524.2 418.4 L531.3 413.1" class="b"/>
<path d="M498 532.1C498.3 530.1 499.1 528.6 500.6 525C502.1 521.5 504.2 516.2 506.8 510.9C509.5 505.6 512.9 498.8 516.5 493.2C520.2 487.6 524.2 482.6 528.9 477.3C533.7 471.9 539.6 465.9 544.9 461.3C550.2 456.8 555.2 453.5 560.8 449.8C566.4 446.1 572.9 442.4 578.5 439.2C584.1 436 590 432.7 594.4 430.4C598.8 428 601.8 426.4 605 425C608.3 423.7 611.2 422.4 613.9 422.4C616.5 422.4 619.2 423.6 621 425C622.7 426.5 624.1 428.7 624.5 431.2C625 433.7 624.4 436.8 623.6 440.1C622.9 443.3 621.7 446.6 620.1 450.7C618.5 454.8 616.1 460.4 613.9 464.9C611.7 469.3 608.9 474 606.8 477.3C604.7 480.5 602.1 483.7 601.5 484.3C600.9 484.9 603.6 480.5 603.3 480.8C603 481.1 602.1 483.7 599.7 486.1C597.4 488.5 592.4 492.3 589.1 495C585.9 497.6 581.6 499.7 580.3 502C578.9 504.4 581.7 507.3 581.2 509.1C580.6 510.9 578.6 512.2 576.7 512.7C574.8 513.1 572 512.8 569.6 511.8C567.3 510.7 565.1 509 562.6 506.5C560.1 504 556.2 500 554.6 496.7C553 493.5 552.7 489.2 552.8 487C553 484.8 554.2 483.7 555.5 483.5C556.8 483.2 558.7 483.9 560.8 485.2C562.9 486.5 566.1 490.1 567.9 491.4C569.6 492.7 568.8 494.4 571.4 493.2C574.1 492 580.3 486.8 583.8 484.3C587.3 481.8 590.1 479.3 592.7 478.1C595.2 477 596.8 478.9 598.8 477.3C600.9 475.6 602.8 472.2 605 468.4C607.3 464.6 610.2 458.7 612.1 454.2C614 449.8 615.7 444.8 616.5 441.9C617.4 438.9 617.9 437.7 617.4 436.5C617 435.4 615.7 434.8 613.9 434.8C612.1 434.8 609.8 435.4 606.8 436.5C603.9 437.7 600.6 439.5 596.2 441.9C591.8 444.2 585.6 447.5 580.3 450.7C575 454 569.6 457.3 564.3 461.3C559 465.3 553.1 470.2 548.4 474.6C543.7 479 539.9 483.3 536 487.9C532.2 492.4 528.3 497.6 525.4 502C522.4 506.5 520.4 510.3 518.3 514.4C516.3 518.6 512.1 526.4 513 526.8C513.9 527.3 521.1 518.6 523.6 517.1C526.1 515.6 526.7 516.9 528.1 518C529.4 519 530.7 520.9 531.6 523.3C532.5 525.6 533.2 529.8 533.4 532.1C533.5 534.5 533.8 536 532.5 537.4C531.2 538.9 528.1 540.2 525.4 541C522.7 541.7 519.8 541.9 516.5 541.9C513.3 541.9 508.9 541.7 505.9 541C503 540.2 500.2 538.9 498.8 537.4C497.5 536 497.7 534.2 498 532.1Z" class="w b" t="0.25"/>
<path d="M516.5 527.7C517.4 525.6 519.8 519.4 521.9 515.3C523.9 511.2 526 507.3 528.9 502.9C531.9 498.6 535.7 493.7 539.6 489.3C543.4 484.9 547.4 480.7 551.9 476.4C556.5 472.1 562 467.3 567 463.5C572 459.6 577 456.5 582 453.4C587.1 450.2 592.9 446.8 597.1 444.5C601.2 442.2 604.3 440.8 606.8 439.7C609.3 438.7 610.9 438.1 612.1 438.3C613.3 438.5 613.6 440.5 613.9 441" t="0.25"/>
<path d="M612.1 438.3C611.5 440.1 610.2 444.8 608.6 448.9C607 453.1 604.5 459 602.4 463.1C600.3 467.2 597.7 471.2 596.2 473.7C594.7 476.2 594 477.4 593.5 478.1" class="t" t="0.25"/>
<path d="M620.6 431.2C620.2 433 619.4 438 618.3 441.9C617.2 445.7 615.7 450.1 613.9 454.2C612.1 458.4 609.6 463.1 607.7 466.6C605.8 470.2 603.3 474 602.4 475.5" class="t" t="0.25"/>
<path d="M522.7 490.5 L533.4 493.2" class="d"/>
<path d="M560.8 449.8 L566.1 461.3" class="d"/>
<path d="M582.9 438.3 L586.5 448.1" class="d"/>
<path d="M605 425 L608.6 434.8" class="d"/>
<path d="M498 532.1C499 532.6 501.9 534.5 504.2 534.8C506.4 535.1 509.2 535.1 511.2 533.9C513.3 532.7 515.7 528.7 516.5 527.7" t="0.3"/>
<path d="M500.6 530.4C501.5 530.6 504.2 532.1 505.9 532.1C507.7 532.1 509.8 531.4 511.2 530.4C512.7 529.3 514.2 526.7 514.8 525.9" class="t" t="0.3"/>
<path d="M516.5 527.7 L522.7 532.1 L532.5 537.4"/>
<path d="M522.7 532.1 L520.1 538.3 L516.5 541.9" class="t"/>
<path d="M523.6 517.1 L525.4 523.3 L531.6 523.3" class="t"/>
<path d="M524.5 526.8 L529.8 528.2" class="b"/>
<path d="M521.9 536.5 L528.1 536" class="b"/>
<path d="M526.3 532.1 L529.8 533.9" class="b"/>
<ellipse cx="558.7" cy="491.8" rx="3.6" ry="4.4" transform="rotate(-30 558.7 491.8)" class="b"/>
<ellipse cx="558.7" cy="491.8" rx="1.9" ry="2.4" transform="rotate(-30 558.7 491.8)"/>
<ellipse cx="569.3" cy="502.9" rx="3.8" ry="4.6" transform="rotate(-30 569.3 502.9)" class="b"/>
<ellipse cx="569.3" cy="502.9" rx="2" ry="2.5" transform="rotate(-30 569.3 502.9)"/>
<path d="M571.4 493.2 L576.7 500.3 L581.2 509.1"/>
<path d="M576.7 500.3 L587.3 490.5 L598.8 480.8" class="t"/>
<path d="M575 490.5 L578.5 495" class="b"/>
<path d="M580.3 487 L583.8 491.8" class="b"/>
<path d="M586.5 482.6 L589.5 487.5" class="b"/>
<path d="M591.8 479 L594.4 483.5" class="b"/>
<path d="M554.6 496.7 L558.1 498.5 L562.6 506.5" class="t"/>
<path d="M573.2 495 L574.1 505.6" class="t"/>
<path d="M578.5 496.7 L582 502" class="b"/>
<path d="M473.1 552.4 L474.8 555.6 L476.8 555.4 L477.7 555 L475.2 550.4 L474.3 550.8Z" class="w b"/>
<path d="M476.8 555.4 L474.3 550.8" class="t"/>
<path d="M475.9 551.7 L484.7 547 L486.3 547.4 L485.7 548.9 L477 553.6Z" class="w"/>
<path d="M476.5 551.4 L478.1 553" class="t"/>
<path d="M477.8 550.7 L479.4 552.3" class="t"/>
<path d="M479.1 550 L480.8 551.6" class="t"/>
<path d="M480.4 549.3 L482.1 550.9" class="t"/>
<path d="M481.8 548.6 L483.4 550.2" class="t"/>
<path d="M483.1 547.9 L484.7 549.5" class="t"/>
<path d="M611.7 482.2 L613.5 485.3 L615.4 485.1 L616.3 484.6 L613.7 480.1 L612.8 480.6Z" class="w b"/>
<path d="M615.4 485.1 L612.8 480.6" class="t"/>
<path d="M614.4 481.4 L622.5 476.8 L624.1 477.1 L623.6 478.7 L615.5 483.3Z" class="w"/>
<path d="M615 481.1 L616.7 482.6" class="t"/>
<path d="M616.3 480.3 L618 481.9" class="t"/>
<path d="M617.6 479.6 L619.3 481.1" class="t"/>
<path d="M618.9 478.8 L620.6 480.4" class="t"/>
<path d="M620.2 478.1 L621.9 479.6" class="t"/>
<path d="M621.5 477.3 L623.2 478.9" class="t"/>
<path d="M553.5 573.2 L555.3 576.3 L557.3 576.1 L558.1 575.6 L555.5 571.1 L554.7 571.6Z" class="w b"/>
<path d="M557.3 576.1 L554.7 571.6" class="t"/>
<path d="M556.3 572.4 L564.3 567.8 L565.9 568.1 L565.4 569.7 L557.4 574.3Z" class="w"/>
<path d="M556.8 572.1 L558.5 573.7" class="t"/>
<path d="M558.1 571.4 L559.8 572.9" class="t"/>
<path d="M559.4 570.6 L561.1 572.2" class="t"/>
<path d="M560.7 569.9 L562.4 571.4" class="t"/>
<path d="M562 569.1 L563.7 570.7" class="t"/>
<path d="M563.3 568.4 L565 569.9" class="t"/>
</g>
<g id="p_f">
<path d="M454 603.6C453.8 602.3 453.8 600.9 454.9 599.5C456 598.1 458.1 596.5 460.6 595.4C463.1 594.3 466 593.3 469.7 592.9C473.4 592.6 479 593 482.8 593.3C486.6 593.5 490.3 594.6 492.7 594.3C495.1 593.9 496.2 592.1 497.3 591.3C498.4 590.5 499.2 590.5 499.2 589.7C499.2 588.8 497.9 587.3 497.3 586.4C496.6 585.4 495.6 584.9 495.1 583.9C494.6 582.9 494.4 581.4 494.3 580.1C494.2 578.9 493.8 577.5 494.3 576.5C494.9 575.5 496.2 574.2 497.6 574C499 573.9 500.9 574.8 502.5 575.7C504.2 576.6 505.8 578.2 507.5 579.5C509.1 580.7 510.7 581.9 512.4 583.1C514 584.2 515.7 585.3 517.3 586.4C519 587.5 520.7 588.4 522.2 589.7C523.8 590.9 524.7 593.6 526.4 593.8C528 594 530.3 591.8 532.1 590.8C533.9 589.8 535.1 589 537 588C539 587 541.4 585.8 543.6 584.7C545.8 583.6 548 582.3 550.2 581.4C552.4 580.6 555.4 579.5 556.8 579.8C558.1 580.1 558.4 581.4 558.4 583.1C558.4 584.7 557.4 587.6 556.8 589.7C556.1 591.7 555.1 593.5 554.3 595.4C553.5 597.3 553.1 598.8 551.8 601.2C550.6 603.5 548.7 607.3 546.9 609.4C545.1 611.4 543.6 612.7 541.1 613.5C538.7 614.3 533.7 613.1 532.1 614.3C530.5 615.5 531.9 618.7 531.8 620.9C531.6 623.1 532.2 625.9 531.3 627.5C530.4 629 527.3 630.5 526.4 629.9C525.4 629.4 526.6 625.4 525.5 624.2C524.4 622.9 521 621.8 519.8 622.5C518.5 623.2 519.4 626.9 518.1 628.3C516.9 629.6 513.4 629.5 512.4 630.7C511.3 632 512 634 511.9 635.7C511.8 637.3 512.6 639.1 511.6 640.6C510.5 642.1 508.4 644 505.8 644.7C503.2 645.4 498.1 645.1 495.9 644.7C493.8 644.3 494 642.3 492.7 642.2C491.3 642.2 489.4 643.9 487.7 644.5C486.1 645.2 484.6 646.2 482.8 646.4C481 646.5 477.5 646.4 477 645.5C476.6 644.7 479.1 643.1 480.3 641.4C481.6 639.8 484.9 636.7 484.4 635.7C484 634.6 479.9 635.3 477.5 635C475.2 634.7 471.7 635.3 470.5 634C469.2 632.8 470.1 629.6 470 627.5C469.8 625.3 469.6 622.5 469.7 620.9C469.7 619.2 471.2 619.2 470.5 617.6C469.8 615.9 467.9 612.7 465.5 611C463.2 609.4 458.4 609 456.5 607.7C454.6 606.5 454.3 605 454 603.6Z" class="w b" t="0.12"/>
<path d="M477 645.5C478.8 643.1 483.8 635.4 487.7 630.7C491.7 626.1 496.5 621.7 500.9 617.6C505.3 613.5 509.6 609.6 514 606.1C518.4 602.5 522.2 599.8 527.2 596.2C532.1 592.7 538.7 587.5 543.6 584.7C548.5 582 554.6 580.6 556.8 579.8" class="b"/>
<path d="M482.8 646.4C484.7 644.8 490.2 641 494.3 637.3C498.4 633.6 502.8 628.3 507.5 624.2C512.1 620.1 517.3 615.9 522.2 612.7C527.2 609.4 532.4 607.2 537 604.4C541.7 601.7 546.9 599 550.2 596.2C553.5 593.5 555.7 589.4 556.8 588"/>
<path d="M480.3 643.9C482.1 642.1 487 637.1 491 633.2C495 629.3 499.6 624.5 504.2 620.5C508.7 616.6 513.5 612.7 518.1 609.4C522.8 606 527.3 603.6 532.1 600.3C536.9 597 544.4 591.4 546.9 589.7" class="t"/>
<path d="M492.7 642.2C494 640.9 497.9 636.8 500.9 634C503.9 631.3 507.6 627.7 510.7 625.8C513.9 623.9 518.3 623.1 519.8 622.5" class="t"/>
<path d="M454.9 599.5C456.5 599.2 460.1 597.3 464.7 597.9C469.4 598.4 478.1 603.4 482.8 602.8C487.5 602.2 491 595.7 492.7 594.3"/>
<path d="M460.6 595.4 L466.4 607.7" class="t"/>
<path d="M482.8 593.3 L483.6 612.7" class="t"/>
<path d="M482.8 602.8 L499.2 614.3 L501.7 616.8"/>
<path d="M499.2 589.7 L509.1 599.5 L514 606.1"/>
<path d="M502.5 593.8 L512.4 602.8" class="t"/>
<path d="M492.7 594.3 L500.9 602" class="t"/>
<path d="M495.1 583.9 L500.9 586.4 L512.4 583.1" class="t"/>
<path d="M456.5 607.7 L466.4 608.1 L477.9 614.3" class="t"/>
<path d="M469.7 620.9 L471.3 621.7 L471.3 632.4" class="t"/>
<path d="M501.7 616.8 L510.7 614 L511.6 615.6 L502.9 618.4Z" class="w"/>
<path d="M537 609.4C537.9 609 540.3 606.9 542 606.9C543.6 606.9 546.1 609 546.9 609.4" class="t"/>
<path d="M543.6 591.3C544.3 592.1 547.3 594.3 547.7 596.2C548.1 598.1 546.3 601.7 546.1 602.8" class="t"/>
<ellipse cx="486.9" cy="620.9" rx="5" ry="5.2" class="w b"/>
<ellipse cx="486.4" cy="621.2" rx="3.4" ry="3.6" class="g"/>
<ellipse cx="486.1" cy="621.4" rx="1.8" ry="2" class="b"/>
<path d="M445.1 641.6 L446.6 644.9 L448.6 644.9 L449.5 644.4 L447.3 639.7 L446.4 640.2Z" class="w b"/>
<path d="M448.6 644.9 L446.4 640.2" class="t"/>
<path d="M447.9 641.1 L457 636.7 L458.6 637.2 L458 638.7 L448.9 643.1Z" class="w"/>
<path d="M448.4 640.8 L450 642.5" class="t"/>
<path d="M449.8 640.2 L451.4 641.9" class="t"/>
<path d="M451.2 639.5 L452.7 641.2" class="t"/>
<path d="M452.5 638.9 L454.1 640.6" class="t"/>
<path d="M453.9 638.2 L455.4 639.9" class="t"/>
<path d="M455.2 637.6 L456.8 639.3" class="t"/>
</g>
<g id="p_g">
<ellipse cx="158.5" cy="503.5" rx="9.4" ry="5.4" class="b"/>
<ellipse cx="158.5" cy="503.5" rx="8" ry="4.3"/>
<path d="M129 516.4C129.5 515 130.9 512.9 132.8 511.9C134.7 510.8 138.2 510.2 140.3 510.3C142.5 510.5 144 511.4 145.7 512.6C147.3 513.9 148.6 516.7 150.2 517.9C151.8 519.1 153.4 519.4 155.5 519.7C157.7 520.1 160.7 519.2 163.1 519.7C165.5 520.3 168.4 522 169.9 523.2C171.4 524.5 171.8 525.9 172.2 527C172.6 528.2 171.4 529.2 172.2 530.1C173 530.9 175.2 531.5 176.8 532.3C178.3 533.2 180 534 181.3 535.4C182.6 536.8 182.1 538.8 184.3 540.7C186.6 542.6 191.2 544.7 195 546.8C198.7 548.8 204.3 551.2 207.1 552.8C209.9 554.5 211.2 555.2 211.9 556.6C212.7 558 212.5 560.3 211.6 561.2C210.8 562 208.4 561.7 207.1 561.9C205.8 562.2 205.3 561.7 204.1 562.7C202.8 563.7 201 567.2 199.5 568C198 568.7 199 569 195 567.2C190.9 565.5 179.5 559.4 175.2 557.4C170.9 555.3 170.4 556 169.2 555.1C167.9 554.2 168.9 553.5 167.6 552.1C166.4 550.7 163.6 548.8 161.6 546.8C159.6 544.7 157.5 541.6 155.5 539.9C153.5 538.3 151.1 538.3 149.4 536.9C147.8 535.5 146.9 533.5 145.7 531.6C144.4 529.7 143.8 527 141.9 525.5C140 524 136.3 523.4 134.3 522.5C132.3 521.6 130.6 521.2 129.7 520.2C128.8 519.2 128.5 517.8 129 516.4Z" class="w b" t="0.3"/>
<ellipse cx="138.8" cy="516.4" rx="6.8" ry="4.2" transform="rotate(-5 138.8 516.4)" class="b"/>
<ellipse cx="138.8" cy="516.7" rx="3.6" ry="2.2" transform="rotate(-5 138.8 516.7)" class="b"/>
<ellipse cx="138.8" cy="516.4" rx="5.2" ry="3.2" transform="rotate(-5 138.8 516.4)" class="t"/>
<ellipse cx="159.3" cy="527.1" rx="12.2" ry="7.6" class="b"/>
<ellipse cx="159.3" cy="526.3" rx="12.2" ry="7.4" class="b"/>
<ellipse cx="159.3" cy="526.3" rx="9.6" ry="5.8" class="b"/>
<ellipse cx="159.3" cy="526.6" rx="6.2" ry="3.6" class="b"/>
<ellipse cx="159.3" cy="526.3" rx="7.8" ry="4.7" class="t"/>
<path d="M129.7 520.2C130.6 520.1 132.9 519.2 135 519.7C137.2 520.3 140.6 521.9 142.6 523.2C144.6 524.6 146.4 527 147.2 527.8" class="t"/>
<path d="M145.7 512.6C146 513.2 147.6 515 147.9 516.4C148.3 517.8 147.7 520.2 147.6 521" class="t"/>
<path d="M149.4 536.9 L155.5 534.6 L162.3 536.4 L163.1 546.8" class="b"/>
<path d="M155.5 534.6 L155.5 539.9"/>
<path d="M162.3 536.4 L170.7 546.8 L175.2 557.4" class="b"/>
<path d="M163.1 540.7 L169.9 549.8 L169.2 555.1"/>
<path d="M170.7 533.1 L176.8 536.1 L188.9 543 L201 549.8 L210.1 555.1" class="b"/>
<path d="M172.2 539.9 L179.8 543.7 L191.9 550.5 L204.1 557.4 L207.1 561.9" class="b"/>
<path d="M170.7 546.8 L181.3 552.1 L195 559.6 L202.5 563.4" class="b"/>
<path d="M175.2 552.8 L185.9 558.1 L198 565"/>
<path d="M170.7 533.1 L169.9 539.9 L172.2 539.9"/>
<path d="M195 559.6 L195 567.2" class="t"/>
<path d="M182.8 553.6 L183.1 558.9" class="t"/>
<path d="M207.1 556.6 L209.4 557.7 L208.6 561.2" class="b"/>
<ellipse cx="179" cy="536.4" rx="3" ry="2.4" class="w b"/>
<path d="M176 536.4 L176 538.8"/>
<path d="M182.1 536.4 L182.1 538.8"/>
<ellipse cx="192.7" cy="547.5" rx="2.7" ry="2.2" class="w b"/>
<path d="M190 547.5 L190 549.9"/>
<path d="M195.4 547.5 L195.4 549.9"/>
<ellipse cx="199.5" cy="551.6" rx="2.4" ry="1.9" class="w b"/>
<path d="M197.1 551.6 L197.1 554"/>
<path d="M201.9 551.6 L201.9 554"/>
<ellipse cx="173.7" cy="539.9" rx="1.8" ry="1.5" class="w b"/>
<path d="M171.9 539.9 L171.9 542.3"/>
<path d="M175.5 539.9 L175.5 542.3"/>
<path d="M166.9 531.6 L168.4 536.9 L170.7 537.6" class="b"/>
<path d="M163.1 533.1 L166.4 537.6" class="b"/>
<path d="M175.2 543.7 L188.9 551 L201 557.7" class="b"/>
<path d="M177.5 539.9 L190.4 546.8 L203.3 553.9" class="b"/>
<path d="M173.7 549 L185.9 555.4 L197.2 561.6" class="b"/>
<path d="M181.3 546.8 L180.4 549.8" class="b"/>
<path d="M186.6 549.8 L185.7 552.8" class="b"/>
<path d="M191.9 552.5 L191 555.5" class="b"/>
<path d="M197.2 555.4 L196.3 558.4" class="b"/>
<path d="M178.3 552.5 L177.4 555.5" class="b"/>
<path d="M184.3 555.9 L183.4 558.9" class="b"/>
<path d="M190.4 558.9 L189.5 561.9" class="b"/>
<path d="M199.5 568 L201 562.7 L207.1 561.9" class="b"/>
<path d="M204.1 555.9 L207.1 552.8" class="b"/>
<path d="M169.9 549.8 L175.2 552.8 L175.2 557.4" class="b"/>
<path d="M161.6 546.8 L163.1 540.7" class="b"/>
<path d="M132.8 538.4C132.6 537.3 133.4 534.7 134.3 533.9C135.2 533 138.3 532.2 139.6 532.3C140.8 532.4 143.1 533.7 143.7 534.6C144.3 535.5 144.5 538.2 144.1 539.2C143.8 540.1 142.2 541.5 141.1 541.9C140 542.3 136.9 542.4 135.8 541.9C134.7 541.4 133 539.5 132.8 538.4Z" class="w b"/>
<ellipse cx="138.7" cy="535.8" rx="3.6" ry="2.3" class="b"/>
<ellipse cx="138.7" cy="536" rx="2.2" ry="1.3"/>
<path d="M135 538.4 L135.8 541.4" class="t"/>
<path d="M141.1 539.2 L141.3 541.7" class="t"/>
<ellipse cx="138.6" cy="578.4" rx="5" ry="3.6" class="w b"/>
<ellipse cx="138.6" cy="578.2" rx="2.6" ry="1.8" class="b"/>
<ellipse cx="138.6" cy="578.2" rx="3.8" ry="2.7" class="t"/>
<path d="M111.5 607.4 A26.5 15.8 0 0 0 164.5 607.4 L164.5 603.5 A26.5 15.8 0 0 1 111.5 603.5 Z" class="w b"/>
<ellipse cx="138" cy="603.5" rx="26.5" ry="15.8" class="w b"/>
<path d="M164.2 605.7v3.8" class="b"/>
<path d="M163.8 606.9v3.8"/>
<path d="M163.3 608.2v3.8" class="b"/>
<path d="M162.6 609.3v3.8"/>
<path d="M161.8 610.5v3.8" class="b"/>
<path d="M160.8 611.6v3.8"/>
<path d="M159.6 612.6v3.8" class="b"/>
<path d="M158.3 613.6v3.8"/>
<path d="M156.9 614.6v3.8" class="b"/>
<path d="M155.4 615.4v3.8"/>
<path d="M153.7 616.2v3.8" class="b"/>
<path d="M152 616.9v3.8"/>
<path d="M150.2 617.5v3.8" class="b"/>
<path d="M148.2 618.1v3.8"/>
<path d="M146.3 618.5v3.8" class="b"/>
<path d="M144.2 618.9v3.8"/>
<path d="M142.2 619.1v3.8" class="b"/>
<path d="M140.1 619.3v3.8"/>
<path d="M138 619.3v3.8" class="b"/>
<path d="M135.9 619.3v3.8"/>
<path d="M133.8 619.1v3.8" class="b"/>
<path d="M131.7 618.9v3.8"/>
<path d="M129.7 618.5v3.8" class="b"/>
<path d="M127.7 618.1v3.8"/>
<path d="M125.8 617.5v3.8" class="b"/>
<path d="M124 616.9v3.8"/>
<path d="M122.2 616.2v3.8" class="b"/>
<path d="M120.6 615.4v3.8"/>
<path d="M119.1 614.6v3.8" class="b"/>
<path d="M117.7 613.6v3.8"/>
<path d="M116.4 612.6v3.8" class="b"/>
<path d="M115.2 611.6v3.8"/>
<path d="M114.2 610.5v3.8" class="b"/>
<path d="M113.4 609.3v3.8"/>
<path d="M112.7 608.2v3.8" class="b"/>
<path d="M112.1 606.9v3.8"/>
<path d="M111.7 605.7v3.8" class="b"/>
<ellipse cx="138" cy="603.2" rx="22.6" ry="12.9" class="b"/>
<ellipse cx="138" cy="603.3" rx="21.2" ry="11.9" class="t"/>
<ellipse cx="138" cy="603.7" rx="11.2" ry="6.6" class="w b"/>
<ellipse cx="138" cy="603.1" rx="8" ry="4.6"/>
<path d="M135.2 597.7v4.6a2.8 1.6 0 0 0 5.6 0v-4.6" class="w b"/>
<ellipse cx="138" cy="597.7" rx="2.8" ry="1.6" class="w b"/>
<path d="M136.5 600.9h3" class="b"/>
<ellipse cx="154.3" cy="604.9" rx="2.6" ry="1.7" class="b"/>
<ellipse cx="154.6" cy="605.4" rx="1.5" ry="0.9" class="g"/>
<ellipse cx="149.5" cy="610.1" rx="2.6" ry="1.7" class="b"/>
<ellipse cx="149.8" cy="610.6" rx="1.5" ry="0.9" class="g"/>
<ellipse cx="140.3" cy="612.6" rx="2.6" ry="1.7" class="b"/>
<ellipse cx="140.6" cy="613.1" rx="1.5" ry="0.9" class="g"/>
<ellipse cx="130.2" cy="611.6" rx="2.6" ry="1.7" class="b"/>
<ellipse cx="130.5" cy="612.1" rx="1.5" ry="0.9" class="g"/>
<ellipse cx="123.1" cy="607.4" rx="2.6" ry="1.7" class="b"/>
<ellipse cx="123.4" cy="607.9" rx="1.5" ry="0.9" class="g"/>
<ellipse cx="121.6" cy="601.7" rx="2.6" ry="1.7" class="b"/>
<ellipse cx="121.9" cy="602.2" rx="1.5" ry="0.9" class="g"/>
<ellipse cx="126.5" cy="596.5" rx="2.6" ry="1.7" class="b"/>
<ellipse cx="126.8" cy="597" rx="1.5" ry="0.9" class="g"/>
<ellipse cx="135.7" cy="594" rx="2.6" ry="1.7" class="b"/>
<ellipse cx="136" cy="594.5" rx="1.5" ry="0.9" class="g"/>
<ellipse cx="145.8" cy="595" rx="2.6" ry="1.7" class="b"/>
<ellipse cx="146.1" cy="595.5" rx="1.5" ry="0.9" class="g"/>
<ellipse cx="152.9" cy="599.2" rx="2.6" ry="1.7" class="b"/>
<ellipse cx="153.2" cy="599.7" rx="1.5" ry="0.9" class="g"/>
<path d="M151.8 607.3l1.6 0.9" class="b"/>
<path d="M144.5 611.4l1.6 0.9" class="b"/>
<path d="M134.3 612.2l1.6 0.9" class="b"/>
<path d="M125.2 609.4l1.6 0.9" class="b"/>
<path d="M120.7 604.2l1.6 0.9" class="b"/>
<path d="M122.5 598.5l1.6 0.9" class="b"/>
<path d="M129.9 594.5l1.6 0.9" class="b"/>
<path d="M140.1 593.6l1.6 0.9" class="b"/>
<path d="M149.1 596.4l1.6 0.9" class="b"/>
<path d="M153.6 601.6l1.6 0.9" class="b"/>
</g>
<g id="p_h">
<path d="M129.3 637.4v6a3.4 1.8 0 0 0 6.8 0v-6" class="w b"/>
<ellipse cx="132.7" cy="637.4" rx="3.4" ry="1.8" class="w b"/>
<path d="M141.1 642v2.2a2.6 1.4 0 0 0 5.2 0v-2.2" class="w b"/>
<ellipse cx="143.7" cy="642" rx="2.6" ry="1.4" class="w b"/>
<ellipse cx="143.7" cy="646.6" rx="3.2" ry="1.8" class="w b"/>
<ellipse cx="143.7" cy="642" rx="1.3" ry="0.7"/>
<ellipse cx="137.5" cy="671.4" rx="24.8" ry="14.2" class="w b"/>
<ellipse cx="138.1" cy="669.8" rx="24.8" ry="14.2" class="w b"/>
<path d="M133.7 683.8l-0.6 1.6" class="b"/>
<path d="M131.4 683.5l-0.6 1.6" class="b"/>
<path d="M129.2 683.1l-0.6 1.6" class="b"/>
<path d="M127 682.5l-0.6 1.6" class="b"/>
<path d="M124.9 681.9l-0.6 1.6" class="b"/>
<path d="M123 681.1l-0.6 1.6" class="b"/>
<path d="M121.1 680.2l-0.6 1.6" class="b"/>
<path d="M119.5 679.2l-0.6 1.6" class="b"/>
<path d="M118 678.2l-0.6 1.6" class="b"/>
<path d="M116.7 677l-0.6 1.6" class="b"/>
<path d="M115.6 675.8l-0.6 1.6" class="b"/>
<path d="M114.7 674.6l-0.6 1.6" class="b"/>
<path d="M114 673.3l-0.6 1.6" class="b"/>
<path d="M113.5 671.9l-0.6 1.6" class="b"/>
<path d="M113.3 670.6l-0.6 1.6" class="b"/>
<path d="M113.3 669.2l-0.6 1.6" class="b"/>
<path d="M121.2 671.6C122.1 670.6 123.9 667 126.5 665.4C129.2 663.8 133.6 662.2 137.2 661.9C140.7 661.6 145.1 662.6 147.8 663.6C150.4 664.7 152.2 667.3 153.1 668.1" class="t"/>
<path d="M123.9 674.2C124.9 675 127.3 677.8 130.1 678.7C132.9 679.6 137.2 680 140.7 679.6C144.2 679.1 148.7 677.5 151.3 676C154 674.5 155.8 671.6 156.6 670.7" class="t"/>
<ellipse cx="137.1" cy="670.8" rx="9" ry="4.6" transform="rotate(-8 137.1 670.8)" class="d"/>
<path d="M130.5 659.7v4.8a1.9 1 0 0 0 3.8 0v-4.8" class="w b"/>
<ellipse cx="132.4" cy="659.7" rx="1.9" ry="1" class="w b"/>
<path d="M140.8 664.7v4.8a1.9 1 0 0 0 3.8 0v-4.8" class="w b"/>
<ellipse cx="142.7" cy="664.7" rx="1.9" ry="1" class="w b"/>
<path d="M135.4 667.2 L139.8 668.1" class="b"/>
<path d="M128.3 671.6 L133.6 673.4" class="b"/>
<path d="M159.3 676.4 L170.8 683.5" class="b"/>
<path d="M146.4 683.5 L153.1 683.1 L168.1 691.1" class="b"/>
<path d="M153.1 683.1 L159.3 676.4" class="t"/>
<path d="M169 685.8 L176.1 682.1 L230.8 714 L260.2 730.9 L315 762 L368.9 793.6 L420.7 824.4 L470.5 853.5 L488.9 864.1 L490.1 872.7 L471.7 862.3 L421.9 833.8 L370.1 803.7 L316.2 772.8 L261.4 742.4 L232 725.9 L177.3 694 L167.5 689.8Z" class="w"/>
<path d="M169 685.8 L176.1 682.1 L230.8 714 L260.2 730.9 L315 762 L368.9 793.6 L420.7 824.4 L470.5 853.5 L488.9 864.1" class="b"/>
<path d="M169 685.8 L230.8 723.3 L260.2 739.8 L315 770.2 L368.9 801.1 L420.7 831.2 L470.5 859.7 L488.9 870.1" class="b"/>
<path d="M168 687.6 L230.8 724.6 L260.2 741.1 L315 771.5 L368.9 802.4 L420.7 832.5 L470.5 861 L488.9 871.4" stroke="#999" stroke-width="0.9"/>
<path d="M167.5 689.6 L231.6 725.9 L261 742.4 L315.8 772.8 L369.7 803.7 L421.5 833.8 L471.3 862.3 L489.7 872.7"/>
<path d="M172 688.8l-1.0 -2.2" class="b"/>
<path d="M174.4 690.2l-1.0 -2.2" class="b"/>
<path d="M176.8 691.6l-1.0 -2.2" class="b"/>
<path d="M179.2 693l-1.0 -2.2" class="b"/>
<path d="M181.6 694.4l-1.0 -2.2" class="b"/>
<path d="M184 695.8l-1.0 -2.2" class="b"/>
<path d="M186.4 697.2l-1.0 -2.2" class="b"/>
<path d="M188.8 698.6l-1.0 -2.2" class="b"/>
<path d="M191.2 700l-1.0 -2.2" class="b"/>
<path d="M193.6 701.4l-1.0 -2.2" class="b"/>
<path d="M196 702.8l-1.0 -2.2" class="b"/>
<path d="M198.4 704.2l-1.0 -2.2" class="b"/>
<path d="M200.8 705.6l-1.0 -2.2" class="b"/>
<path d="M203.2 707l-1.0 -2.2" class="b"/>
<path d="M205.6 708.4l-1.0 -2.2" class="b"/>
<path d="M208 709.8l-1.0 -2.2" class="b"/>
<path d="M210.4 711.2l-1.0 -2.2" class="b"/>
<path d="M212.8 712.6l-1.0 -2.2" class="b"/>
<path d="M215.2 714l-1.0 -2.2" class="b"/>
<path d="M217.6 715.4l-1.0 -2.2" class="b"/>
<path d="M220 716.8l-1.0 -2.2" class="b"/>
<path d="M222.4 718.2l-1.0 -2.2" class="b"/>
<path d="M224.8 719.6l-1.0 -2.2" class="b"/>
<path d="M227.2 721l-1.0 -2.2" class="b"/>
<path d="M171 684.1 L228 717.7" class="t"/>
<ellipse cx="177.6" cy="685" rx="0.8" ry="0.6" class="t"/>
<ellipse cx="200.4" cy="698.3" rx="0.8" ry="0.6" class="t"/>
<path d="M221.7 720.6 L210.1 728.8 C208.1 730.1 212.1 732.5 214.1 731.1 L227.5 724" class="w"/>
<path d="M223.5 723.7L212.4 730.2" class="t"/>
<path d="M229.4 725 L218.1 733.4 C216.1 734.8 220 737.1 222 735.7 L235.2 728.4" class="w"/>
<path d="M231.2 728.2L220.4 734.8" class="t"/>
<path d="M237.1 729.4 L226 737.8 C224.1 739.2 228 741.5 229.9 740.1 L242.8 732.7" class="w"/>
<path d="M238.9 732.5L228.3 739.2" class="t"/>
<path d="M244.7 733.7 L233.9 742.3 C232 743.7 235.9 745.9 237.8 744.5 L250.5 737" class="w"/>
<path d="M246.6 736.8L236.2 743.6" class="t"/>
<path d="M252.4 737.9 L241.8 746.7 C239.9 748.1 243.8 750.4 245.6 748.9 L258.1 741.3" class="w"/>
<path d="M254.2 741.1L244.1 748" class="t"/>
<path d="M260 742.2 L249.6 751 C247.8 752.5 251.6 754.7 253.5 753.3 L265.6 745.5" class="w"/>
<path d="M261.8 745.4L251.9 752.4" class="t"/>
<path d="M267.5 746.4 L257.4 755.3 C255.6 756.8 259.5 759.1 261.3 757.6 L273.2 749.7" class="w"/>
<path d="M269.4 749.6L259.7 756.7" class="t"/>
<path d="M275.1 750.6 L265.2 759.6 C263.4 761.1 267.2 763.4 269 761.9 L280.7 753.9" class="w"/>
<path d="M277 753.8L267.4 760.9" class="t"/>
<path d="M282.6 754.8 L273 763.9 C271.2 765.4 275 767.7 276.7 766.1 L288.2 758" class="w"/>
<path d="M284.5 758L275.2 765.2" class="t"/>
<path d="M290.1 758.9 L280.7 768.2 C279 769.7 282.7 771.9 284.4 770.4 L295.6 762.2" class="w"/>
<path d="M292 762.2L282.9 769.5" class="t"/>
<path d="M297.6 763.1 L288.4 772.4 C286.7 774 290.4 776.2 292.1 774.6 L303.1 766.3" class="w"/>
<path d="M299.5 766.3L290.6 773.7" class="t"/>
<path d="M305 767.2 L296 776.6 C294.4 778.3 298.1 780.4 299.8 778.8 L310.5 770.4" class="w"/>
<path d="M306.9 770.5L298.2 777.9" class="t"/>
<path d="M312.4 771.3 L303.7 780.9 C302.1 782.5 305.8 784.7 307.4 783 L317.9 774.5" class="w"/>
<path d="M314.3 774.6L305.9 782.1" class="t"/>
<path d="M319.8 775.5 L311.3 785.2 C309.7 786.8 313.4 789 315 787.3 L325.2 778.7" class="w"/>
<path d="M321.7 778.8L313.4 786.4" class="t"/>
<path d="M327.2 779.8 L318.9 789.5 C317.3 791.2 321 793.3 322.5 791.6 L332.6 782.9" class="w"/>
<path d="M329.1 783.1L321 790.7" class="t"/>
<path d="M334.5 784 L326.4 793.8 C324.9 795.5 328.5 797.6 330 795.9 L339.9 787.1" class="w"/>
<path d="M336.4 787.3L328.5 795" class="t"/>
<path d="M341.8 788.2 L333.9 798.1 C332.4 799.8 336 801.9 337.5 800.2 L347.1 791.3" class="w"/>
<path d="M343.8 791.5L336.1 799.3" class="t"/>
<path d="M349.1 792.3 L341.4 802.3 C340 804.1 343.5 806.2 345 804.4 L354.4 795.4" class="w"/>
<path d="M351.1 795.7L343.5 803.6" class="t"/>
<path d="M356.4 796.5 L348.9 806.6 C347.4 808.4 351 810.5 352.5 808.7 L361.6 799.6" class="w"/>
<path d="M358.3 799.8L351 807.8" class="t"/>
<path d="M363.6 800.6 L356.3 810.8 C354.9 812.6 358.5 814.7 359.9 812.9 L368.8 803.7" class="w"/>
<path d="M365.6 804L358.4 812" class="t"/>
<path d="M370.8 804.8 L363.7 815.1 C362.3 816.9 365.9 819 367.3 817.1 L376 807.8" class="w"/>
<path d="M372.8 808.2L365.8 816.3" class="t"/>
<path d="M378 809 L371.1 819.3 C369.7 821.2 373.3 823.2 374.6 821.4 L383.1 812" class="w"/>
<path d="M380 812.3L373.2 820.5" class="t"/>
<path d="M385.1 813.1 L378.5 823.5 C377.1 825.4 380.6 827.5 381.9 825.6 L390.3 816.1" class="w"/>
<path d="M387.1 816.5L380.5 824.7" class="t"/>
<path d="M392.3 817.3 L385.8 827.8 C384.5 829.7 387.9 831.7 389.2 829.8 L397.4 820.3" class="w"/>
<path d="M394.3 820.7L387.8 829" class="t"/>
<path d="M399.4 821.4 L393.1 832 C391.8 833.9 395.2 835.9 396.5 834 L404.4 824.4" class="w"/>
<path d="M401.4 824.8L395.1 833.2" class="t"/>
<path d="M406.5 825.5 L400.3 836.2 C399.1 838.1 402.5 840.1 403.8 838.2 L411.5 828.5" class="w"/>
<path d="M408.4 828.9L402.3 837.3" class="t"/>
<path d="M413.5 829.6 L407.6 840.3 C406.4 842.3 409.8 844.3 411 842.3 L418.5 832.6" class="w"/>
<path d="M415.5 833.1L409.6 841.5" class="t"/>
<path d="M420.5 833.7 L414.8 844.5 C413.6 846.5 417 848.5 418.2 846.5 L425.5 836.6" class="w"/>
<path d="M422.5 837.1L416.8 845.6" class="t"/>
<path d="M427.5 837.7 L422 848.6 C420.8 850.6 424.2 852.6 425.3 850.5 L432.5 840.6" class="w"/>
<path d="M429.6 841.1L423.9 849.7" class="t"/>
<path d="M434.5 841.7 L429.1 852.6 C428 854.7 431.3 856.6 432.5 854.6 L439.4 844.6" class="w"/>
<path d="M436.5 845.1L431.1 853.8" class="t"/>
<path d="M441.5 845.7 L436.2 856.6 C435.2 858.7 438.5 860.7 439.6 858.6 L446.4 848.5" class="w"/>
<path d="M443.5 849.1L438.2 857.8" class="t"/>
<path d="M448.4 849.6 L443.4 860.7 C442.3 862.8 445.6 864.7 446.7 862.6 L453.3 852.5" class="w"/>
<path d="M450.4 853.1L445.3 861.8" class="t"/>
<path d="M455.3 853.6 L452.5 860.3 C451.5 862.5 454.8 864.4 455.8 862.2 L460.1 856.4" class="w"/>
<path d="M457.3 857L454.5 861.5" class="t"/>
<path d="M462.2 857.5 L459.5 864.3 C458.5 866.5 461.8 868.4 462.8 866.2 L467 860.3" class="w"/>
<path d="M464.2 861L461.4 865.4" class="t"/>
<path d="M469 861.4 L466.5 868.2 C465.5 870.4 468.7 872.3 469.7 870.1 L473.8 864.2" class="w"/>
<path d="M471.1 864.9L468.4 869.4" class="t"/>
<path d="M231.6 725.9 L261 742.4 L315.8 772.8 L369.7 803.7 L421.5 833.8 L471.3 862.3 L489.7 872.7"/>
<path d="M235.4 716.6 C238 715.2 238.2 712.2 239.2 712.7 C240.4 713.2 240.8 717.5 241.2 720" class="w"/>
<ellipse cx="242.7" cy="719.9" rx="1" ry="0.9" class="t"/>
<path d="M243.1 721.1 C245.7 719.6 245.9 716.7 246.9 717.2 C248.1 717.7 248.5 721.9 248.9 724.5" class="w"/>
<ellipse cx="250.4" cy="724.3" rx="1" ry="0.9" class="t"/>
<path d="M250.8 725.5 C253.3 724.1 253.6 721.1 254.6 721.6 C255.8 722.1 256.1 726.4 256.6 728.9" class="w"/>
<ellipse cx="258.1" cy="728.7" rx="1" ry="0.9" class="t"/>
<path d="M258.4 729.9 C261 728.5 261.2 725.6 262.2 726.1 C263.4 726.6 263.8 730.8 264.2 733.3" class="w"/>
<ellipse cx="265.7" cy="733.1" rx="1" ry="0.9" class="t"/>
<path d="M266.1 734.2 C268.6 732.8 268.8 729.9 269.8 730.4 C271 730.9 271.4 735.1 271.9 737.6" class="w"/>
<ellipse cx="273.4" cy="737.5" rx="1" ry="0.9" class="t"/>
<path d="M273.7 738.5 C276.2 737.1 276.4 734.3 277.4 734.8 C278.6 735.3 279 739.4 279.4 741.9" class="w"/>
<ellipse cx="280.9" cy="741.8" rx="1" ry="0.9" class="t"/>
<path d="M281.2 742.8 C283.8 741.4 284 738.6 285 739.1 C286.2 739.6 286.5 743.7 287 746.2" class="w"/>
<ellipse cx="288.5" cy="746" rx="1" ry="0.9" class="t"/>
<path d="M288.8 747.1 C291.3 745.7 291.5 742.9 292.5 743.4 C293.7 743.9 294.1 748 294.5 750.4" class="w"/>
<ellipse cx="296" cy="750.3" rx="1" ry="0.9" class="t"/>
<path d="M296.3 751.3 C298.8 750 299 747.2 300 747.7 C301.2 748.2 301.6 752.3 302 754.7" class="w"/>
<ellipse cx="303.5" cy="754.6" rx="1" ry="0.9" class="t"/>
<path d="M303.8 755.6 C306.3 754.3 306.5 751.5 307.5 752 C308.7 752.5 309 756.5 309.5 758.9" class="w"/>
<ellipse cx="311" cy="758.8" rx="1" ry="0.9" class="t"/>
<path d="M311.2 759.8 C313.7 758.5 314 755.8 315 756.3 C316.2 756.8 316.5 760.8 317 763.2" class="w"/>
<ellipse cx="318.5" cy="763" rx="1" ry="0.9" class="t"/>
<path d="M318.6 764.1 C321.2 762.9 321.4 760.1 322.4 760.6 C323.6 761.1 323.9 765.1 324.4 767.5" class="w"/>
<ellipse cx="325.9" cy="767.4" rx="1" ry="0.9" class="t"/>
<path d="M326 768.5 C328.6 767.2 328.8 764.5 329.8 765 C331 765.5 331.3 769.5 331.8 771.8" class="w"/>
<ellipse cx="333.3" cy="771.7" rx="1" ry="0.9" class="t"/>
<path d="M333.4 772.8 C335.9 771.6 336.2 768.9 337.2 769.4 C338.4 769.9 338.7 773.8 339.2 776.2" class="w"/>
<ellipse cx="340.6" cy="776" rx="1" ry="0.9" class="t"/>
<path d="M340.8 777.1 C343.3 775.9 343.5 773.2 344.5 773.7 C345.7 774.2 346 778.1 346.5 780.5" class="w"/>
<ellipse cx="348" cy="780.3" rx="1" ry="0.9" class="t"/>
<path d="M348.1 781.4 C350.6 780.2 350.8 777.5 351.8 778 C353 778.5 353.4 782.4 353.8 784.8" class="w"/>
<ellipse cx="355.3" cy="784.6" rx="1" ry="0.9" class="t"/>
<path d="M355.4 785.7 C357.9 784.5 358.1 781.8 359.1 782.3 C360.3 782.8 360.7 786.7 361.1 789" class="w"/>
<ellipse cx="362.6" cy="788.9" rx="1" ry="0.9" class="t"/>
<path d="M362.7 790 C365.2 788.8 365.4 786.1 366.4 786.6 C367.6 787.1 367.9 791 368.4 793.3" class="w"/>
<ellipse cx="369.9" cy="793.2" rx="1" ry="0.9" class="t"/>
<path d="M369.9 794.2 C372.4 793.1 372.7 790.5 373.7 791 C374.9 791.5 375.2 795.3 375.6 797.6" class="w"/>
<ellipse cx="377.1" cy="797.4" rx="1" ry="0.9" class="t"/>
<path d="M377.1 798.5 C379.7 797.4 379.9 794.8 380.9 795.3 C382.1 795.8 382.4 799.6 382.8 801.9" class="w"/>
<ellipse cx="384.3" cy="801.7" rx="1" ry="0.9" class="t"/>
<path d="M384.3 802.8 C386.8 801.7 387.1 799.1 388.1 799.6 C389.3 800.1 389.6 803.9 390 806.1" class="w"/>
<ellipse cx="391.5" cy="806" rx="1" ry="0.9" class="t"/>
<path d="M391.5 807.1 C394 806 394.2 803.4 395.2 803.9 C396.4 804.4 396.7 808.1 397.2 810.4" class="w"/>
<ellipse cx="398.7" cy="810.3" rx="1" ry="0.9" class="t"/>
<path d="M398.7 811.3 C401.2 810.2 401.4 807.7 402.4 808.2 C403.6 808.7 403.9 812.4 404.3 814.6" class="w"/>
<ellipse cx="405.8" cy="814.5" rx="1" ry="0.9" class="t"/>
<path d="M405.8 815.5 C408.3 814.5 408.5 811.9 409.5 812.4 C410.7 812.9 411 816.6 411.4 818.9" class="w"/>
<ellipse cx="412.9" cy="818.7" rx="1" ry="0.9" class="t"/>
<path d="M412.9 819.8 C415.4 818.7 415.6 816.2 416.6 816.7 C417.8 817.2 418.1 820.9 418.5 823.1" class="w"/>
<ellipse cx="420" cy="822.9" rx="1" ry="0.9" class="t"/>
<path d="M419.9 823.9 C422.4 822.9 422.6 820.4 423.6 820.9 C424.8 821.4 425.1 825.1 425.6 827.3" class="w"/>
<ellipse cx="427" cy="827.1" rx="1" ry="0.9" class="t"/>
<path d="M427 828.1 C429.5 827 429.7 824.5 430.7 825 C431.9 825.5 432.2 829.2 432.6 831.4" class="w"/>
<ellipse cx="434.1" cy="831.2" rx="1" ry="0.9" class="t"/>
<path d="M434 832.2 C436.5 831.2 436.7 828.7 437.7 829.2 C438.9 829.7 439.2 833.3 439.6 835.5" class="w"/>
<ellipse cx="441.1" cy="835.3" rx="1" ry="0.9" class="t"/>
<path d="M441 836.2 C443.5 835.3 443.7 832.8 444.7 833.3 C445.9 833.8 446.2 837.4 446.6 839.5" class="w"/>
<ellipse cx="448.1" cy="839.4" rx="1" ry="0.9" class="t"/>
<path d="M447.9 840.3 C450.4 839.3 450.6 836.9 451.6 837.4 C452.8 837.9 453.1 841.5 453.6 843.6" class="w"/>
<ellipse cx="455" cy="843.5" rx="1" ry="0.9" class="t"/>
<path d="M454.9 844.4 C457.4 843.4 457.6 841 458.6 841.5 C459.8 842 460.1 845.5 460.5 847.7" class="w"/>
<ellipse cx="462" cy="847.5" rx="1" ry="0.9" class="t"/>
<path d="M461.8 848.4 C464.3 847.5 464.5 845.1 465.5 845.6 C466.7 846.1 467 849.6 467.4 851.7" class="w"/>
<ellipse cx="468.9" cy="851.6" rx="1" ry="0.9" class="t"/>
<path d="M468.7 852.4 C471.2 851.5 471.4 849.1 472.4 849.6 C473.6 850.1 473.9 853.6 474.3 855.7" class="w"/>
<ellipse cx="475.8" cy="855.6" rx="1" ry="0.9" class="t"/>
<path d="M475.6 856.4 C478 855.5 478.2 853.1 479.2 853.6 C480.4 854.1 480.7 857.6 481.2 859.7" class="w"/>
<ellipse cx="482.6" cy="859.5" rx="1" ry="0.9" class="t"/>
<path d="M482.4 860.3 C484.9 859.4 485.1 857.1 486.1 857.6 C487.3 858.1 487.6 861.5 488 863.6" class="w"/>
<ellipse cx="489.4" cy="863.5" rx="1" ry="0.9" class="t"/>
<ellipse cx="230.8" cy="714.2" rx="1.9" ry="1.6" class="w b"/>
<ellipse cx="231" cy="713.8" rx="1" ry="0.8" class="k"/>
<ellipse cx="260.2" cy="731.1" rx="1.9" ry="1.6" class="w b"/>
<ellipse cx="260.4" cy="730.7" rx="1" ry="0.8" class="k"/>
<ellipse cx="315" cy="762.2" rx="1.9" ry="1.6" class="w b"/>
<ellipse cx="315.2" cy="761.8" rx="1" ry="0.8" class="k"/>
<ellipse cx="368.9" cy="793.8" rx="1.9" ry="1.6" class="w b"/>
<ellipse cx="369.1" cy="793.4" rx="1" ry="0.8" class="k"/>
<ellipse cx="420.7" cy="824.6" rx="1.9" ry="1.6" class="w b"/>
<ellipse cx="420.9" cy="824.2" rx="1" ry="0.8" class="k"/>
<ellipse cx="470.5" cy="853.7" rx="1.9" ry="1.6" class="w b"/>
<ellipse cx="470.7" cy="853.3" rx="1" ry="0.8" class="k"/>
<path d="M488.9 863.4 L493.5 860.3 L493 868.9 L488.4 872.5Z" class="w"/>
<path d="M488.9 863.4 L488.4 872.5" class="t"/>
</g>
<g id="p_i">
<ellipse cx="138.9" cy="730.1" rx="5" ry="3.5" class="w b"/>
<ellipse cx="138.6" cy="730.3" rx="2.6" ry="1.8" class="b"/>
<ellipse cx="138.9" cy="730.1" rx="3.9" ry="2.7" class="t"/>
<ellipse cx="172.8" cy="742.2" rx="3.1" ry="2.6" class="w b"/>
<ellipse cx="172.8" cy="740.6" rx="3.1" ry="2.3" class="w b"/>
<ellipse cx="172.8" cy="740.6" rx="1.6" ry="1.1" class="t"/>
<ellipse cx="197.7" cy="757.5" rx="3.4" ry="2.7" class="w b"/>
<ellipse cx="197.7" cy="756.2" rx="3.4" ry="2.5" class="w b"/>
<ellipse cx="197.7" cy="756.3" rx="1.8" ry="1.2"/>
<path d="M196.2 755.7l3 1.4" class="t"/>
<path d="M170.7 761.7V749.6"/>
<path d="M174.1 761.7V749.6"/>
<ellipse cx="172.4" cy="749.6" rx="1.7" ry="0.9" class="w b"/>
<path d="M170.7 751.2l3.4 0.9"/>
<path d="M170.7 752.9l3.4 0.9"/>
<path d="M170.7 754.6l3.4 0.9"/>
<path d="M170.7 756.3l3.4 0.9"/>
<path d="M170.7 758l3.4 0.9"/>
<path d="M170.7 759.7l3.4 0.9"/>
<ellipse cx="172.4" cy="762.7" rx="7" ry="3.9" class="w b"/>
<path d="M170.7 759.7V763.3"/>
<path d="M174.1 759.7V763.3"/>
<ellipse cx="172.4" cy="763.3" rx="1.7" ry="0.9" class="k"/>
<path d="M168.6 765.9l1.8 3.6h4l1.8 -3.6" class="b"/>
<ellipse cx="172.4" cy="767.5" rx="2.4" ry="1.2" class="t"/>
<path d="M195.7 776.3V763"/>
<path d="M199.1 776.3V763"/>
<ellipse cx="197.4" cy="763" rx="1.7" ry="0.9" class="w b"/>
<path d="M195.7 764.6l3.4 0.9"/>
<path d="M195.7 766.3l3.4 0.9"/>
<path d="M195.7 768l3.4 0.9"/>
<path d="M195.7 769.7l3.4 0.9"/>
<path d="M195.7 771.4l3.4 0.9"/>
<path d="M195.7 773.1l3.4 0.9"/>
<ellipse cx="197.4" cy="777.3" rx="7" ry="3.9" class="w b"/>
<path d="M195.7 774.3V777.9"/>
<path d="M199.1 774.3V777.9"/>
<ellipse cx="197.4" cy="777.9" rx="1.7" ry="0.9" class="k"/>
<path d="M193.6 780.5l1.8 3.6h4l1.8 -3.6" class="b"/>
<ellipse cx="197.4" cy="782.1" rx="2.4" ry="1.2" class="t"/>
<path d="M171.1 800.9 L174.9 796.5 L178.1 795.9 L180.6 799 L184.4 797.1 L184.7 792.1 L188.2 788.9 L193.9 791.4 L195.8 793.3 L195.8 799 L178.1 809.1 L172.4 807.9 L171.1 803.4Z" class="w b"/>
<path d="M171.1 800.9 L176.2 802.2 L180.6 799"/>
<path d="M176.2 802.2 L178.1 809.1" class="t"/>
<path d="M176.2 802.2 L176.8 807.2" class="t"/>
<path d="M184.7 792.1 L190.1 794.6 L193.9 791.4"/>
<path d="M190.1 794.6 L190.1 802.2"/>
<path d="M184.4 797.1 L188.2 799 L190.1 797.7"/>
<path d="M180.6 799 L181.3 803.4 L188.2 799" class="t"/>
<path d="M174.9 796.5 L175.6 799.6" class="t"/>
<path d="M103 859v4.2a1.9 1.0 0 0 0 3.8 0v-4.2" class="w b"/>
<ellipse cx="104.9" cy="862.6" rx="2.9" ry="1.7" class="w b"/>
<ellipse cx="104.9" cy="859" rx="1.9" ry="1.1" class="w b"/>
<path d="M104.6 859.2v2.2" class="t"/>
<defs><clipPath id="c36"><path d="M96.4 825.3C96.5 824.3 98.3 821.5 99.2 820.6C100.2 819.7 104.2 816.8 105.9 815.9C107.5 814.9 113.6 811.8 115.3 811.1C117 810.4 121.2 808.7 122.9 808.7C124.6 808.6 130.5 809.7 132.4 810.2C134.3 810.6 140.2 812.6 141.9 813C143.6 813.4 148.2 814.2 149.5 814C150.7 813.8 153.2 811.4 154.2 811.1C155.3 810.8 158.7 810.7 159.9 811.1C161.1 811.5 165.1 813.9 166.5 814.9C168 816 172.8 820.1 174.1 821.5C175.5 823 178.3 827.7 179.8 829.1C181.3 830.6 187 834.2 189.3 835.8C191.6 837.4 199.9 843.4 202.6 845.3C205.2 847.1 213.9 853.2 215.8 854.7C217.8 856.3 221.8 859.3 222.5 860.4C223.2 861.6 223.5 864.9 223.1 866.1C222.6 867.3 219.2 871.5 217.7 872.7C216.3 874 210.3 877.4 208.3 878.4C206.2 879.5 199 882.6 196.9 883.2C194.8 883.7 189.5 884.2 187.4 883.7C185.3 883.3 178.7 879.8 176 878.4C173.4 877.1 163.7 871.5 160.9 869.9C158 868.3 150.2 863.9 147.6 862.3C144.9 860.7 137 855.3 134.3 853.8C131.6 852.3 123.5 848.3 121 847.1C118.6 846 111.5 843.4 109.7 842.4C107.9 841.5 104.2 838.8 103 837.7C101.9 836.5 98.9 832.3 98.3 831C97.6 829.8 96.3 826.4 96.4 825.3Z"/></clipPath></defs>
<path d="M96.4 825.3C96.5 824.3 98.3 821.5 99.2 820.6C100.2 819.7 104.2 816.8 105.9 815.9C107.5 814.9 113.6 811.8 115.3 811.1C117 810.4 121.2 808.7 122.9 808.7C124.6 808.6 130.5 809.7 132.4 810.2C134.3 810.6 140.2 812.6 141.9 813C143.6 813.4 148.2 814.2 149.5 814C150.7 813.8 153.2 811.4 154.2 811.1C155.3 810.8 158.7 810.7 159.9 811.1C161.1 811.5 165.1 813.9 166.5 814.9C168 816 172.8 820.1 174.1 821.5C175.5 823 178.3 827.7 179.8 829.1C181.3 830.6 187 834.2 189.3 835.8C191.6 837.4 199.9 843.4 202.6 845.3C205.2 847.1 213.9 853.2 215.8 854.7C217.8 856.3 221.8 859.3 222.5 860.4C223.2 861.6 223.5 864.9 223.1 866.1C222.6 867.3 219.2 871.5 217.7 872.7C216.3 874 210.3 877.4 208.3 878.4C206.2 879.5 199 882.6 196.9 883.2C194.8 883.7 189.5 884.2 187.4 883.7C185.3 883.3 178.7 879.8 176 878.4C173.4 877.1 163.7 871.5 160.9 869.9C158 868.3 150.2 863.9 147.6 862.3C144.9 860.7 137 855.3 134.3 853.8C131.6 852.3 123.5 848.3 121 847.1C118.6 846 111.5 843.4 109.7 842.4C107.9 841.5 104.2 838.8 103 837.7C101.9 836.5 98.9 832.3 98.3 831C97.6 829.8 96.3 826.4 96.4 825.3Z" class="w b"/>
<g clip-path="url(#c36)">
<ellipse cx="96.6" cy="806.7" rx="1.9" ry="1.4" class="b"/>
<path d="M94.6 806.7v1.6"/>
<ellipse cx="96.8" cy="806.9" rx="1" ry="0.7" class="k"/>
<ellipse cx="94.3" cy="810" rx="2" ry="1.4" class="b"/>
<path d="M92.3 810v1.6"/>
<ellipse cx="104.2" cy="805.1" rx="2.1" ry="1.5" class="b"/>
<path d="M102.1 805.1v1.6"/>
<ellipse cx="101.1" cy="807.9" rx="2.2" ry="1.6" class="b"/>
<path d="M98.8 807.9v1.6"/>
<ellipse cx="101.3" cy="808.1" rx="1.1" ry="0.8" class="k"/>
<ellipse cx="98.8" cy="811.5" rx="1.8" ry="1.3" class="b"/>
<path d="M97 811.5v1.6"/>
<ellipse cx="97" cy="814.7" rx="2.1" ry="1.5" class="b"/>
<path d="M95 814.7v1.6"/>
<ellipse cx="94" cy="818.1" rx="1.7" ry="1.2" class="b"/>
<path d="M92.2 818.1v1.6"/>
<ellipse cx="94.2" cy="818.3" rx="0.9" ry="0.6" class="k"/>
<ellipse cx="108.7" cy="807.1" rx="2.1" ry="1.5" class="b"/>
<path d="M106.6 807.1v1.6"/>
<ellipse cx="108.9" cy="807.3" rx="1" ry="0.7" class="k"/>
<ellipse cx="106.8" cy="810.7" rx="2" ry="1.4" class="b"/>
<path d="M104.8 810.7v1.6"/>
<ellipse cx="107" cy="810.9" rx="1" ry="0.7" class="k"/>
<ellipse cx="104.5" cy="813.5" rx="2.2" ry="1.6" class="b"/>
<path d="M102.4 813.5v1.6"/>
<ellipse cx="104.7" cy="813.7" rx="1.1" ry="0.8" class="k"/>
<ellipse cx="101" cy="817.3" rx="1.8" ry="1.3" class="b"/>
<path d="M99.2 817.3v1.6"/>
<ellipse cx="98.9" cy="819.8" rx="1.8" ry="1.3" class="b"/>
<path d="M97.1 819.8v1.6"/>
<ellipse cx="96.6" cy="824" rx="1.7" ry="1.2" class="b"/>
<path d="M94.9 824v1.6"/>
<ellipse cx="93.5" cy="827.3" rx="1.7" ry="1.2" class="b"/>
<path d="M91.8 827.3v1.6"/>
<ellipse cx="93.7" cy="827.5" rx="0.8" ry="0.6" class="k"/>
<ellipse cx="115.8" cy="805.9" rx="2.1" ry="1.5" class="b"/>
<path d="M113.7 805.9v1.6"/>
<ellipse cx="113.5" cy="809.1" rx="2" ry="1.5" class="b"/>
<path d="M111.5 809.1v1.6"/>
<ellipse cx="111.7" cy="812.9" rx="2.1" ry="1.5" class="b"/>
<path d="M109.7 812.9v1.6"/>
<ellipse cx="111.9" cy="813.1" rx="1" ry="0.7" class="k"/>
<ellipse cx="109.4" cy="815.4" rx="2" ry="1.4" class="b"/>
<path d="M107.4 815.4v1.6"/>
<ellipse cx="106.7" cy="818.6" rx="1.8" ry="1.3" class="b"/>
<path d="M104.9 818.6v1.6"/>
<ellipse cx="106.9" cy="818.8" rx="0.9" ry="0.6" class="k"/>
<ellipse cx="103.4" cy="822.7" rx="2" ry="1.4" class="b"/>
<path d="M101.4 822.7v1.6"/>
<ellipse cx="101.2" cy="826" rx="2" ry="1.4" class="b"/>
<path d="M99.3 826v1.6"/>
<ellipse cx="101.4" cy="826.2" rx="1" ry="0.7" class="k"/>
<ellipse cx="99.3" cy="828.9" rx="2.3" ry="1.7" class="b"/>
<path d="M97 828.9v1.6"/>
<ellipse cx="99.5" cy="829.1" rx="1.1" ry="0.8" class="k"/>
<ellipse cx="96.3" cy="832.3" rx="2.2" ry="1.6" class="b"/>
<path d="M94.2 832.3v1.6"/>
<ellipse cx="93.2" cy="834.9" rx="1.7" ry="1.2" class="b"/>
<path d="M91.6 834.9v1.6"/>
<ellipse cx="93.4" cy="835.1" rx="0.8" ry="0.6" class="k"/>
<ellipse cx="92" cy="838.5" rx="2.3" ry="1.6" class="b"/>
<path d="M89.8 838.5v1.6"/>
<ellipse cx="123.7" cy="805.1" rx="2.2" ry="1.6" class="b"/>
<path d="M121.6 805.1v1.6"/>
<ellipse cx="123.9" cy="805.3" rx="1.1" ry="0.8" class="k"/>
<ellipse cx="121" cy="807.8" rx="2" ry="1.4" class="b"/>
<path d="M119 807.8v1.6"/>
<ellipse cx="118.4" cy="810.9" rx="2.1" ry="1.5" class="b"/>
<path d="M116.2 810.9v1.6"/>
<ellipse cx="115.7" cy="814.5" rx="2.1" ry="1.5" class="b"/>
<path d="M113.6 814.5v1.6"/>
<ellipse cx="115.9" cy="814.7" rx="1.1" ry="0.8" class="k"/>
<ellipse cx="114.4" cy="817.2" rx="2" ry="1.5" class="b"/>
<path d="M112.3 817.2v1.6"/>
<ellipse cx="111.6" cy="820.7" rx="1.9" ry="1.4" class="b"/>
<path d="M109.7 820.7v1.6"/>
<ellipse cx="108.8" cy="824.4" rx="1.9" ry="1.4" class="b"/>
<path d="M106.9 824.4v1.6"/>
<ellipse cx="105.7" cy="827.6" rx="1.9" ry="1.4" class="b"/>
<path d="M103.8 827.6v1.6"/>
<ellipse cx="105.9" cy="827.8" rx="1" ry="0.7" class="k"/>
<ellipse cx="104.2" cy="831" rx="1.9" ry="1.4" class="b"/>
<path d="M102.3 831v1.6"/>
<ellipse cx="104.4" cy="831.2" rx="1" ry="0.7" class="k"/>
<ellipse cx="101.3" cy="833.5" rx="1.7" ry="1.2" class="b"/>
<path d="M99.7 833.5v1.6"/>
<ellipse cx="98.3" cy="837.1" rx="2" ry="1.4" class="b"/>
<path d="M96.3 837.1v1.6"/>
<ellipse cx="98.5" cy="837.3" rx="1" ry="0.7" class="k"/>
<ellipse cx="96.6" cy="839.9" rx="2.1" ry="1.5" class="b"/>
<path d="M94.5 839.9v1.6"/>
<ellipse cx="93.9" cy="843.2" rx="2" ry="1.4" class="b"/>
<path d="M91.9 843.2v1.6"/>
<ellipse cx="92" cy="846.5" rx="2.2" ry="1.6" class="b"/>
<path d="M89.8 846.5v1.6"/>
<ellipse cx="129.1" cy="806.7" rx="1.7" ry="1.2" class="b"/>
<path d="M127.4 806.7v1.6"/>
<ellipse cx="126" cy="809.5" rx="1.7" ry="1.2" class="b"/>
<path d="M124.4 809.5v1.6"/>
<ellipse cx="124.4" cy="813.5" rx="1.9" ry="1.4" class="b"/>
<path d="M122.5 813.5v1.6"/>
<ellipse cx="124.6" cy="813.7" rx="0.9" ry="0.7" class="k"/>
<ellipse cx="120.7" cy="816.6" rx="2" ry="1.4" class="b"/>
<path d="M118.7 816.6v1.6"/>
<ellipse cx="119.1" cy="819.6" rx="2.3" ry="1.6" class="b"/>
<path d="M116.8 819.6v1.6"/>
<ellipse cx="116" cy="823.4" rx="1.6" ry="1.2" class="b"/>
<path d="M114.4 823.4v1.6"/>
<ellipse cx="113.7" cy="825.9" rx="1.6" ry="1.2" class="b"/>
<path d="M112.1 825.9v1.6"/>
<ellipse cx="110.7" cy="829.5" rx="2.3" ry="1.6" class="b"/>
<path d="M108.4 829.5v1.6"/>
<ellipse cx="110.9" cy="829.7" rx="1.1" ry="0.8" class="k"/>
<ellipse cx="108.5" cy="832.8" rx="2" ry="1.4" class="b"/>
<path d="M106.5 832.8v1.6"/>
<ellipse cx="106.8" cy="835.6" rx="1.8" ry="1.3" class="b"/>
<path d="M105 835.6v1.6"/>
<ellipse cx="103.2" cy="839.7" rx="2.1" ry="1.5" class="b"/>
<path d="M101.1 839.7v1.6"/>
<ellipse cx="100.7" cy="842.9" rx="2.1" ry="1.5" class="b"/>
<path d="M98.6 842.9v1.6"/>
<ellipse cx="99.2" cy="845.6" rx="1.8" ry="1.3" class="b"/>
<path d="M97.5 845.6v1.6"/>
<ellipse cx="99.4" cy="845.8" rx="0.9" ry="0.6" class="k"/>
<ellipse cx="96" cy="848.4" rx="1.8" ry="1.3" class="b"/>
<path d="M94.2 848.4v1.6"/>
<ellipse cx="94.2" cy="852.6" rx="2.1" ry="1.5" class="b"/>
<path d="M92.1 852.6v1.6"/>
<ellipse cx="94.4" cy="852.8" rx="1" ry="0.8" class="k"/>
<ellipse cx="136.1" cy="805.7" rx="1.9" ry="1.3" class="b"/>
<path d="M134.2 805.7v1.6"/>
<ellipse cx="134.5" cy="808.7" rx="2.2" ry="1.6" class="b"/>
<path d="M132.3 808.7v1.6"/>
<ellipse cx="130.7" cy="811.8" rx="1.9" ry="1.4" class="b"/>
<path d="M128.8 811.8v1.6"/>
<ellipse cx="128.7" cy="815.4" rx="2" ry="1.4" class="b"/>
<path d="M126.7 815.4v1.6"/>
<ellipse cx="128.9" cy="815.6" rx="1" ry="0.7" class="k"/>
<ellipse cx="126.9" cy="818" rx="2.2" ry="1.6" class="b"/>
<path d="M124.7 818v1.6"/>
<ellipse cx="127.1" cy="818.2" rx="1.1" ry="0.8" class="k"/>
<ellipse cx="123.2" cy="821.3" rx="2.1" ry="1.5" class="b"/>
<path d="M121 821.3v1.6"/>
<ellipse cx="120.7" cy="824.9" rx="1.9" ry="1.4" class="b"/>
<path d="M118.7 824.9v1.6"/>
<ellipse cx="118.4" cy="828.2" rx="1.8" ry="1.3" class="b"/>
<path d="M116.6 828.2v1.6"/>
<ellipse cx="116" cy="832" rx="1.8" ry="1.3" class="b"/>
<path d="M114.2 832v1.6"/>
<ellipse cx="116.2" cy="832.2" rx="0.9" ry="0.6" class="k"/>
<ellipse cx="114.2" cy="834.7" rx="1.7" ry="1.2" class="b"/>
<path d="M112.5 834.7v1.6"/>
<ellipse cx="110.8" cy="838.3" rx="2.1" ry="1.5" class="b"/>
<path d="M108.7 838.3v1.6"/>
<ellipse cx="109.1" cy="841" rx="1.9" ry="1.4" class="b"/>
<path d="M107.2 841v1.6"/>
<ellipse cx="106.9" cy="843.9" rx="2.2" ry="1.6" class="b"/>
<path d="M104.7 843.9v1.6"/>
<ellipse cx="107.1" cy="844.1" rx="1.1" ry="0.8" class="k"/>
<ellipse cx="103.5" cy="847.4" rx="2.2" ry="1.6" class="b"/>
<path d="M101.2 847.4v1.6"/>
<ellipse cx="101.2" cy="851.4" rx="1.8" ry="1.3" class="b"/>
<path d="M99.4 851.4v1.6"/>
<ellipse cx="98.9" cy="854.5" rx="2.1" ry="1.5" class="b"/>
<path d="M96.8 854.5v1.6"/>
<ellipse cx="96.2" cy="857.2" rx="1.7" ry="1.2" class="b"/>
<path d="M94.5 857.2v1.6"/>
<ellipse cx="94.1" cy="861" rx="1.7" ry="1.2" class="b"/>
<path d="M92.4 861v1.6"/>
<ellipse cx="140.9" cy="807.6" rx="2.1" ry="1.5" class="b"/>
<path d="M138.8 807.6v1.6"/>
<ellipse cx="138.9" cy="811.3" rx="1.6" ry="1.2" class="b"/>
<path d="M137.2 811.3v1.6"/>
<ellipse cx="135.9" cy="814.3" rx="2.3" ry="1.6" class="b"/>
<path d="M133.6 814.3v1.6"/>
<ellipse cx="133.3" cy="817.3" rx="2" ry="1.4" class="b"/>
<path d="M131.3 817.3v1.6"/>
<ellipse cx="131.4" cy="820.6" rx="2.2" ry="1.6" class="b"/>
<path d="M129.2 820.6v1.6"/>
<ellipse cx="128.8" cy="824.2" rx="1.7" ry="1.3" class="b"/>
<path d="M127 824.2v1.6"/>
<ellipse cx="126.2" cy="827.3" rx="1.7" ry="1.2" class="b"/>
<path d="M124.5 827.3v1.6"/>
<ellipse cx="123.7" cy="829.7" rx="1.8" ry="1.3" class="b"/>
<path d="M121.9 829.7v1.6"/>
<ellipse cx="120.7" cy="833.3" rx="1.9" ry="1.4" class="b"/>
<path d="M118.8 833.3v1.6"/>
<ellipse cx="118.7" cy="836.4" rx="1.8" ry="1.3" class="b"/>
<path d="M116.9 836.4v1.6"/>
<ellipse cx="117" cy="840" rx="1.8" ry="1.3" class="b"/>
<path d="M115.2 840v1.6"/>
<ellipse cx="113.7" cy="842.8" rx="1.7" ry="1.2" class="b"/>
<path d="M112 842.8v1.6"/>
<ellipse cx="111.8" cy="846.6" rx="1.9" ry="1.4" class="b"/>
<path d="M109.9 846.6v1.6"/>
<ellipse cx="108.5" cy="850.3" rx="1.8" ry="1.3" class="b"/>
<path d="M106.6 850.3v1.6"/>
<ellipse cx="106.8" cy="853.3" rx="1.9" ry="1.4" class="b"/>
<path d="M104.9 853.3v1.6"/>
<ellipse cx="107" cy="853.5" rx="1" ry="0.7" class="k"/>
<ellipse cx="103.9" cy="855.7" rx="2.2" ry="1.6" class="b"/>
<path d="M101.8 855.7v1.6"/>
<ellipse cx="101.9" cy="859.2" rx="1.9" ry="1.3" class="b"/>
<path d="M100 859.2v1.6"/>
<ellipse cx="102.1" cy="859.4" rx="0.9" ry="0.7" class="k"/>
<ellipse cx="98.8" cy="862.3" rx="1.6" ry="1.2" class="b"/>
<path d="M97.2 862.3v1.6"/>
<ellipse cx="96.1" cy="865.6" rx="1.8" ry="1.3" class="b"/>
<path d="M94.3 865.6v1.6"/>
<ellipse cx="93.8" cy="869.4" rx="2.1" ry="1.5" class="b"/>
<path d="M91.7 869.4v1.6"/>
<ellipse cx="148.9" cy="806.2" rx="2.2" ry="1.6" class="b"/>
<path d="M146.7 806.2v1.6"/>
<ellipse cx="149.1" cy="806.4" rx="1.1" ry="0.8" class="k"/>
<ellipse cx="146.7" cy="809.6" rx="1.8" ry="1.3" class="b"/>
<path d="M144.8 809.6v1.6"/>
<ellipse cx="143.7" cy="812.7" rx="2" ry="1.4" class="b"/>
<path d="M141.7 812.7v1.6"/>
<ellipse cx="141" cy="815.9" rx="1.9" ry="1.4" class="b"/>
<path d="M139.1 815.9v1.6"/>
<ellipse cx="139.3" cy="818.9" rx="2.2" ry="1.6" class="b"/>
<path d="M137.2 818.9v1.6"/>
<ellipse cx="136.4" cy="822.2" rx="2" ry="1.4" class="b"/>
<path d="M134.4 822.2v1.6"/>
<ellipse cx="134.1" cy="826" rx="1.8" ry="1.3" class="b"/>
<path d="M132.3 826v1.6"/>
<ellipse cx="131.1" cy="829" rx="2" ry="1.5" class="b"/>
<path d="M129.1 829v1.6"/>
<ellipse cx="128.2" cy="832.5" rx="2.2" ry="1.6" class="b"/>
<path d="M126 832.5v1.6"/>
<ellipse cx="125.7" cy="835.2" rx="1.6" ry="1.2" class="b"/>
<path d="M124.1 835.2v1.6"/>
<ellipse cx="125.9" cy="835.4" rx="0.8" ry="0.6" class="k"/>
<ellipse cx="124.5" cy="838.8" rx="2.1" ry="1.5" class="b"/>
<path d="M122.4 838.8v1.6"/>
<ellipse cx="122" cy="842.1" rx="2" ry="1.5" class="b"/>
<path d="M119.9 842.1v1.6"/>
<ellipse cx="119.2" cy="845.3" rx="2.1" ry="1.5" class="b"/>
<path d="M117.1 845.3v1.6"/>
<ellipse cx="119.4" cy="845.5" rx="1" ry="0.7" class="k"/>
<ellipse cx="116.6" cy="848.4" rx="2.1" ry="1.5" class="b"/>
<path d="M114.5 848.4v1.6"/>
<ellipse cx="116.8" cy="848.6" rx="1.1" ry="0.8" class="k"/>
<ellipse cx="113.4" cy="851.1" rx="2.1" ry="1.5" class="b"/>
<path d="M111.3 851.1v1.6"/>
<ellipse cx="111.6" cy="854.8" rx="2.2" ry="1.6" class="b"/>
<path d="M109.4 854.8v1.6"/>
<ellipse cx="109" cy="857.9" rx="1.8" ry="1.3" class="b"/>
<path d="M107.2 857.9v1.6"/>
<ellipse cx="106.1" cy="861.4" rx="2" ry="1.5" class="b"/>
<path d="M104.1 861.4v1.6"/>
<ellipse cx="103.3" cy="864.8" rx="1.6" ry="1.2" class="b"/>
<path d="M101.6 864.8v1.6"/>
<ellipse cx="103.5" cy="865" rx="0.8" ry="0.6" class="k"/>
<ellipse cx="101.8" cy="868" rx="2.2" ry="1.6" class="b"/>
<path d="M99.6 868v1.6"/>
<ellipse cx="98.2" cy="871.1" rx="2" ry="1.5" class="b"/>
<path d="M96.2 871.1v1.6"/>
<ellipse cx="97.1" cy="874.4" rx="1.9" ry="1.4" class="b"/>
<path d="M95.2 874.4v1.6"/>
<ellipse cx="97.3" cy="874.6" rx="0.9" ry="0.7" class="k"/>
<ellipse cx="94.1" cy="877.3" rx="1.7" ry="1.2" class="b"/>
<path d="M92.4 877.3v1.6"/>
<ellipse cx="94.3" cy="877.5" rx="0.9" ry="0.6" class="k"/>
<ellipse cx="153.8" cy="808.7" rx="1.9" ry="1.3" class="b"/>
<path d="M151.9 808.7v1.6"/>
<ellipse cx="151.5" cy="811.9" rx="2.2" ry="1.6" class="b"/>
<path d="M149.4 811.9v1.6"/>
<ellipse cx="151.7" cy="812.1" rx="1.1" ry="0.8" class="k"/>
<ellipse cx="148.2" cy="814.4" rx="1.9" ry="1.4" class="b"/>
<path d="M146.3 814.4v1.6"/>
<ellipse cx="146.8" cy="818.4" rx="1.6" ry="1.2" class="b"/>
<path d="M145.2 818.4v1.6"/>
<ellipse cx="144.3" cy="821.6" rx="2" ry="1.4" class="b"/>
<path d="M142.3 821.6v1.6"/>
<ellipse cx="144.5" cy="821.8" rx="1" ry="0.7" class="k"/>
<ellipse cx="141.9" cy="824.8" rx="2.1" ry="1.5" class="b"/>
<path d="M139.8 824.8v1.6"/>
<ellipse cx="138.7" cy="827.2" rx="2" ry="1.4" class="b"/>
<path d="M136.7 827.2v1.6"/>
<ellipse cx="136" cy="831.2" rx="2.3" ry="1.6" class="b"/>
<path d="M133.7 831.2v1.6"/>
<ellipse cx="136.2" cy="831.4" rx="1.1" ry="0.8" class="k"/>
<ellipse cx="134" cy="834.4" rx="1.9" ry="1.4" class="b"/>
<path d="M132.1 834.4v1.6"/>
<ellipse cx="134.2" cy="834.6" rx="1" ry="0.7" class="k"/>
<ellipse cx="131" cy="837.7" rx="2.2" ry="1.6" class="b"/>
<path d="M128.9 837.7v1.6"/>
<ellipse cx="128.3" cy="841.1" rx="2.1" ry="1.5" class="b"/>
<path d="M126.2 841.1v1.6"/>
<ellipse cx="128.5" cy="841.3" rx="1.1" ry="0.8" class="k"/>
<ellipse cx="126.5" cy="844.4" rx="2.2" ry="1.6" class="b"/>
<path d="M124.3 844.4v1.6"/>
<ellipse cx="123.8" cy="847.3" rx="1.7" ry="1.2" class="b"/>
<path d="M122.1 847.3v1.6"/>
<ellipse cx="124" cy="847.5" rx="0.9" ry="0.6" class="k"/>
<ellipse cx="120.9" cy="850.7" rx="1.9" ry="1.3" class="b"/>
<path d="M119.1 850.7v1.6"/>
<ellipse cx="118.7" cy="853.7" rx="1.7" ry="1.2" class="b"/>
<path d="M117 853.7v1.6"/>
<ellipse cx="118.9" cy="853.9" rx="0.9" ry="0.6" class="k"/>
<ellipse cx="117.1" cy="856.8" rx="1.7" ry="1.2" class="b"/>
<path d="M115.4 856.8v1.6"/>
<ellipse cx="114.3" cy="859.8" rx="2" ry="1.5" class="b"/>
<path d="M112.3 859.8v1.6"/>
<ellipse cx="111.4" cy="862.9" rx="1.6" ry="1.2" class="b"/>
<path d="M109.8 862.9v1.6"/>
<ellipse cx="109.4" cy="866.7" rx="2" ry="1.4" class="b"/>
<path d="M107.4 866.7v1.6"/>
<ellipse cx="109.6" cy="866.9" rx="1" ry="0.7" class="k"/>
<ellipse cx="106.8" cy="869.9" rx="2.3" ry="1.6" class="b"/>
<path d="M104.5 869.9v1.6"/>
<ellipse cx="104.3" cy="873.8" rx="1.8" ry="1.3" class="b"/>
<path d="M102.5 873.8v1.6"/>
<ellipse cx="104.5" cy="874" rx="0.9" ry="0.6" class="k"/>
<ellipse cx="101" cy="876.1" rx="1.7" ry="1.2" class="b"/>
<path d="M99.3 876.1v1.6"/>
<ellipse cx="101.2" cy="876.3" rx="0.8" ry="0.6" class="k"/>
<ellipse cx="99" cy="880.1" rx="1.9" ry="1.4" class="b"/>
<path d="M97 880.1v1.6"/>
<ellipse cx="97" cy="882.4" rx="2" ry="1.5" class="b"/>
<path d="M94.9 882.4v1.6"/>
<ellipse cx="93.3" cy="886.7" rx="1.8" ry="1.3" class="b"/>
<path d="M91.6 886.7v1.6"/>
<ellipse cx="161.6" cy="806.5" rx="1.8" ry="1.3" class="b"/>
<path d="M159.8 806.5v1.6"/>
<ellipse cx="161.8" cy="806.7" rx="0.9" ry="0.6" class="k"/>
<ellipse cx="159.2" cy="810.3" rx="1.7" ry="1.2" class="b"/>
<path d="M157.5 810.3v1.6"/>
<ellipse cx="156.1" cy="813.3" rx="1.7" ry="1.2" class="b"/>
<path d="M154.3 813.3v1.6"/>
<ellipse cx="156.3" cy="813.5" rx="0.9" ry="0.6" class="k"/>
<ellipse cx="154.4" cy="816.5" rx="1.7" ry="1.2" class="b"/>
<path d="M152.6 816.5v1.6"/>
<ellipse cx="151.1" cy="820.4" rx="1.7" ry="1.2" class="b"/>
<path d="M149.4 820.4v1.6"/>
<ellipse cx="148.3" cy="823.7" rx="2.1" ry="1.5" class="b"/>
<path d="M146.2 823.7v1.6"/>
<ellipse cx="148.5" cy="823.9" rx="1" ry="0.7" class="k"/>
<ellipse cx="146.3" cy="826.2" rx="1.8" ry="1.3" class="b"/>
<path d="M144.6 826.2v1.6"/>
<ellipse cx="146.5" cy="826.4" rx="0.9" ry="0.6" class="k"/>
<ellipse cx="143.7" cy="830.3" rx="2.3" ry="1.7" class="b"/>
<path d="M141.4 830.3v1.6"/>
<ellipse cx="140.8" cy="832.7" rx="2.2" ry="1.6" class="b"/>
<path d="M138.6 832.7v1.6"/>
<ellipse cx="141" cy="832.9" rx="1.1" ry="0.8" class="k"/>
<ellipse cx="139.2" cy="835.9" rx="2.3" ry="1.6" class="b"/>
<path d="M136.9 835.9v1.6"/>
<ellipse cx="139.4" cy="836.1" rx="1.1" ry="0.8" class="k"/>
<ellipse cx="136.8" cy="839.3" rx="1.7" ry="1.2" class="b"/>
<path d="M135.1 839.3v1.6"/>
<ellipse cx="137" cy="839.5" rx="0.8" ry="0.6" class="k"/>
<ellipse cx="134.3" cy="842.7" rx="1.7" ry="1.2" class="b"/>
<path d="M132.6 842.7v1.6"/>
<ellipse cx="132" cy="845.6" rx="2" ry="1.4" class="b"/>
<path d="M130 845.6v1.6"/>
<ellipse cx="132.2" cy="845.8" rx="1" ry="0.7" class="k"/>
<ellipse cx="128.4" cy="849.5" rx="2.1" ry="1.5" class="b"/>
<path d="M126.3 849.5v1.6"/>
<ellipse cx="128.6" cy="849.7" rx="1" ry="0.8" class="k"/>
<ellipse cx="125.8" cy="851.9" rx="2" ry="1.5" class="b"/>
<path d="M123.8 851.9v1.6"/>
<ellipse cx="123.6" cy="855.3" rx="2" ry="1.5" class="b"/>
<path d="M121.5 855.3v1.6"/>
<ellipse cx="121.8" cy="859" rx="1.7" ry="1.3" class="b"/>
<path d="M120.1 859v1.6"/>
<ellipse cx="122" cy="859.2" rx="0.9" ry="0.6" class="k"/>
<ellipse cx="119.2" cy="862.1" rx="2.1" ry="1.5" class="b"/>
<path d="M117.1 862.1v1.6"/>
<ellipse cx="119.4" cy="862.3" rx="1.1" ry="0.8" class="k"/>
<ellipse cx="116.8" cy="865.2" rx="2.2" ry="1.6" class="b"/>
<path d="M114.6 865.2v1.6"/>
<ellipse cx="113.9" cy="868.1" rx="2.2" ry="1.6" class="b"/>
<path d="M111.6 868.1v1.6"/>
<ellipse cx="111.9" cy="871.7" rx="1.7" ry="1.2" class="b"/>
<path d="M110.2 871.7v1.6"/>
<ellipse cx="108.7" cy="874.8" rx="1.9" ry="1.3" class="b"/>
<path d="M106.8 874.8v1.6"/>
<ellipse cx="105.7" cy="878.5" rx="1.9" ry="1.4" class="b"/>
<path d="M103.8 878.5v1.6"/>
<ellipse cx="103.3" cy="882" rx="2.2" ry="1.6" class="b"/>
<path d="M101.2 882v1.6"/>
<ellipse cx="101.1" cy="885.2" rx="1.9" ry="1.3" class="b"/>
<path d="M99.3 885.2v1.6"/>
<ellipse cx="169.3" cy="806.1" rx="1.6" ry="1.2" class="b"/>
<path d="M167.7 806.1v1.6"/>
<ellipse cx="167" cy="809.5" rx="1.8" ry="1.3" class="b"/>
<path d="M165.2 809.5v1.6"/>
<ellipse cx="164.1" cy="812" rx="2" ry="1.4" class="b"/>
<path d="M162.1 812v1.6"/>
<ellipse cx="164.3" cy="812.2" rx="1" ry="0.7" class="k"/>
<ellipse cx="161.3" cy="815.5" rx="1.6" ry="1.2" class="b"/>
<path d="M159.7 815.5v1.6"/>
<ellipse cx="161.5" cy="815.7" rx="0.8" ry="0.6" class="k"/>
<ellipse cx="159.5" cy="819" rx="2.3" ry="1.6" class="b"/>
<path d="M157.3 819v1.6"/>
<ellipse cx="156.8" cy="822.4" rx="2.2" ry="1.6" class="b"/>
<path d="M154.6 822.4v1.6"/>
<ellipse cx="157" cy="822.6" rx="1.1" ry="0.8" class="k"/>
<ellipse cx="154.1" cy="824.9" rx="2.1" ry="1.5" class="b"/>
<path d="M152 824.9v1.6"/>
<ellipse cx="154.3" cy="825.1" rx="1" ry="0.7" class="k"/>
<ellipse cx="151.4" cy="829" rx="2" ry="1.5" class="b"/>
<path d="M149.4 829v1.6"/>
<ellipse cx="151.6" cy="829.2" rx="1" ry="0.7" class="k"/>
<ellipse cx="148.9" cy="831.6" rx="2.3" ry="1.6" class="b"/>
<path d="M146.6 831.6v1.6"/>
<ellipse cx="149.1" cy="831.8" rx="1.1" ry="0.8" class="k"/>
<ellipse cx="146.1" cy="835.1" rx="1.7" ry="1.2" class="b"/>
<path d="M144.4 835.1v1.6"/>
<ellipse cx="144.5" cy="838.2" rx="1.8" ry="1.3" class="b"/>
<path d="M142.7 838.2v1.6"/>
<ellipse cx="141.4" cy="841" rx="1.7" ry="1.2" class="b"/>
<path d="M139.7 841v1.6"/>
<ellipse cx="141.6" cy="841.2" rx="0.8" ry="0.6" class="k"/>
<ellipse cx="138.6" cy="844.6" rx="1.8" ry="1.3" class="b"/>
<path d="M136.8 844.6v1.6"/>
<ellipse cx="138.8" cy="844.8" rx="0.9" ry="0.6" class="k"/>
<ellipse cx="135.8" cy="848" rx="2.2" ry="1.6" class="b"/>
<path d="M133.6 848v1.6"/>
<ellipse cx="134" cy="851.4" rx="1.7" ry="1.3" class="b"/>
<path d="M132.2 851.4v1.6"/>
<ellipse cx="131.3" cy="854.5" rx="2" ry="1.5" class="b"/>
<path d="M129.3 854.5v1.6"/>
<ellipse cx="128.6" cy="857.4" rx="1.8" ry="1.3" class="b"/>
<path d="M126.9 857.4v1.6"/>
<ellipse cx="126.2" cy="861" rx="1.6" ry="1.2" class="b"/>
<path d="M124.6 861v1.6"/>
<ellipse cx="124.4" cy="863.9" rx="2" ry="1.4" class="b"/>
<path d="M122.4 863.9v1.6"/>
<ellipse cx="121.1" cy="868" rx="1.8" ry="1.3" class="b"/>
<path d="M119.3 868v1.6"/>
<ellipse cx="118.4" cy="870.2" rx="2.2" ry="1.6" class="b"/>
<path d="M116.2 870.2v1.6"/>
<ellipse cx="115.8" cy="873.8" rx="1.9" ry="1.4" class="b"/>
<path d="M113.9 873.8v1.6"/>
<ellipse cx="113.3" cy="876.9" rx="2.3" ry="1.6" class="b"/>
<path d="M111.1 876.9v1.6"/>
<ellipse cx="110.9" cy="880.2" rx="1.8" ry="1.3" class="b"/>
<path d="M109 880.2v1.6"/>
<ellipse cx="109" cy="884.1" rx="2.2" ry="1.6" class="b"/>
<path d="M106.9 884.1v1.6"/>
<ellipse cx="106.7" cy="887.2" rx="2.1" ry="1.5" class="b"/>
<path d="M104.6 887.2v1.6"/>
<ellipse cx="173.7" cy="808.2" rx="2.1" ry="1.5" class="b"/>
<path d="M171.6 808.2v1.6"/>
<ellipse cx="170.8" cy="810.8" rx="1.9" ry="1.4" class="b"/>
<path d="M168.9 810.8v1.6"/>
<ellipse cx="169" cy="814.7" rx="2.3" ry="1.6" class="b"/>
<path d="M166.7 814.7v1.6"/>
<ellipse cx="166.3" cy="817.6" rx="2.3" ry="1.7" class="b"/>
<path d="M164 817.6v1.6"/>
<ellipse cx="163.9" cy="821.1" rx="1.7" ry="1.2" class="b"/>
<path d="M162.2 821.1v1.6"/>
<ellipse cx="162" cy="824.3" rx="2" ry="1.4" class="b"/>
<path d="M160.1 824.3v1.6"/>
<ellipse cx="162.2" cy="824.5" rx="1" ry="0.7" class="k"/>
<ellipse cx="159.4" cy="827.4" rx="2.2" ry="1.6" class="b"/>
<path d="M157.3 827.4v1.6"/>
<ellipse cx="156.9" cy="830.4" rx="1.7" ry="1.2" class="b"/>
<path d="M155.2 830.4v1.6"/>
<ellipse cx="157.1" cy="830.6" rx="0.9" ry="0.6" class="k"/>
<ellipse cx="153.9" cy="833.7" rx="1.7" ry="1.2" class="b"/>
<path d="M152.2 833.7v1.6"/>
<ellipse cx="154.1" cy="833.9" rx="0.9" ry="0.6" class="k"/>
<ellipse cx="151.6" cy="837.1" rx="1.8" ry="1.3" class="b"/>
<path d="M149.7 837.1v1.6"/>
<ellipse cx="149.1" cy="839.6" rx="1.9" ry="1.4" class="b"/>
<path d="M147.2 839.6v1.6"/>
<ellipse cx="146.1" cy="843.7" rx="1.6" ry="1.2" class="b"/>
<path d="M144.5 843.7v1.6"/>
<ellipse cx="144.4" cy="846.8" rx="2.1" ry="1.5" class="b"/>
<path d="M142.3 846.8v1.6"/>
<ellipse cx="144.6" cy="847" rx="1" ry="0.7" class="k"/>
<ellipse cx="141.4" cy="850" rx="1.8" ry="1.3" class="b"/>
<path d="M139.6 850v1.6"/>
<ellipse cx="138.9" cy="853.8" rx="2" ry="1.4" class="b"/>
<path d="M136.9 853.8v1.6"/>
<ellipse cx="135.8" cy="856" rx="2.1" ry="1.5" class="b"/>
<path d="M133.7 856v1.6"/>
<ellipse cx="136" cy="856.2" rx="1.1" ry="0.8" class="k"/>
<ellipse cx="133.3" cy="859.3" rx="2" ry="1.4" class="b"/>
<path d="M131.4 859.3v1.6"/>
<ellipse cx="131.5" cy="863.3" rx="1.6" ry="1.2" class="b"/>
<path d="M129.9 863.3v1.6"/>
<ellipse cx="131.7" cy="863.5" rx="0.8" ry="0.6" class="k"/>
<ellipse cx="129.3" cy="866" rx="2.1" ry="1.5" class="b"/>
<path d="M127.2 866v1.6"/>
<ellipse cx="125.9" cy="869.2" rx="1.7" ry="1.2" class="b"/>
<path d="M124.2 869.2v1.6"/>
<ellipse cx="124" cy="872.5" rx="1.9" ry="1.4" class="b"/>
<path d="M122.1 872.5v1.6"/>
<ellipse cx="120.8" cy="876.4" rx="2" ry="1.4" class="b"/>
<path d="M118.7 876.4v1.6"/>
<ellipse cx="118.8" cy="879.3" rx="1.8" ry="1.3" class="b"/>
<path d="M117 879.3v1.6"/>
<ellipse cx="119" cy="879.5" rx="0.9" ry="0.6" class="k"/>
<ellipse cx="117" cy="882.9" rx="1.8" ry="1.3" class="b"/>
<path d="M115.2 882.9v1.6"/>
<ellipse cx="114.3" cy="885.5" rx="2" ry="1.5" class="b"/>
<path d="M112.3 885.5v1.6"/>
<ellipse cx="181.2" cy="806.1" rx="2" ry="1.5" class="b"/>
<path d="M179.2 806.1v1.6"/>
<ellipse cx="181.4" cy="806.3" rx="1" ry="0.7" class="k"/>
<ellipse cx="179.4" cy="809.2" rx="2" ry="1.4" class="b"/>
<path d="M177.4 809.2v1.6"/>
<ellipse cx="176.1" cy="813.3" rx="1.9" ry="1.3" class="b"/>
<path d="M174.2 813.3v1.6"/>
<ellipse cx="174" cy="816" rx="1.9" ry="1.3" class="b"/>
<path d="M172.1 816v1.6"/>
<ellipse cx="174.2" cy="816.2" rx="0.9" ry="0.7" class="k"/>
<ellipse cx="170.9" cy="819.9" rx="1.8" ry="1.3" class="b"/>
<path d="M169.1 819.9v1.6"/>
<ellipse cx="168.3" cy="822.8" rx="1.9" ry="1.3" class="b"/>
<path d="M166.5 822.8v1.6"/>
<ellipse cx="166.1" cy="825.4" rx="1.8" ry="1.3" class="b"/>
<path d="M164.3 825.4v1.6"/>
<ellipse cx="166.3" cy="825.6" rx="0.9" ry="0.7" class="k"/>
<ellipse cx="163.4" cy="829.5" rx="1.8" ry="1.3" class="b"/>
<path d="M161.6 829.5v1.6"/>
<ellipse cx="162" cy="832.8" rx="2.2" ry="1.6" class="b"/>
<path d="M159.7 832.8v1.6"/>
<ellipse cx="158.4" cy="835.4" rx="1.6" ry="1.2" class="b"/>
<path d="M156.7 835.4v1.6"/>
<ellipse cx="156.6" cy="838.8" rx="1.9" ry="1.4" class="b"/>
<path d="M154.7 838.8v1.6"/>
<ellipse cx="154.2" cy="841.9" rx="2.2" ry="1.6" class="b"/>
<path d="M152 841.9v1.6"/>
<ellipse cx="151.6" cy="845.1" rx="1.7" ry="1.2" class="b"/>
<path d="M149.9 845.1v1.6"/>
<ellipse cx="149.2" cy="849" rx="1.6" ry="1.2" class="b"/>
<path d="M147.6 849v1.6"/>
<ellipse cx="149.4" cy="849.2" rx="0.8" ry="0.6" class="k"/>
<ellipse cx="145.9" cy="851.6" rx="1.8" ry="1.3" class="b"/>
<path d="M144.1 851.6v1.6"/>
<ellipse cx="143.2" cy="855" rx="2" ry="1.5" class="b"/>
<path d="M141.2 855v1.6"/>
<ellipse cx="143.4" cy="855.2" rx="1" ry="0.7" class="k"/>
<ellipse cx="141.9" cy="858.5" rx="2.1" ry="1.5" class="b"/>
<path d="M139.8 858.5v1.6"/>
<ellipse cx="142.1" cy="858.7" rx="1.1" ry="0.8" class="k"/>
<ellipse cx="138.8" cy="861.9" rx="1.8" ry="1.3" class="b"/>
<path d="M136.9 861.9v1.6"/>
<ellipse cx="139" cy="862.1" rx="0.9" ry="0.7" class="k"/>
<ellipse cx="136.8" cy="865.3" rx="1.8" ry="1.3" class="b"/>
<path d="M135 865.3v1.6"/>
<ellipse cx="137" cy="865.5" rx="0.9" ry="0.6" class="k"/>
<ellipse cx="134.4" cy="868.3" rx="1.6" ry="1.2" class="b"/>
<path d="M132.7 868.3v1.6"/>
<ellipse cx="134.6" cy="868.5" rx="0.8" ry="0.6" class="k"/>
<ellipse cx="130.8" cy="871.8" rx="1.7" ry="1.3" class="b"/>
<path d="M129.1 871.8v1.6"/>
<ellipse cx="129.2" cy="874.2" rx="2.1" ry="1.5" class="b"/>
<path d="M127.1 874.2v1.6"/>
<ellipse cx="126.7" cy="878.3" rx="1.8" ry="1.3" class="b"/>
<path d="M124.9 878.3v1.6"/>
<ellipse cx="126.9" cy="878.5" rx="0.9" ry="0.6" class="k"/>
<ellipse cx="124.5" cy="881.1" rx="2.3" ry="1.6" class="b"/>
<path d="M122.3 881.1v1.6"/>
<ellipse cx="121.7" cy="884.8" rx="2" ry="1.5" class="b"/>
<path d="M119.7 884.8v1.6"/>
<ellipse cx="118.3" cy="887.9" rx="1.9" ry="1.4" class="b"/>
<path d="M116.4 887.9v1.6"/>
<ellipse cx="187.1" cy="808.7" rx="1.7" ry="1.2" class="b"/>
<path d="M185.4 808.7v1.6"/>
<ellipse cx="184.6" cy="811.8" rx="1.7" ry="1.2" class="b"/>
<path d="M182.9 811.8v1.6"/>
<ellipse cx="181.3" cy="814.6" rx="2" ry="1.4" class="b"/>
<path d="M179.3 814.6v1.6"/>
<ellipse cx="181.5" cy="814.8" rx="1" ry="0.7" class="k"/>
<ellipse cx="179.5" cy="818.4" rx="2" ry="1.5" class="b"/>
<path d="M177.4 818.4v1.6"/>
<ellipse cx="176.6" cy="821.1" rx="1.8" ry="1.3" class="b"/>
<path d="M174.8 821.1v1.6"/>
<ellipse cx="176.8" cy="821.3" rx="0.9" ry="0.6" class="k"/>
<ellipse cx="173.2" cy="825" rx="2.2" ry="1.6" class="b"/>
<path d="M171 825v1.6"/>
<ellipse cx="173.4" cy="825.2" rx="1.1" ry="0.8" class="k"/>
<ellipse cx="170.9" cy="828.1" rx="2.2" ry="1.6" class="b"/>
<path d="M168.7 828.1v1.6"/>
<ellipse cx="168.4" cy="831.5" rx="2.2" ry="1.6" class="b"/>
<path d="M166.2 831.5v1.6"/>
<ellipse cx="166.1" cy="834.1" rx="2.2" ry="1.6" class="b"/>
<path d="M164 834.1v1.6"/>
<ellipse cx="163.7" cy="837.8" rx="1.9" ry="1.3" class="b"/>
<path d="M161.8 837.8v1.6"/>
<ellipse cx="161" cy="840.4" rx="2" ry="1.4" class="b"/>
<path d="M159 840.4v1.6"/>
<ellipse cx="159.3" cy="844.4" rx="2.2" ry="1.6" class="b"/>
<path d="M157.1 844.4v1.6"/>
<ellipse cx="156.4" cy="847.4" rx="1.7" ry="1.2" class="b"/>
<path d="M154.7 847.4v1.6"/>
<ellipse cx="156.6" cy="847.6" rx="0.9" ry="0.6" class="k"/>
<ellipse cx="154" cy="850.2" rx="2.1" ry="1.5" class="b"/>
<path d="M151.9 850.2v1.6"/>
<ellipse cx="154.2" cy="850.4" rx="1" ry="0.7" class="k"/>
<ellipse cx="151.3" cy="854.5" rx="1.7" ry="1.2" class="b"/>
<path d="M149.6 854.5v1.6"/>
<ellipse cx="151.5" cy="854.7" rx="0.8" ry="0.6" class="k"/>
<ellipse cx="148.8" cy="856.8" rx="2.1" ry="1.5" class="b"/>
<path d="M146.7 856.8v1.6"/>
<ellipse cx="149" cy="857" rx="1.1" ry="0.8" class="k"/>
<ellipse cx="146.9" cy="860.9" rx="2.2" ry="1.5" class="b"/>
<path d="M144.7 860.9v1.6"/>
<ellipse cx="143.6" cy="863.9" rx="2" ry="1.4" class="b"/>
<path d="M141.6 863.9v1.6"/>
<ellipse cx="141.2" cy="866.9" rx="2.1" ry="1.5" class="b"/>
<path d="M139.1 866.9v1.6"/>
<ellipse cx="139.4" cy="869.8" rx="1.8" ry="1.3" class="b"/>
<path d="M137.6 869.8v1.6"/>
<ellipse cx="136.5" cy="873.3" rx="1.7" ry="1.3" class="b"/>
<path d="M134.7 873.3v1.6"/>
<ellipse cx="136.7" cy="873.5" rx="0.9" ry="0.6" class="k"/>
<ellipse cx="133.6" cy="876.6" rx="2.3" ry="1.6" class="b"/>
<path d="M131.4 876.6v1.6"/>
<ellipse cx="131.9" cy="880.5" rx="2.3" ry="1.6" class="b"/>
<path d="M129.6 880.5v1.6"/>
<ellipse cx="129.3" cy="882.7" rx="2.1" ry="1.5" class="b"/>
<path d="M127.2 882.7v1.6"/>
<ellipse cx="126.1" cy="886.5" rx="2.3" ry="1.6" class="b"/>
<path d="M123.8 886.5v1.6"/>
<ellipse cx="193.2" cy="807.3" rx="1.7" ry="1.3" class="b"/>
<path d="M191.5 807.3v1.6"/>
<ellipse cx="193.4" cy="807.5" rx="0.9" ry="0.6" class="k"/>
<ellipse cx="191.7" cy="810.4" rx="2.2" ry="1.6" class="b"/>
<path d="M189.4 810.4v1.6"/>
<ellipse cx="189.4" cy="813.8" rx="2.2" ry="1.6" class="b"/>
<path d="M187.2 813.8v1.6"/>
<ellipse cx="185.9" cy="817.2" rx="1.8" ry="1.3" class="b"/>
<path d="M184.1 817.2v1.6"/>
<ellipse cx="184.1" cy="820.6" rx="1.7" ry="1.2" class="b"/>
<path d="M182.4 820.6v1.6"/>
<ellipse cx="181.7" cy="824" rx="2.1" ry="1.5" class="b"/>
<path d="M179.6 824v1.6"/>
<ellipse cx="181.9" cy="824.2" rx="1.1" ry="0.8" class="k"/>
<ellipse cx="179" cy="826.2" rx="2" ry="1.4" class="b"/>
<path d="M177 826.2v1.6"/>
<ellipse cx="175.8" cy="830.5" rx="2.1" ry="1.5" class="b"/>
<path d="M173.8 830.5v1.6"/>
<ellipse cx="176" cy="830.7" rx="1" ry="0.7" class="k"/>
<ellipse cx="173.4" cy="833.1" rx="2.2" ry="1.6" class="b"/>
<path d="M171.3 833.1v1.6"/>
<ellipse cx="170.8" cy="835.9" rx="1.7" ry="1.2" class="b"/>
<path d="M169.2 835.9v1.6"/>
<ellipse cx="168.4" cy="839.8" rx="1.8" ry="1.3" class="b"/>
<path d="M166.6 839.8v1.6"/>
<ellipse cx="166.2" cy="842.5" rx="2.2" ry="1.6" class="b"/>
<path d="M164 842.5v1.6"/>
<ellipse cx="164.1" cy="846.6" rx="2.3" ry="1.6" class="b"/>
<path d="M161.9 846.6v1.6"/>
<ellipse cx="164.3" cy="846.8" rx="1.1" ry="0.8" class="k"/>
<ellipse cx="161.2" cy="849" rx="2" ry="1.4" class="b"/>
<path d="M159.2 849v1.6"/>
<ellipse cx="159.3" cy="852.1" rx="1.7" ry="1.2" class="b"/>
<path d="M157.6 852.1v1.6"/>
<ellipse cx="156.6" cy="855.8" rx="1.9" ry="1.4" class="b"/>
<path d="M154.7 855.8v1.6"/>
<ellipse cx="156.8" cy="856" rx="1" ry="0.7" class="k"/>
<ellipse cx="154.4" cy="859.1" rx="2.2" ry="1.6" class="b"/>
<path d="M152.2 859.1v1.6"/>
<ellipse cx="150.8" cy="862.2" rx="1.8" ry="1.3" class="b"/>
<path d="M149 862.2v1.6"/>
<ellipse cx="149" cy="865.1" rx="1.7" ry="1.2" class="b"/>
<path d="M147.3 865.1v1.6"/>
<ellipse cx="146.3" cy="869" rx="1.9" ry="1.3" class="b"/>
<path d="M144.5 869v1.6"/>
<ellipse cx="143.2" cy="872.3" rx="1.8" ry="1.3" class="b"/>
<path d="M141.4 872.3v1.6"/>
<ellipse cx="143.4" cy="872.5" rx="0.9" ry="0.7" class="k"/>
<ellipse cx="141.3" cy="876" rx="1.6" ry="1.2" class="b"/>
<path d="M139.7 876v1.6"/>
<ellipse cx="141.5" cy="876.2" rx="0.8" ry="0.6" class="k"/>
<ellipse cx="139.1" cy="878.4" rx="1.8" ry="1.3" class="b"/>
<path d="M137.3 878.4v1.6"/>
<ellipse cx="136" cy="882" rx="2" ry="1.4" class="b"/>
<path d="M134.1 882v1.6"/>
<ellipse cx="134.6" cy="884.6" rx="2" ry="1.4" class="b"/>
<path d="M132.6 884.6v1.6"/>
<ellipse cx="201" cy="805.4" rx="1.7" ry="1.2" class="b"/>
<path d="M199.3 805.4v1.6"/>
<ellipse cx="201.2" cy="805.6" rx="0.9" ry="0.6" class="k"/>
<ellipse cx="199.2" cy="808.9" rx="1.9" ry="1.4" class="b"/>
<path d="M197.3 808.9v1.6"/>
<ellipse cx="199.4" cy="809.1" rx="0.9" ry="0.7" class="k"/>
<ellipse cx="196.5" cy="812.9" rx="2.1" ry="1.5" class="b"/>
<path d="M194.5 812.9v1.6"/>
<ellipse cx="196.7" cy="813.1" rx="1" ry="0.7" class="k"/>
<ellipse cx="194.2" cy="816.3" rx="2" ry="1.5" class="b"/>
<path d="M192.2 816.3v1.6"/>
<ellipse cx="194.4" cy="816.5" rx="1" ry="0.7" class="k"/>
<ellipse cx="191.8" cy="819.4" rx="1.8" ry="1.3" class="b"/>
<path d="M190 819.4v1.6"/>
<ellipse cx="192" cy="819.6" rx="0.9" ry="0.7" class="k"/>
<ellipse cx="188.4" cy="822.2" rx="2.2" ry="1.6" class="b"/>
<path d="M186.2 822.2v1.6"/>
<ellipse cx="187" cy="825.1" rx="1.8" ry="1.3" class="b"/>
<path d="M185.1 825.1v1.6"/>
<ellipse cx="184.1" cy="828.6" rx="2.1" ry="1.5" class="b"/>
<path d="M182 828.6v1.6"/>
<ellipse cx="180.8" cy="831.8" rx="1.6" ry="1.2" class="b"/>
<path d="M179.1 831.8v1.6"/>
<ellipse cx="178.6" cy="835.2" rx="2" ry="1.5" class="b"/>
<path d="M176.6 835.2v1.6"/>
<ellipse cx="178.8" cy="835.4" rx="1" ry="0.7" class="k"/>
<ellipse cx="176.3" cy="837.9" rx="2.2" ry="1.6" class="b"/>
<path d="M174.1 837.9v1.6"/>
<ellipse cx="174.6" cy="841.2" rx="2" ry="1.5" class="b"/>
<path d="M172.5 841.2v1.6"/>
<ellipse cx="171.1" cy="844.5" rx="1.7" ry="1.2" class="b"/>
<path d="M169.4 844.5v1.6"/>
<ellipse cx="171.3" cy="844.7" rx="0.9" ry="0.6" class="k"/>
<ellipse cx="169.3" cy="847.7" rx="2.2" ry="1.6" class="b"/>
<path d="M167.1 847.7v1.6"/>
<ellipse cx="166.4" cy="851.6" rx="2" ry="1.4" class="b"/>
<path d="M164.4 851.6v1.6"/>
<ellipse cx="164" cy="854.5" rx="2.1" ry="1.5" class="b"/>
<path d="M161.9 854.5v1.6"/>
<ellipse cx="164.2" cy="854.7" rx="1.1" ry="0.8" class="k"/>
<ellipse cx="161.7" cy="858.3" rx="2.1" ry="1.5" class="b"/>
<path d="M159.5 858.3v1.6"/>
<ellipse cx="159.3" cy="861.8" rx="1.9" ry="1.4" class="b"/>
<path d="M157.3 861.8v1.6"/>
<ellipse cx="159.5" cy="862" rx="1" ry="0.7" class="k"/>
<ellipse cx="156.4" cy="865" rx="1.7" ry="1.2" class="b"/>
<path d="M154.7 865v1.6"/>
<ellipse cx="156.6" cy="865.2" rx="0.8" ry="0.6" class="k"/>
<ellipse cx="153.8" cy="867.9" rx="2.1" ry="1.5" class="b"/>
<path d="M151.7 867.9v1.6"/>
<ellipse cx="152.1" cy="870.6" rx="2.1" ry="1.5" class="b"/>
<path d="M149.9 870.6v1.6"/>
<ellipse cx="152.3" cy="870.8" rx="1.1" ry="0.8" class="k"/>
<ellipse cx="148.2" cy="873.8" rx="1.6" ry="1.2" class="b"/>
<path d="M146.6 873.8v1.6"/>
<ellipse cx="146.5" cy="877.1" rx="2.3" ry="1.6" class="b"/>
<path d="M144.2 877.1v1.6"/>
<ellipse cx="143.4" cy="880.3" rx="2.1" ry="1.5" class="b"/>
<path d="M141.3 880.3v1.6"/>
<ellipse cx="140.9" cy="883.4" rx="2.1" ry="1.5" class="b"/>
<path d="M138.8 883.4v1.6"/>
<ellipse cx="141.1" cy="883.6" rx="1.1" ry="0.8" class="k"/>
<ellipse cx="139.6" cy="887.2" rx="2" ry="1.5" class="b"/>
<path d="M137.5 887.2v1.6"/>
<ellipse cx="208.3" cy="805.3" rx="1.6" ry="1.2" class="b"/>
<path d="M206.7 805.3v1.6"/>
<ellipse cx="205.9" cy="808.2" rx="1.7" ry="1.2" class="b"/>
<path d="M204.2 808.2v1.6"/>
<ellipse cx="206.1" cy="808.4" rx="0.8" ry="0.6" class="k"/>
<ellipse cx="204.1" cy="810.7" rx="1.8" ry="1.3" class="b"/>
<path d="M202.3 810.7v1.6"/>
<ellipse cx="201.7" cy="814.9" rx="2.3" ry="1.6" class="b"/>
<path d="M199.4 814.9v1.6"/>
<ellipse cx="201.9" cy="815.1" rx="1.1" ry="0.8" class="k"/>
<ellipse cx="198.5" cy="818" rx="2.1" ry="1.5" class="b"/>
<path d="M196.4 818v1.6"/>
<ellipse cx="198.7" cy="818.2" rx="1" ry="0.7" class="k"/>
<ellipse cx="196.4" cy="820.6" rx="1.9" ry="1.4" class="b"/>
<path d="M194.5 820.6v1.6"/>
<ellipse cx="196.6" cy="820.8" rx="1" ry="0.7" class="k"/>
<ellipse cx="193.2" cy="824.8" rx="1.8" ry="1.3" class="b"/>
<path d="M191.4 824.8v1.6"/>
<ellipse cx="190.8" cy="827.4" rx="1.7" ry="1.2" class="b"/>
<path d="M189.2 827.4v1.6"/>
<ellipse cx="188.4" cy="830.9" rx="1.7" ry="1.2" class="b"/>
<path d="M186.7 830.9v1.6"/>
<ellipse cx="186.4" cy="833.5" rx="1.8" ry="1.3" class="b"/>
<path d="M184.5 833.5v1.6"/>
<ellipse cx="184.5" cy="837" rx="1.8" ry="1.3" class="b"/>
<path d="M182.7 837v1.6"/>
<ellipse cx="181.9" cy="840.7" rx="1.8" ry="1.3" class="b"/>
<path d="M180.1 840.7v1.6"/>
<ellipse cx="182.1" cy="840.9" rx="0.9" ry="0.6" class="k"/>
<ellipse cx="178.5" cy="843.2" rx="1.6" ry="1.2" class="b"/>
<path d="M176.9 843.2v1.6"/>
<ellipse cx="176.2" cy="847" rx="1.9" ry="1.3" class="b"/>
<path d="M174.4 847v1.6"/>
<ellipse cx="176.4" cy="847.2" rx="0.9" ry="0.7" class="k"/>
<ellipse cx="174.1" cy="850.4" rx="2" ry="1.4" class="b"/>
<path d="M172.2 850.4v1.6"/>
<ellipse cx="171.6" cy="854" rx="2.2" ry="1.6" class="b"/>
<path d="M169.4 854v1.6"/>
<ellipse cx="168.7" cy="856.5" rx="1.9" ry="1.4" class="b"/>
<path d="M166.8 856.5v1.6"/>
<ellipse cx="166.2" cy="859.8" rx="1.9" ry="1.4" class="b"/>
<path d="M164.3 859.8v1.6"/>
<ellipse cx="166.4" cy="860" rx="0.9" ry="0.7" class="k"/>
<ellipse cx="164.6" cy="862.6" rx="2" ry="1.5" class="b"/>
<path d="M162.6 862.6v1.6"/>
<ellipse cx="161" cy="866.6" rx="1.9" ry="1.3" class="b"/>
<path d="M159.2 866.6v1.6"/>
<ellipse cx="161.2" cy="866.8" rx="0.9" ry="0.7" class="k"/>
<ellipse cx="158.5" cy="869.2" rx="2.2" ry="1.6" class="b"/>
<path d="M156.3 869.2v1.6"/>
<ellipse cx="156.9" cy="872.4" rx="2.1" ry="1.5" class="b"/>
<path d="M154.9 872.4v1.6"/>
<ellipse cx="154.1" cy="876.3" rx="1.8" ry="1.3" class="b"/>
<path d="M152.3 876.3v1.6"/>
<ellipse cx="150.7" cy="879.7" rx="2.2" ry="1.6" class="b"/>
<path d="M148.5 879.7v1.6"/>
<ellipse cx="149" cy="883.3" rx="1.8" ry="1.3" class="b"/>
<path d="M147.2 883.3v1.6"/>
<ellipse cx="146.7" cy="885.8" rx="2.1" ry="1.5" class="b"/>
<path d="M144.6 885.8v1.6"/>
<ellipse cx="213.7" cy="806.1" rx="1.7" ry="1.3" class="b"/>
<path d="M212 806.1v1.6"/>
<ellipse cx="210.8" cy="809.6" rx="2.1" ry="1.5" class="b"/>
<path d="M208.7 809.6v1.6"/>
<ellipse cx="211" cy="809.8" rx="1.1" ry="0.8" class="k"/>
<ellipse cx="208.6" cy="812.9" rx="2.2" ry="1.6" class="b"/>
<path d="M206.4 812.9v1.6"/>
<ellipse cx="208.8" cy="813.1" rx="1.1" ry="0.8" class="k"/>
<ellipse cx="206.6" cy="816.9" rx="1.7" ry="1.3" class="b"/>
<path d="M204.8 816.9v1.6"/>
<ellipse cx="204.3" cy="819.8" rx="1.9" ry="1.3" class="b"/>
<path d="M202.4 819.8v1.6"/>
<ellipse cx="204.5" cy="820" rx="0.9" ry="0.7" class="k"/>
<ellipse cx="201.3" cy="822.8" rx="2.1" ry="1.5" class="b"/>
<path d="M199.2 822.8v1.6"/>
<ellipse cx="201.5" cy="823" rx="1" ry="0.8" class="k"/>
<ellipse cx="198.7" cy="826.4" rx="2.2" ry="1.6" class="b"/>
<path d="M196.6 826.4v1.6"/>
<ellipse cx="196.2" cy="829.5" rx="2.2" ry="1.6" class="b"/>
<path d="M194 829.5v1.6"/>
<ellipse cx="196.4" cy="829.7" rx="1.1" ry="0.8" class="k"/>
<ellipse cx="194.5" cy="832.9" rx="1.9" ry="1.3" class="b"/>
<path d="M192.7 832.9v1.6"/>
<ellipse cx="191.1" cy="835.4" rx="2.1" ry="1.5" class="b"/>
<path d="M189 835.4v1.6"/>
<ellipse cx="188.9" cy="839.2" rx="2.2" ry="1.6" class="b"/>
<path d="M186.7 839.2v1.6"/>
<ellipse cx="185.7" cy="842.6" rx="1.9" ry="1.4" class="b"/>
<path d="M183.8 842.6v1.6"/>
<ellipse cx="184.4" cy="845.6" rx="1.9" ry="1.4" class="b"/>
<path d="M182.4 845.6v1.6"/>
<ellipse cx="181.3" cy="848.9" rx="2" ry="1.4" class="b"/>
<path d="M179.3 848.9v1.6"/>
<ellipse cx="179.1" cy="852.5" rx="1.9" ry="1.4" class="b"/>
<path d="M177.2 852.5v1.6"/>
<ellipse cx="179.3" cy="852.7" rx="0.9" ry="0.7" class="k"/>
<ellipse cx="176.6" cy="855.5" rx="2.1" ry="1.5" class="b"/>
<path d="M174.5 855.5v1.6"/>
<ellipse cx="173.3" cy="858.4" rx="1.7" ry="1.2" class="b"/>
<path d="M171.7 858.4v1.6"/>
<ellipse cx="170.8" cy="861.5" rx="2.1" ry="1.5" class="b"/>
<path d="M168.7 861.5v1.6"/>
<ellipse cx="168.3" cy="865.4" rx="2.1" ry="1.5" class="b"/>
<path d="M166.2 865.4v1.6"/>
<ellipse cx="165.8" cy="868.7" rx="1.9" ry="1.4" class="b"/>
<path d="M163.9 868.7v1.6"/>
<ellipse cx="164.6" cy="872.1" rx="2.2" ry="1.6" class="b"/>
<path d="M162.4 872.1v1.6"/>
<ellipse cx="164.8" cy="872.3" rx="1.1" ry="0.8" class="k"/>
<ellipse cx="161.1" cy="875" rx="1.6" ry="1.2" class="b"/>
<path d="M159.5 875v1.6"/>
<ellipse cx="158.6" cy="877.9" rx="1.8" ry="1.3" class="b"/>
<path d="M156.7 877.9v1.6"/>
<ellipse cx="158.8" cy="878.1" rx="0.9" ry="0.7" class="k"/>
<ellipse cx="156.9" cy="881.5" rx="2" ry="1.4" class="b"/>
<path d="M154.9 881.5v1.6"/>
<ellipse cx="153.2" cy="884.5" rx="2.2" ry="1.6" class="b"/>
<path d="M151 884.5v1.6"/>
<ellipse cx="151.9" cy="887.7" rx="1.7" ry="1.3" class="b"/>
<path d="M150.1 887.7v1.6"/>
<ellipse cx="152.1" cy="887.9" rx="0.9" ry="0.6" class="k"/>
<ellipse cx="221.6" cy="805" rx="1.6" ry="1.2" class="b"/>
<path d="M220 805v1.6"/>
<ellipse cx="218.2" cy="809.1" rx="1.8" ry="1.3" class="b"/>
<path d="M216.4 809.1v1.6"/>
<ellipse cx="218.4" cy="809.3" rx="0.9" ry="0.6" class="k"/>
<ellipse cx="216.5" cy="811.7" rx="2" ry="1.4" class="b"/>
<path d="M214.5 811.7v1.6"/>
<ellipse cx="216.7" cy="811.9" rx="1" ry="0.7" class="k"/>
<ellipse cx="214.5" cy="815" rx="2.2" ry="1.6" class="b"/>
<path d="M212.3 815v1.6"/>
<ellipse cx="214.7" cy="815.2" rx="1.1" ry="0.8" class="k"/>
<ellipse cx="211.8" cy="819" rx="1.9" ry="1.3" class="b"/>
<path d="M209.9 819v1.6"/>
<ellipse cx="212" cy="819.2" rx="0.9" ry="0.7" class="k"/>
<ellipse cx="208.7" cy="821.9" rx="1.8" ry="1.3" class="b"/>
<path d="M207 821.9v1.6"/>
<ellipse cx="205.8" cy="824.9" rx="2.1" ry="1.5" class="b"/>
<path d="M203.7 824.9v1.6"/>
<ellipse cx="204.1" cy="827.7" rx="2.2" ry="1.6" class="b"/>
<path d="M201.9 827.7v1.6"/>
<ellipse cx="204.3" cy="827.9" rx="1.1" ry="0.8" class="k"/>
<ellipse cx="202" cy="832" rx="2.3" ry="1.6" class="b"/>
<path d="M199.7 832v1.6"/>
<ellipse cx="198.6" cy="834.5" rx="2.1" ry="1.5" class="b"/>
<path d="M196.5 834.5v1.6"/>
<ellipse cx="197" cy="837.5" rx="1.9" ry="1.4" class="b"/>
<path d="M195 837.5v1.6"/>
<ellipse cx="194" cy="841.2" rx="1.7" ry="1.2" class="b"/>
<path d="M192.4 841.2v1.6"/>
<ellipse cx="194.2" cy="841.4" rx="0.8" ry="0.6" class="k"/>
<ellipse cx="191.1" cy="844.9" rx="2.2" ry="1.6" class="b"/>
<path d="M188.9 844.9v1.6"/>
<ellipse cx="191.3" cy="845.1" rx="1.1" ry="0.8" class="k"/>
<ellipse cx="189.5" cy="847.1" rx="2" ry="1.5" class="b"/>
<path d="M187.5 847.1v1.6"/>
<ellipse cx="186.2" cy="851.5" rx="2.1" ry="1.5" class="b"/>
<path d="M184.1 851.5v1.6"/>
<ellipse cx="186.4" cy="851.7" rx="1" ry="0.7" class="k"/>
<ellipse cx="183.6" cy="854.1" rx="1.8" ry="1.3" class="b"/>
<path d="M181.9 854.1v1.6"/>
<ellipse cx="180.9" cy="857.8" rx="1.8" ry="1.3" class="b"/>
<path d="M179.1 857.8v1.6"/>
<ellipse cx="181.1" cy="858" rx="0.9" ry="0.7" class="k"/>
<ellipse cx="179" cy="860.2" rx="2" ry="1.4" class="b"/>
<path d="M177 860.2v1.6"/>
<ellipse cx="176.5" cy="863.9" rx="1.6" ry="1.2" class="b"/>
<path d="M174.9 863.9v1.6"/>
<ellipse cx="173.3" cy="867.4" rx="1.7" ry="1.2" class="b"/>
<path d="M171.6 867.4v1.6"/>
<ellipse cx="171.2" cy="870.3" rx="2.1" ry="1.5" class="b"/>
<path d="M169.1 870.3v1.6"/>
<ellipse cx="171.4" cy="870.5" rx="1" ry="0.7" class="k"/>
<ellipse cx="168.4" cy="874.2" rx="1.8" ry="1.3" class="b"/>
<path d="M166.6 874.2v1.6"/>
<ellipse cx="166.9" cy="876.9" rx="1.7" ry="1.2" class="b"/>
<path d="M165.2 876.9v1.6"/>
<ellipse cx="167.1" cy="877.1" rx="0.9" ry="0.6" class="k"/>
<ellipse cx="164.4" cy="879.7" rx="1.9" ry="1.4" class="b"/>
<path d="M162.5 879.7v1.6"/>
<ellipse cx="160.8" cy="883.4" rx="1.7" ry="1.2" class="b"/>
<path d="M159.1 883.4v1.6"/>
<ellipse cx="158.9" cy="886.5" rx="1.7" ry="1.3" class="b"/>
<path d="M157.1 886.5v1.6"/>
<ellipse cx="226.3" cy="807.4" rx="2.1" ry="1.5" class="b"/>
<path d="M224.2 807.4v1.6"/>
<ellipse cx="224.2" cy="810.9" rx="1.7" ry="1.3" class="b"/>
<path d="M222.5 810.9v1.6"/>
<ellipse cx="221.9" cy="814.3" rx="1.7" ry="1.2" class="b"/>
<path d="M220.2 814.3v1.6"/>
<ellipse cx="218.7" cy="816.8" rx="2.3" ry="1.6" class="b"/>
<path d="M216.4 816.8v1.6"/>
<ellipse cx="216.7" cy="820" rx="2.2" ry="1.6" class="b"/>
<path d="M214.5 820v1.6"/>
<ellipse cx="214.4" cy="824" rx="2.2" ry="1.6" class="b"/>
<path d="M212.3 824v1.6"/>
<ellipse cx="211.5" cy="826.9" rx="2.2" ry="1.6" class="b"/>
<path d="M209.3 826.9v1.6"/>
<ellipse cx="209.4" cy="830" rx="2.3" ry="1.6" class="b"/>
<path d="M207.1 830v1.6"/>
<ellipse cx="207" cy="833" rx="2.3" ry="1.6" class="b"/>
<path d="M204.7 833v1.6"/>
<ellipse cx="203.5" cy="837.1" rx="1.8" ry="1.3" class="b"/>
<path d="M201.8 837.1v1.6"/>
<ellipse cx="203.7" cy="837.3" rx="0.9" ry="0.6" class="k"/>
<ellipse cx="201.3" cy="839.6" rx="1.9" ry="1.4" class="b"/>
<path d="M199.4 839.6v1.6"/>
<ellipse cx="199.1" cy="843.4" rx="1.9" ry="1.3" class="b"/>
<path d="M197.3 843.4v1.6"/>
<ellipse cx="196.8" cy="846.7" rx="2.3" ry="1.6" class="b"/>
<path d="M194.5 846.7v1.6"/>
<ellipse cx="193.7" cy="849.2" rx="2.1" ry="1.5" class="b"/>
<path d="M191.7 849.2v1.6"/>
<ellipse cx="191.2" cy="853.1" rx="2.2" ry="1.6" class="b"/>
<path d="M189 853.1v1.6"/>
<ellipse cx="188.2" cy="856.2" rx="1.6" ry="1.2" class="b"/>
<path d="M186.6 856.2v1.6"/>
<ellipse cx="188.4" cy="856.4" rx="0.8" ry="0.6" class="k"/>
<ellipse cx="186.8" cy="859.3" rx="2" ry="1.5" class="b"/>
<path d="M184.8 859.3v1.6"/>
<ellipse cx="183.6" cy="862.4" rx="1.8" ry="1.3" class="b"/>
<path d="M181.8 862.4v1.6"/>
<ellipse cx="181.5" cy="865.7" rx="1.7" ry="1.2" class="b"/>
<path d="M179.9 865.7v1.6"/>
<ellipse cx="181.7" cy="865.9" rx="0.8" ry="0.6" class="k"/>
<ellipse cx="179.2" cy="869.1" rx="2.1" ry="1.5" class="b"/>
<path d="M177.1 869.1v1.6"/>
<ellipse cx="175.8" cy="872.7" rx="1.6" ry="1.2" class="b"/>
<path d="M174.2 872.7v1.6"/>
<ellipse cx="173.4" cy="875.4" rx="2.3" ry="1.6" class="b"/>
<path d="M171.2 875.4v1.6"/>
<ellipse cx="171" cy="879.4" rx="2" ry="1.5" class="b"/>
<path d="M169 879.4v1.6"/>
<ellipse cx="168.7" cy="882.2" rx="2.3" ry="1.6" class="b"/>
<path d="M166.5 882.2v1.6"/>
<ellipse cx="167.1" cy="885.1" rx="2.2" ry="1.6" class="b"/>
<path d="M164.9 885.1v1.6"/>
<ellipse cx="167.3" cy="885.3" rx="1.1" ry="0.8" class="k"/>
<ellipse cx="226.7" cy="816.2" rx="1.8" ry="1.3" class="b"/>
<path d="M224.9 816.2v1.6"/>
<ellipse cx="226.9" cy="816.4" rx="0.9" ry="0.6" class="k"/>
<ellipse cx="224" cy="819.6" rx="2.2" ry="1.6" class="b"/>
<path d="M221.8 819.6v1.6"/>
<ellipse cx="220.9" cy="822.5" rx="2.2" ry="1.6" class="b"/>
<path d="M218.7 822.5v1.6"/>
<ellipse cx="221.1" cy="822.7" rx="1.1" ry="0.8" class="k"/>
<ellipse cx="219.2" cy="825.3" rx="1.8" ry="1.3" class="b"/>
<path d="M217.4 825.3v1.6"/>
<ellipse cx="219.4" cy="825.5" rx="0.9" ry="0.7" class="k"/>
<ellipse cx="216.1" cy="828.8" rx="2.3" ry="1.6" class="b"/>
<path d="M213.8 828.8v1.6"/>
<ellipse cx="213.4" cy="832" rx="2.3" ry="1.6" class="b"/>
<path d="M211.2 832v1.6"/>
<ellipse cx="213.6" cy="832.2" rx="1.1" ry="0.8" class="k"/>
<ellipse cx="211.1" cy="835.4" rx="1.7" ry="1.2" class="b"/>
<path d="M209.5 835.4v1.6"/>
<ellipse cx="211.3" cy="835.6" rx="0.8" ry="0.6" class="k"/>
<ellipse cx="208.7" cy="838.6" rx="2.3" ry="1.6" class="b"/>
<path d="M206.5 838.6v1.6"/>
<ellipse cx="208.9" cy="838.8" rx="1.1" ry="0.8" class="k"/>
<ellipse cx="206" cy="842.4" rx="1.9" ry="1.4" class="b"/>
<path d="M204 842.4v1.6"/>
<ellipse cx="204.1" cy="845.5" rx="1.8" ry="1.3" class="b"/>
<path d="M202.2 845.5v1.6"/>
<ellipse cx="204.3" cy="845.7" rx="0.9" ry="0.7" class="k"/>
<ellipse cx="201.7" cy="848.4" rx="2" ry="1.4" class="b"/>
<path d="M199.7 848.4v1.6"/>
<ellipse cx="199.2" cy="851.4" rx="1.9" ry="1.3" class="b"/>
<path d="M197.4 851.4v1.6"/>
<ellipse cx="196.4" cy="854.7" rx="2" ry="1.5" class="b"/>
<path d="M194.4 854.7v1.6"/>
<ellipse cx="196.6" cy="854.9" rx="1" ry="0.7" class="k"/>
<ellipse cx="194.3" cy="857.6" rx="2.2" ry="1.6" class="b"/>
<path d="M192.1 857.6v1.6"/>
<ellipse cx="191.2" cy="862" rx="1.8" ry="1.3" class="b"/>
<path d="M189.4 862v1.6"/>
<ellipse cx="191.4" cy="862.2" rx="0.9" ry="0.6" class="k"/>
<ellipse cx="188.3" cy="864.8" rx="2.1" ry="1.5" class="b"/>
<path d="M186.1 864.8v1.6"/>
<ellipse cx="186.3" cy="868.3" rx="1.7" ry="1.2" class="b"/>
<path d="M184.6 868.3v1.6"/>
<ellipse cx="184.1" cy="871.8" rx="2" ry="1.5" class="b"/>
<path d="M182 871.8v1.6"/>
<ellipse cx="181.8" cy="874.3" rx="2.3" ry="1.6" class="b"/>
<path d="M179.5 874.3v1.6"/>
<ellipse cx="178.7" cy="877.6" rx="2.2" ry="1.6" class="b"/>
<path d="M176.5 877.6v1.6"/>
<ellipse cx="175.9" cy="881.4" rx="2" ry="1.4" class="b"/>
<path d="M174 881.4v1.6"/>
<ellipse cx="174.1" cy="884.7" rx="1.7" ry="1.2" class="b"/>
<path d="M172.4 884.7v1.6"/>
<ellipse cx="170.8" cy="887.3" rx="2" ry="1.4" class="b"/>
<path d="M168.8 887.3v1.6"/>
<ellipse cx="226.6" cy="824.7" rx="2" ry="1.4" class="b"/>
<path d="M224.6 824.7v1.6"/>
<ellipse cx="223.9" cy="827.8" rx="1.8" ry="1.3" class="b"/>
<path d="M222.1 827.8v1.6"/>
<ellipse cx="222.1" cy="831.3" rx="2.3" ry="1.6" class="b"/>
<path d="M219.8 831.3v1.6"/>
<ellipse cx="219.6" cy="833.7" rx="1.9" ry="1.4" class="b"/>
<path d="M217.6 833.7v1.6"/>
<ellipse cx="219.8" cy="833.9" rx="1" ry="0.7" class="k"/>
<ellipse cx="216.3" cy="837.7" rx="2.1" ry="1.5" class="b"/>
<path d="M214.2 837.7v1.6"/>
<ellipse cx="213.7" cy="840.3" rx="1.9" ry="1.4" class="b"/>
<path d="M211.8 840.3v1.6"/>
<ellipse cx="213.9" cy="840.5" rx="0.9" ry="0.7" class="k"/>
<ellipse cx="210.9" cy="844.2" rx="2" ry="1.4" class="b"/>
<path d="M209 844.2v1.6"/>
<ellipse cx="208.5" cy="847.4" rx="1.7" ry="1.3" class="b"/>
<path d="M206.7 847.4v1.6"/>
<ellipse cx="208.7" cy="847.6" rx="0.9" ry="0.6" class="k"/>
<ellipse cx="206.5" cy="850.7" rx="2.3" ry="1.6" class="b"/>
<path d="M204.2 850.7v1.6"/>
<ellipse cx="204.5" cy="854.2" rx="2.1" ry="1.5" class="b"/>
<path d="M202.4 854.2v1.6"/>
<ellipse cx="200.8" cy="856.6" rx="1.6" ry="1.2" class="b"/>
<path d="M199.2 856.6v1.6"/>
<ellipse cx="199.2" cy="860.4" rx="1.8" ry="1.3" class="b"/>
<path d="M197.4 860.4v1.6"/>
<ellipse cx="195.9" cy="863.6" rx="2.3" ry="1.7" class="b"/>
<path d="M193.6 863.6v1.6"/>
<ellipse cx="193.2" cy="866.3" rx="1.8" ry="1.3" class="b"/>
<path d="M191.4 866.3v1.6"/>
<ellipse cx="191.8" cy="869.9" rx="1.7" ry="1.2" class="b"/>
<path d="M190.1 869.9v1.6"/>
<ellipse cx="192" cy="870.1" rx="0.8" ry="0.6" class="k"/>
<ellipse cx="188.4" cy="873.5" rx="1.9" ry="1.4" class="b"/>
<path d="M186.5 873.5v1.6"/>
<ellipse cx="187" cy="876.8" rx="1.9" ry="1.4" class="b"/>
<path d="M185 876.8v1.6"/>
<ellipse cx="183.4" cy="879.2" rx="2" ry="1.4" class="b"/>
<path d="M181.4 879.2v1.6"/>
<ellipse cx="181" cy="882.6" rx="1.6" ry="1.2" class="b"/>
<path d="M179.4 882.6v1.6"/>
<ellipse cx="179.2" cy="886.7" rx="2.3" ry="1.6" class="b"/>
<path d="M176.9 886.7v1.6"/>
<ellipse cx="225.9" cy="832.4" rx="2.1" ry="1.5" class="b"/>
<path d="M223.8 832.4v1.6"/>
<ellipse cx="226.1" cy="832.6" rx="1.1" ry="0.8" class="k"/>
<ellipse cx="224.5" cy="836.4" rx="1.7" ry="1.2" class="b"/>
<path d="M222.8 836.4v1.6"/>
<ellipse cx="220.9" cy="839.5" rx="1.7" ry="1.2" class="b"/>
<path d="M219.2 839.5v1.6"/>
<ellipse cx="219.4" cy="843.2" rx="1.6" ry="1.2" class="b"/>
<path d="M217.8 843.2v1.6"/>
<ellipse cx="216.5" cy="846.3" rx="2" ry="1.4" class="b"/>
<path d="M214.5 846.3v1.6"/>
<ellipse cx="214" cy="849.6" rx="1.7" ry="1.2" class="b"/>
<path d="M212.4 849.6v1.6"/>
<ellipse cx="214.2" cy="849.8" rx="0.8" ry="0.6" class="k"/>
<ellipse cx="211.4" cy="852.2" rx="1.9" ry="1.4" class="b"/>
<path d="M209.6 852.2v1.6"/>
<ellipse cx="211.6" cy="852.4" rx="0.9" ry="0.7" class="k"/>
<ellipse cx="209.2" cy="855.1" rx="2.2" ry="1.6" class="b"/>
<path d="M207 855.1v1.6"/>
<ellipse cx="206.3" cy="858.5" rx="2.1" ry="1.5" class="b"/>
<path d="M204.3 858.5v1.6"/>
<ellipse cx="206.5" cy="858.7" rx="1" ry="0.7" class="k"/>
<ellipse cx="203.8" cy="861.7" rx="2.3" ry="1.6" class="b"/>
<path d="M201.5 861.7v1.6"/>
<ellipse cx="201.2" cy="865" rx="2.1" ry="1.5" class="b"/>
<path d="M199.1 865v1.6"/>
<ellipse cx="199.4" cy="868.2" rx="1.9" ry="1.3" class="b"/>
<path d="M197.5 868.2v1.6"/>
<ellipse cx="196.7" cy="871.5" rx="2" ry="1.5" class="b"/>
<path d="M194.7 871.5v1.6"/>
<ellipse cx="194.3" cy="874.6" rx="1.7" ry="1.2" class="b"/>
<path d="M192.6 874.6v1.6"/>
<ellipse cx="194.5" cy="874.8" rx="0.8" ry="0.6" class="k"/>
<ellipse cx="191.6" cy="878.6" rx="2" ry="1.4" class="b"/>
<path d="M189.7 878.6v1.6"/>
<ellipse cx="188.7" cy="881.8" rx="2.1" ry="1.5" class="b"/>
<path d="M186.7 881.8v1.6"/>
<ellipse cx="186.7" cy="885.3" rx="2.2" ry="1.6" class="b"/>
<path d="M184.5 885.3v1.6"/>
<ellipse cx="184.2" cy="887.6" rx="2.1" ry="1.5" class="b"/>
<path d="M182.1 887.6v1.6"/>
<ellipse cx="225.8" cy="840.9" rx="1.9" ry="1.3" class="b"/>
<path d="M223.9 840.9v1.6"/>
<ellipse cx="226" cy="841.1" rx="0.9" ry="0.7" class="k"/>
<ellipse cx="223.3" cy="844.7" rx="2.3" ry="1.6" class="b"/>
<path d="M221.1 844.7v1.6"/>
<ellipse cx="221.1" cy="848.3" rx="1.7" ry="1.2" class="b"/>
<path d="M219.3 848.3v1.6"/>
<ellipse cx="221.3" cy="848.5" rx="0.9" ry="0.6" class="k"/>
<ellipse cx="218.6" cy="851.1" rx="2.1" ry="1.5" class="b"/>
<path d="M216.5 851.1v1.6"/>
<ellipse cx="216.7" cy="854" rx="2.3" ry="1.6" class="b"/>
<path d="M214.4 854v1.6"/>
<ellipse cx="214.3" cy="857.1" rx="2.2" ry="1.6" class="b"/>
<path d="M212.2 857.1v1.6"/>
<ellipse cx="214.5" cy="857.3" rx="1.1" ry="0.8" class="k"/>
<ellipse cx="211.9" cy="861.3" rx="2.1" ry="1.5" class="b"/>
<path d="M209.8 861.3v1.6"/>
<ellipse cx="212.1" cy="861.5" rx="1" ry="0.7" class="k"/>
<ellipse cx="208.2" cy="863.8" rx="2.2" ry="1.6" class="b"/>
<path d="M206 863.8v1.6"/>
<ellipse cx="208.4" cy="864" rx="1.1" ry="0.8" class="k"/>
<ellipse cx="206.6" cy="867.5" rx="2.1" ry="1.5" class="b"/>
<path d="M204.5 867.5v1.6"/>
<ellipse cx="206.8" cy="867.7" rx="1" ry="0.7" class="k"/>
<ellipse cx="203.4" cy="870.2" rx="2.3" ry="1.6" class="b"/>
<path d="M201.1 870.2v1.6"/>
<ellipse cx="201.6" cy="874" rx="1.8" ry="1.3" class="b"/>
<path d="M199.8 874v1.6"/>
<ellipse cx="201.8" cy="874.2" rx="0.9" ry="0.6" class="k"/>
<ellipse cx="198.2" cy="877.6" rx="1.7" ry="1.2" class="b"/>
<path d="M196.5 877.6v1.6"/>
<ellipse cx="196.2" cy="880.7" rx="1.7" ry="1.2" class="b"/>
<path d="M194.5 880.7v1.6"/>
<ellipse cx="193.5" cy="883.5" rx="2" ry="1.4" class="b"/>
<path d="M191.6 883.5v1.6"/>
<ellipse cx="193.7" cy="883.7" rx="1" ry="0.7" class="k"/>
<ellipse cx="191" cy="887.3" rx="1.8" ry="1.3" class="b"/>
<path d="M189.2 887.3v1.6"/>
<ellipse cx="226" cy="849.4" rx="1.9" ry="1.4" class="b"/>
<path d="M224.1 849.4v1.6"/>
<ellipse cx="226.2" cy="849.6" rx="1" ry="0.7" class="k"/>
<ellipse cx="223.4" cy="853.5" rx="2" ry="1.4" class="b"/>
<path d="M221.4 853.5v1.6"/>
<ellipse cx="221.2" cy="856.7" rx="1.6" ry="1.2" class="b"/>
<path d="M219.6 856.7v1.6"/>
<ellipse cx="218.5" cy="859.7" rx="2" ry="1.4" class="b"/>
<path d="M216.5 859.7v1.6"/>
<ellipse cx="216.4" cy="863.5" rx="2" ry="1.5" class="b"/>
<path d="M214.3 863.5v1.6"/>
<ellipse cx="216.6" cy="863.7" rx="1" ry="0.7" class="k"/>
<ellipse cx="214.3" cy="865.8" rx="2.3" ry="1.7" class="b"/>
<path d="M212 865.8v1.6"/>
<ellipse cx="211" cy="870" rx="1.8" ry="1.3" class="b"/>
<path d="M209.2 870v1.6"/>
<ellipse cx="208.7" cy="872.9" rx="1.6" ry="1.2" class="b"/>
<path d="M207 872.9v1.6"/>
<ellipse cx="205.9" cy="876.3" rx="1.6" ry="1.2" class="b"/>
<path d="M204.3 876.3v1.6"/>
<ellipse cx="203.5" cy="879.1" rx="2" ry="1.4" class="b"/>
<path d="M201.5 879.1v1.6"/>
<ellipse cx="200.9" cy="882.1" rx="1.7" ry="1.2" class="b"/>
<path d="M199.2 882.1v1.6"/>
<ellipse cx="198.4" cy="885.3" rx="2" ry="1.4" class="b"/>
<path d="M196.4 885.3v1.6"/>
<ellipse cx="226.4" cy="857.9" rx="2.1" ry="1.5" class="b"/>
<path d="M224.3 857.9v1.6"/>
<ellipse cx="226.6" cy="858.1" rx="1" ry="0.7" class="k"/>
<ellipse cx="223.7" cy="862.2" rx="2.1" ry="1.5" class="b"/>
<path d="M221.6 862.2v1.6"/>
<ellipse cx="221.6" cy="865.1" rx="2.1" ry="1.5" class="b"/>
<path d="M219.5 865.1v1.6"/>
<ellipse cx="218.5" cy="868.5" rx="1.8" ry="1.3" class="b"/>
<path d="M216.6 868.5v1.6"/>
<ellipse cx="218.7" cy="868.7" rx="0.9" ry="0.7" class="k"/>
<ellipse cx="216.8" cy="871.6" rx="2.2" ry="1.6" class="b"/>
<path d="M214.6 871.6v1.6"/>
<ellipse cx="214" cy="874.3" rx="1.6" ry="1.2" class="b"/>
<path d="M212.4 874.3v1.6"/>
<ellipse cx="211.7" cy="877.7" rx="1.6" ry="1.2" class="b"/>
<path d="M210 877.7v1.6"/>
<ellipse cx="211.9" cy="877.9" rx="0.8" ry="0.6" class="k"/>
<ellipse cx="208.4" cy="881.4" rx="1.6" ry="1.2" class="b"/>
<path d="M206.8 881.4v1.6"/>
<ellipse cx="208.6" cy="881.6" rx="0.8" ry="0.6" class="k"/>
<ellipse cx="206" cy="884.7" rx="2.3" ry="1.6" class="b"/>
<path d="M203.8 884.7v1.6"/>
<ellipse cx="206.2" cy="884.9" rx="1.1" ry="0.8" class="k"/>
<ellipse cx="226.4" cy="866.6" rx="2.1" ry="1.5" class="b"/>
<path d="M224.3 866.6v1.6"/>
<ellipse cx="226.6" cy="866.8" rx="1" ry="0.7" class="k"/>
<ellipse cx="223.6" cy="870.2" rx="2.1" ry="1.5" class="b"/>
<path d="M221.5 870.2v1.6"/>
<ellipse cx="221.2" cy="873.4" rx="2.2" ry="1.6" class="b"/>
<path d="M218.9 873.4v1.6"/>
<ellipse cx="219" cy="876.2" rx="1.9" ry="1.4" class="b"/>
<path d="M217.1 876.2v1.6"/>
<ellipse cx="216.1" cy="879.4" rx="2.3" ry="1.6" class="b"/>
<path d="M213.8 879.4v1.6"/>
<ellipse cx="213.4" cy="883.2" rx="2" ry="1.5" class="b"/>
<path d="M211.3 883.2v1.6"/>
<ellipse cx="213.6" cy="883.4" rx="1" ry="0.7" class="k"/>
<ellipse cx="210.8" cy="886.7" rx="2.1" ry="1.5" class="b"/>
<path d="M208.6 886.7v1.6"/>
<ellipse cx="225.7" cy="875.9" rx="2" ry="1.4" class="b"/>
<path d="M223.8 875.9v1.6"/>
<ellipse cx="223.7" cy="879" rx="2.1" ry="1.5" class="b"/>
<path d="M221.5 879v1.6"/>
<ellipse cx="221" cy="881.8" rx="1.8" ry="1.3" class="b"/>
<path d="M219.2 881.8v1.6"/>
<ellipse cx="221.2" cy="882" rx="0.9" ry="0.6" class="k"/>
<ellipse cx="218.6" cy="884.6" rx="2.2" ry="1.6" class="b"/>
<path d="M216.5 884.6v1.6"/>
<ellipse cx="218.8" cy="884.8" rx="1.1" ry="0.8" class="k"/>
<ellipse cx="215.8" cy="887.9" rx="2.1" ry="1.5" class="b"/>
<path d="M213.7 887.9v1.6"/>
<ellipse cx="216" cy="888.1" rx="1.1" ry="0.8" class="k"/>
<ellipse cx="226.7" cy="884.2" rx="1.8" ry="1.3" class="b"/>
<path d="M224.9 884.2v1.6"/>
<ellipse cx="224.5" cy="886.7" rx="2.3" ry="1.6" class="b"/>
<path d="M222.2 886.7v1.6"/>
</g>
<path d="M101.1 826.3C101.3 825.4 103.1 822.4 104 821.5C104.8 820.7 108.2 818.5 109.7 817.8C111.1 817 116.6 814.5 118.2 814C119.8 813.4 124.3 812.1 125.8 812.1C127.3 812 131.7 813 133.4 813.4C135 813.8 140.5 815.8 141.9 816.2C143.3 816.6 146.7 817.1 147.6 817.4C148.4 817.6 149.5 817.9 150.4 818.7C151.4 819.5 155.4 823.8 157.1 825.3C158.7 826.9 164.3 832.3 166.5 833.9C168.8 835.5 177 839.8 179.8 841.5C182.7 843.2 192 849 195 850.9C198 852.9 207.9 859.9 210.2 861.4C212.4 862.8 217.2 864.7 217.7 865.5C218.3 866.4 217 868.9 215.8 869.9C214.7 870.9 208.4 874.6 206.4 875.6C204.4 876.6 197.7 879.5 195.9 880C194.1 880.4 190.2 880.8 188.4 880.3C186.5 879.9 180.5 876.9 177.9 875.6C175.4 874.3 165.6 868.7 162.7 867.1C159.9 865.4 152.1 861 149.5 859.5C146.8 857.9 138.9 852.8 136.2 851.3C133.5 849.8 125.3 845.8 122.9 844.7C120.6 843.6 114.2 841.1 112.5 840.1C110.8 839.2 106.9 836.2 105.9 835.2C104.9 834.3 102.9 831.5 102.4 830.7C102 829.8 101 827.2 101.1 826.3Z" class="b"/>
<path d="M149.5 814 L154.2 811.1 L159.9 811.1 L166.5 814.9 L174.1 821.5 L179.8 829.1 L189.3 835.8 L179.8 833.9 L168.4 829.1 L159 821.5 L152.3 817.4Z" class="w"/>
<path d="M169.4 823.4 L169.4 828.2" class="b"/>
<path d="M172.6 823.4 L172.6 829.1" class="b"/>
<path d="M159.9 811.1 L160.9 813.6" class="t"/>
<path d="M103 837.7 L109.7 842.4 L121 847.1 L134.3 853.8 L141.9 858.5 L139 851.9 L125.8 845.8 L113.4 840.1 L106.2 835.2Z" class="w"/>
<path d="M113.4 837.7 L113.4 842.4" class="b"/>
<path d="M125.8 843.9 L125.8 848.1" class="b"/>
<ellipse cx="135.8" cy="831.4" rx="9" ry="6" class="w b"/>
<ellipse cx="135.8" cy="831.4" rx="6.6" ry="4.2" class="b"/>
<ellipse cx="135.8" cy="831" rx="3.6" ry="2.3" class="b"/>
<path d="M139.4 831L142.4 831.4" class="b"/>
<path d="M138.4 832.6L140.5 834.4" class="b"/>
<path d="M135.8 833.3L135.8 835.6" class="b"/>
<path d="M133.3 832.6L131.2 834.4" class="b"/>
<path d="M132.2 831L129.2 831.4" class="b"/>
<path d="M133.3 829.4L131.2 828.4" class="b"/>
<path d="M135.8 828.7L135.8 827.2" class="b"/>
<path d="M138.4 829.4L140.5 828.4" class="b"/>
<path d="M166.5 851.9 L174.1 849 L187.4 856.6 L179.8 860.4Z" class="w b"/>
<path d="M183.6 861.4 L193.1 857.6 L210.2 868 L200.7 872.7Z" class="w b"/>
<path d="M188.4 862.3 L191.2 861.4 L206.4 870.5 L204.1 871.8Z" class="t"/>
<path d="M193.1 857.6 L193.5 860.4" class="t"/>
<path d="M157.1 845.3 L162.7 843.4 L170.3 848.1 L164.6 850.4Z" class="w b"/>
<ellipse cx="198.8" cy="855.3" rx="3.2" ry="2.6" class="w b"/>
</g>
<g id="p_misc">
<text class="title" x="60" y="63" textLength="371" lengthAdjust="spacing">Model No.DUH507 500MM CORDLESS HEDGE TRIMMER</text>
<path d="M374.5 263.5H407.7V336.5H374.5Z" class="ld"/>
<path d="M114.5 492.9L157 468.8L216.4 503V568.7L191.1 582.6L114.5 535.9Z" class="ld"/>
<path d="M94.5 625.4H144.3L515.2 846.2V888.2H459.6L94.5 674.4Z" class="ld"/>
<path d="M137 450L345 568.4" class="tt"/>
<text x="188.2" y="220.1">39</text>
<path d="M193.3 213 L200.3 205.4" class="ld"/>
<text x="216.8" y="245.4">4</text>
<text x="270.4" y="261.8">5</text>
<path d="M272.4 253.4 L288.3 236.2" class="ld"/>
<text x="312.9" y="245.9">6</text>
<path d="M309.6 245.9 L306 250.4" class="ld"/>
<text x="274.9" y="295.9">7</text>
<path d="M276.2 287.6 L293.1 272.4" class="ld"/>
<text x="312.9" y="290.9">10</text>
<path d="M308.6 291.4 L298.4 299" class="ld"/>
<text x="249.6" y="321.2">12</text>
<path d="M252.2 323 L267.3 344.5" class="ld"/>
<text x="322.2" y="359.1">9</text>
<path d="M324.2 350.8 L331.8 341.9" class="ld"/>
<text x="355.4" y="271.6">8</text>
<path d="M357.7 272.1 L374.4 284.1" class="ld"/>
<text x="88" y="409.4">14</text>
<path d="M93.6 405.6 L115.9 405.6" class="ld"/>
<text x="74.1" y="470.8">15</text>
<path d="M75.4 461.7 L90.6 444" class="ld"/>
<text x="220" y="334.8">11</text>
<path d="M220 336.5 L220 353" class="ld"/>
<text x="254.2" y="435.1">13</text>
<path d="M254.2 426.8 L254.2 409.1" class="ld"/>
<text x="232.9" y="418.2">38</text>
<path d="M232.9 409.8 L232.9 397.7" class="ld"/>
<text x="107.7" y="473.4">26</text>
<path d="M112.8 472.6 L129.2 484" class="ld"/>
<text x="158.3" y="481.5">25</text>
<path d="M158.3 482.8 L158.3 497.9" class="ld"/>
<text x="122.9" y="525.2">27</text>
<path d="M126.7 525.7 L134.2 533.3" class="ld"/>
<text x="107.2" y="558.6">28</text>
<path d="M112.8 559.9 L133 575" class="ld"/>
<text x="105.7" y="585.9">29</text>
<path d="M111.5 585.2 L121.6 591.5" class="ld"/>
<text x="112.4" y="660">30</text>
<path d="M117.9 651.6 L129.3 641.5" class="ld"/>
<text x="112.1" y="716.3">31</text>
<path d="M117.9 717.3 L135.6 727.5" class="ld"/>
<text x="154.6" y="729">32</text>
<path d="M159.6 730 L169.8 738.8" class="ld"/>
<text x="148.8" y="745.9">33</text>
<path d="M154.6 746.4 L168.5 757.8" class="ld"/>
<text x="157.1" y="782.6">35</text>
<path d="M162.9 783.1 L177.3 794.5" class="ld"/>
<text x="159.6" y="802.1">36</text>
<path d="M159.6 803.3 L159.6 810.9" class="ld"/>
<text x="84.7" y="849.5">37</text>
<path d="M89 850 L101.6 858.8" class="ld"/>
<text x="305.7" y="697.4">34</text>
<text x="433.2" y="212.7">2</text>
<path d="M433.2 216.2 L433.2 220" class="tt"/>
<text x="515.4" y="236.7" font-weight="bold">1</text>
<path d="M515.4 228.8 L515.4 217.5" class="ld"/>
<text x="437.3" y="295.1">3</text>
<path d="M439.4 286.6 L454.6 271.4" class="ld"/>
<text x="594.3" y="319.5">16</text>
<path d="M593.8 321.2 L593.8 337.9" class="ld"/>
<text x="575.6" y="369.5">17</text>
<text x="466.7" y="365.9">18</text>
<path d="M468.5 358 L484.2 338.3" class="ld"/>
<text x="413.4" y="398.8">19</text>
<path d="M419.2 397.2 L444.5 409.9" class="ld"/>
<text x="471.5" y="445.5">20</text>
<path d="M477.3 443.2 L497.6 448.6" class="ld" stroke-dasharray="2.2 1.2"/>
<text x="389.4" y="473.9">21</text>
<path d="M391.4 465.5 L406.5 447.8" class="ld"/>
<text x="474.6" y="504.4">22</text>
<path d="M481.7 502.4 L507 508.2" class="ld" stroke-dasharray="2.2 1.2"/>
<text x="506" y="668">23</text>
<path d="M504.7 658.8 L504.7 644.9" class="ld"/>
<text x="430.1" y="671.5">24</text>
<path d="M431.9 663.4 L449.1 644.9" class="ld"/>
</g>
</svg>
</body>
</html>
